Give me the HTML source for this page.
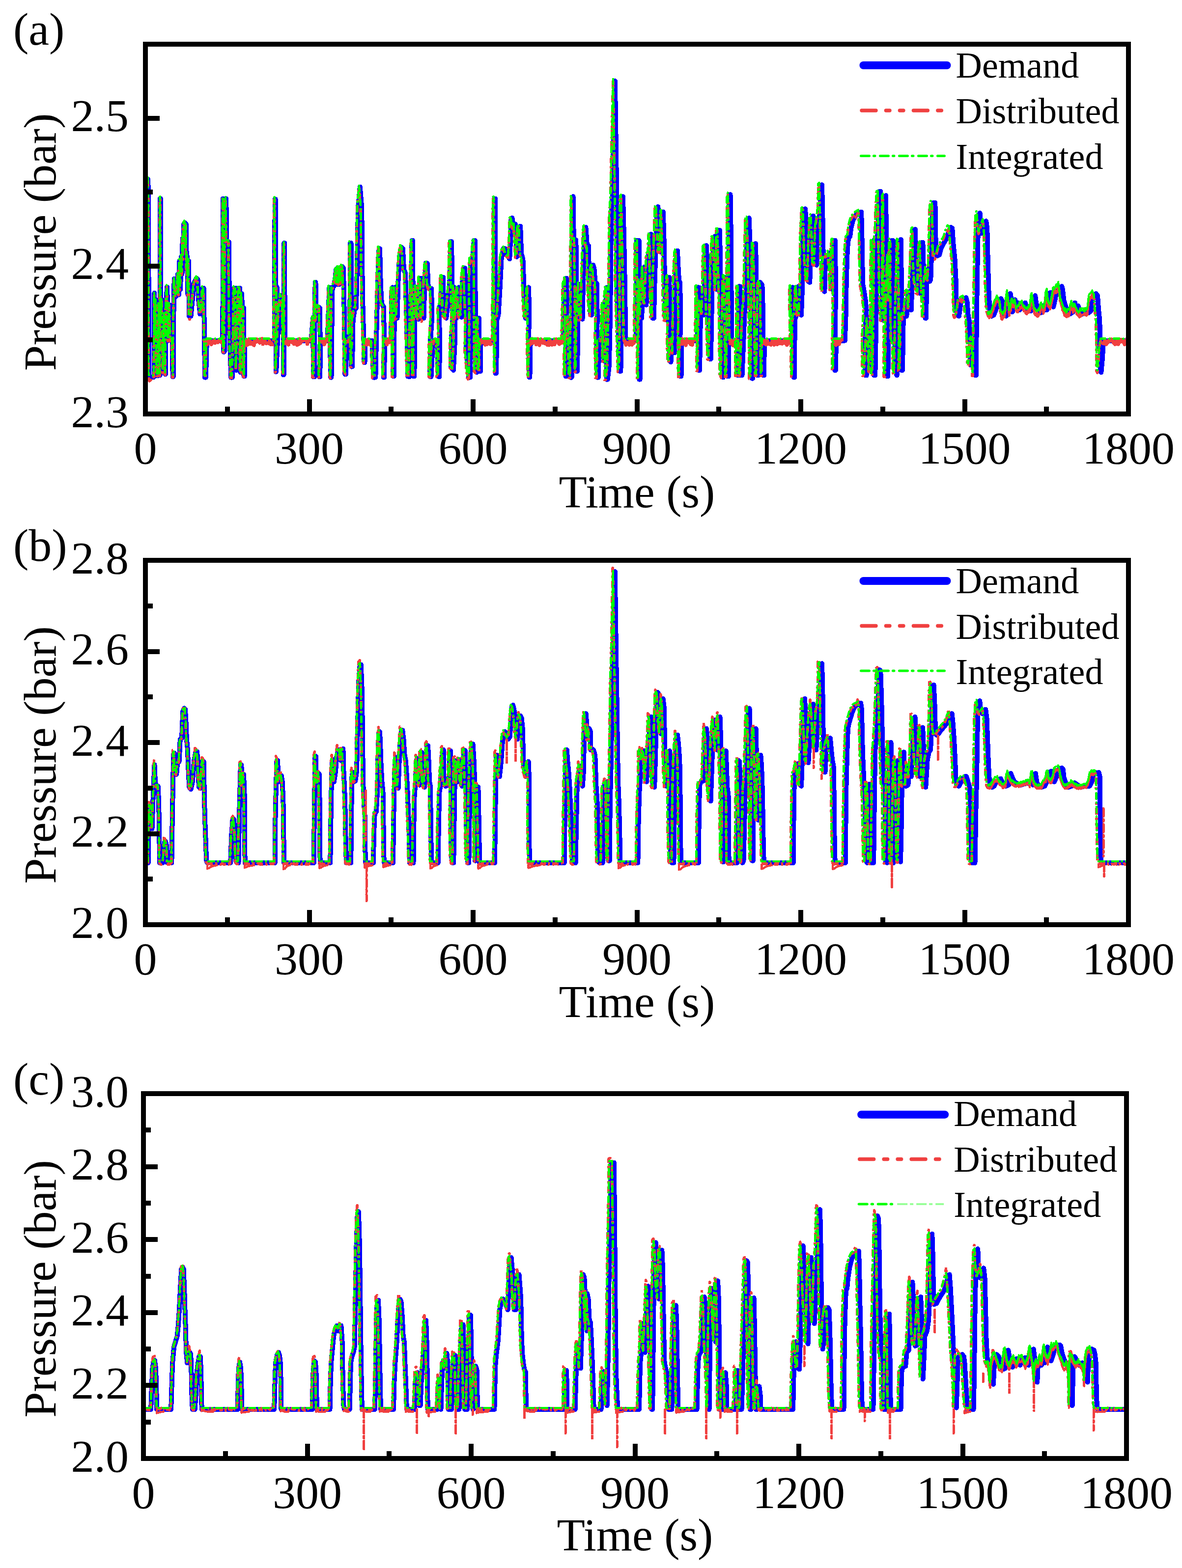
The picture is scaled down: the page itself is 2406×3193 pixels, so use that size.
<!DOCTYPE html>
<html lang="en"><head><meta charset="utf-8"><title>Pressure tracking</title>
<style>html,body{margin:0;padding:0;background:#fff}body{width:2406px;height:3193px}svg{display:block}text{font-family:"Liberation Serif", "Times New Roman", serif;fill:#000}</style></head><body>
<svg width="2406" height="3193" viewBox="0 0 2406 3193">
<rect width="2406" height="3193" fill="#fff"/>
<g id="chart-a">
<clipPath id="clip-a"><rect x="296" y="90" width="2001" height="753"/></clipPath>
<g clip-path="url(#clip-a)" fill="none" stroke-linejoin="round" stroke-linecap="round" shape-rendering="crispEdges">
<path d="M301.2 365.0 302.2 402.4 302.9 767.4 311.8 768.5 313.7 766.4 314.3 596.7 315.1 683.2 317.2 610.4 319.3 764.3 321.0 765.3 323.0 620.8 325.7 764.3 326.0 404.5 326.8 404.5 327.2 652.0 329.3 610.4 331.8 758.1 334.3 641.6 336.8 762.2 337.6 631.2 338.6 610.4 340.1 584.4 341.3 631.2 342.2 693.6 344.7 620.8 347.2 693.6 350.5 691.5 351.7 767.4 352.6 767.4 353.2 652.0 354.7 567.7 357.6 604.1 360.5 600.0 362.1 558.4 363.8 600.0 365.5 531.3 367.1 589.6 368.8 523.0 370.5 558.4 371.7 485.6 373.0 527.2 374.2 456.5 376.1 453.4 377.5 506.4 378.8 456.5 380.0 548.0 381.3 523.0 382.5 600.0 384.2 531.3 385.0 643.7 388.6 643.7 392.1 606.2 395.4 575.0 400.0 566.7 402.5 568.8 404.2 610.4 407.3 639.5 410.0 631.2 412.5 586.5 414.6 586.5 415.6 652.0 416.2 693.6 417.0 768.5 418.7 768.5 420.0 735.2 420.8 693.6 448.9 693.6 453.4 693.6 453.9 404.5 454.5 404.5 455.1 716.5 456.6 716.5 457.4 652.0 458.6 404.5 460.3 404.5 461.3 492.9 466.1 492.9 467.0 664.5 467.8 693.6 470.3 768.5 472.8 768.5 475.3 693.6 476.5 586.5 479.4 586.5 480.3 693.6 481.1 753.9 483.2 693.6 485.3 586.5 488.4 586.5 489.4 758.1 491.1 758.1 491.9 597.9 493.2 627.0 496.1 627.0 496.5 766.4 497.7 766.4 498.2 693.6 546.0 693.6 558.5 693.6 559.7 405.5 560.6 405.5 561.4 581.3 563.7 585.4 564.3 645.7 562.6 693.6 561.6 757.0 562.2 757.0 566.8 652.0 571.0 602.1 575.1 610.4 577.2 714.4 576.8 763.3 577.6 763.3 578.2 610.4 578.4 495.0 579.3 495.0 579.7 691.5 580.3 693.6 633.4 693.6 637.1 647.8 637.9 767.4 640.0 767.4 640.6 631.2 641.7 575.0 642.5 575.0 643.3 652.0 647.9 624.9 651.0 627.0 651.7 693.6 650.0 767.4 651.2 767.4 652.5 693.6 666.6 693.6 670.4 585.4 671.8 693.6 673.3 768.5 674.5 768.5 675.4 672.8 676.6 585.4 679.1 583.3 682.2 568.8 684.3 548.0 686.4 579.2 688.5 545.9 690.6 579.2 692.6 544.9 694.7 577.1 696.2 542.8 698.9 545.9 699.9 589.6 701.0 652.0 702.4 762.2 704.1 762.2 705.1 693.6 711.3 693.6 712.4 631.2 713.2 495.0 714.5 495.0 714.9 631.2 715.5 746.6 717.0 746.6 718.6 652.0 721.7 631.2 724.9 627.0 726.9 548.0 729.0 423.2 732.8 380.6 736.3 423.2 737.3 548.0 738.4 618.7 740.5 693.6 741.5 738.3 742.5 738.3 743.6 693.6 757.1 693.6 760.2 768.5 764.4 768.5 766.0 693.6 767.5 631.2 770.2 527.2 771.7 506.4 773.1 506.4 774.8 579.2 776.9 618.7 781.0 624.9 782.1 693.6 780.6 768.5 782.1 768.5 783.1 693.6 796.0 693.6 796.0 693.6 797.7 589.6 799.1 585.4 800.2 766.4 801.8 766.4 802.7 652.0 803.9 585.4 805.4 647.8 808.5 647.8 810.6 568.8 813.7 516.8 816.8 503.3 819.9 506.4 822.0 548.0 825.1 556.3 827.2 631.2 828.9 693.6 830.3 766.4 833.4 767.4 835.5 693.6 836.6 610.4 838.6 489.8 840.1 489.8 840.7 610.4 841.3 766.4 843.4 766.4 844.3 652.0 845.9 586.5 848.0 585.4 849.7 647.8 852.2 649.9 854.2 566.7 857.4 566.7 858.4 647.8 862.6 647.8 864.6 568.8 866.7 535.5 869.8 536.5 871.3 579.2 874.0 587.5 878.2 587.5 879.2 647.8 876.1 693.6 875.0 766.4 877.5 767.4 879.2 735.2 881.3 693.6 887.5 693.6 890.6 693.6 891.7 766.4 894.2 767.4 895.0 693.6 893.8 627.0 896.9 620.8 899.0 564.6 902.1 564.6 903.1 641.6 908.3 647.8 912.5 610.4 915.6 568.8 917.0 491.8 919.1 491.8 920.4 579.2 921.8 647.8 918.7 693.6 918.3 747.7 922.9 753.9 926.0 693.6 925.0 585.4 929.1 647.8 931.2 589.6 933.7 585.4 935.4 643.7 939.5 645.7 941.6 568.8 943.7 545.9 946.2 545.9 947.4 589.6 949.9 647.8 948.9 714.4 954.1 768.5 957.2 768.5 958.2 652.0 957.2 589.6 958.2 529.3 962.4 527.2 964.9 489.8 967.0 489.8 967.8 652.0 968.2 756.0 970.3 758.1 971.7 714.4 972.8 647.8 974.9 647.8 976.1 756.0 978.0 756.0 978.6 693.6 1005.0 693.6 1006.5 404.5 1008.1 404.5 1008.6 760.1 1010.2 760.1 1011.3 652.0 1014.4 641.6 1017.5 589.6 1020.6 527.2 1024.8 506.4 1027.9 506.4 1031.0 516.8 1037.3 527.2 1039.3 485.6 1040.4 448.2 1042.5 444.0 1046.0 464.8 1048.8 456.5 1051.9 523.0 1054.0 520.9 1056.1 464.8 1059.2 460.6 1061.3 516.8 1064.4 527.2 1065.9 568.8 1067.6 610.4 1069.7 647.8 1072.8 647.8 1074.9 589.6 1076.3 585.4 1077.0 652.0 1075.9 693.6 1077.6 768.5 1078.4 768.5 1079.7 693.6 1146.5 693.6 1149.0 581.3 1152.7 566.7 1154.2 610.4 1152.1 693.6 1151.5 766.4 1153.2 766.4 1155.2 652.0 1159.4 647.8 1161.5 768.5 1163.6 768.5 1164.6 652.0 1165.3 402.4 1166.7 400.3 1167.8 489.8 1172.4 488.7 1173.6 589.6 1174.0 693.6 1173.6 756.0 1175.1 756.0 1176.5 647.8 1180.3 579.2 1182.4 647.8 1185.5 649.9 1187.6 548.0 1190.7 464.8 1192.4 462.7 1194.9 498.1 1198.0 500.1 1199.1 568.8 1202.2 639.5 1204.3 641.6 1205.3 548.0 1207.4 539.7 1209.5 548.0 1211.6 575.0 1214.7 577.1 1215.8 647.8 1214.7 693.6 1215.8 768.5 1217.9 768.5 1219.5 693.6 1226.2 693.6 1228.7 620.8 1230.4 735.2 1232.5 620.8 1235.6 585.4 1237.7 587.5 1236.7 693.6 1234.6 772.6 1236.7 772.6 1239.8 745.6 1241.9 652.0 1242.9 568.8 1244.0 444.0 1246.5 400.3 1251.9 165.1 1255.4 400.3 1256.5 589.6 1259.6 693.6 1261.7 756.0 1263.4 756.0 1264.8 683.2 1265.9 402.4 1268.0 400.3 1270.1 485.6 1272.1 589.6 1273.2 683.2 1274.2 693.6 1295.1 693.6 1296.2 489.8 1298.2 489.8 1298.7 489.8 1300.7 489.8 1301.4 772.6 1302.6 772.6 1303.5 652.0 1304.3 572.9 1306.0 647.8 1309.1 589.6 1311.2 543.8 1313.3 610.4 1315.4 620.8 1319.5 518.9 1322.7 516.8 1324.3 477.3 1325.8 477.3 1326.8 568.8 1328.5 647.8 1331.0 647.8 1332.1 589.6 1334.1 527.2 1335.6 473.1 1337.3 423.2 1339.4 421.1 1341.5 464.8 1343.5 512.6 1346.7 512.6 1348.1 433.6 1349.8 431.5 1351.5 485.6 1352.3 527.2 1353.6 610.4 1354.4 647.8 1358.2 652.0 1360.2 566.7 1362.3 564.6 1363.4 652.0 1362.3 693.6 1363.4 735.2 1365.5 737.3 1367.5 693.6 1371.7 693.6 1372.8 718.5 1373.8 652.0 1374.4 568.8 1376.9 516.8 1379.0 510.5 1380.7 548.0 1382.2 572.9 1384.2 575.0 1385.3 652.0 1384.2 693.6 1384.9 766.4 1386.5 766.4 1387.4 693.6 1419.7 693.6 1420.4 585.4 1422.9 585.4 1423.3 693.6 1422.4 753.9 1424.1 753.9 1425.4 672.8 1427.0 614.5 1430.2 616.6 1432.3 641.6 1434.3 568.8 1435.4 502.2 1437.9 500.1 1439.6 548.0 1441.7 631.2 1443.7 693.6 1444.8 731.0 1446.9 731.0 1448.3 652.0 1450.0 548.0 1453.1 485.6 1455.2 481.4 1457.3 527.2 1459.4 589.6 1461.5 568.8 1462.5 469.0 1465.0 469.0 1466.3 548.0 1467.7 610.4 1468.8 693.6 1469.8 766.4 1471.9 768.5 1474.0 652.0 1476.1 564.6 1478.2 564.6 1479.6 652.0 1480.9 766.4 1483.0 766.4 1483.8 652.0 1484.4 402.4 1486.5 396.2 1488.0 485.6 1488.6 610.4 1489.3 693.6 1501.1 693.6 1501.8 764.3 1503.2 764.3 1503.9 583.3 1506.4 583.3 1507.4 693.6 1508.5 764.3 1510.5 764.3 1512.6 714.4 1515.8 631.2 1517.9 618.7 1519.9 527.2 1522.0 446.1 1524.7 444.0 1526.2 485.6 1528.3 589.6 1529.3 693.6 1530.4 770.5 1532.5 770.5 1533.5 652.0 1535.6 498.1 1538.1 496.0 1539.8 589.6 1540.8 693.6 1541.9 764.3 1543.9 764.3 1546.0 652.0 1547.1 575.0 1550.6 579.2 1550.6 579.2 1552.3 589.6 1553.1 693.6 1553.8 764.3 1555.2 764.3 1555.8 693.6 1613.3 693.6 1612.2 585.4 1614.3 585.4 1615.3 693.6 1615.8 768.5 1617.0 768.5 1617.8 652.0 1621.6 639.5 1623.7 589.6 1625.4 583.3 1627.4 639.5 1631.0 641.6 1633.1 585.4 1634.1 485.6 1636.6 427.4 1639.3 425.3 1640.8 475.2 1642.5 527.2 1645.6 572.9 1648.3 575.0 1650.4 506.4 1652.9 444.0 1655.4 439.8 1657.5 485.6 1659.2 537.6 1662.3 539.7 1664.4 464.8 1667.5 444.0 1670.0 423.2 1671.3 377.4 1673.0 376.4 1674.2 423.2 1675.5 506.4 1676.3 589.6 1678.4 593.7 1680.1 527.2 1684.2 525.1 1687.4 516.8 1690.5 514.7 1692.6 548.0 1694.7 589.6 1696.8 502.2 1698.4 489.8 1700.1 489.8 1700.9 589.6 1699.9 693.6 1699.3 753.9 1700.9 753.9 1702.0 693.6 1719.7 693.6 1721.4 652.0 1722.8 568.8 1724.9 506.4 1727.0 485.6 1730.2 481.4 1732.2 464.8 1736.4 448.2 1742.7 437.8 1748.9 433.6 1753.1 431.5 1754.2 464.8 1755.2 527.2 1756.2 579.2 1758.3 589.6 1761.5 610.4 1763.6 631.2 1760.4 693.6 1761.5 764.3 1763.6 764.3 1765.6 735.2 1767.7 693.6 1769.8 652.0 1771.9 683.2 1774.0 756.0 1777.1 652.0 1778.6 489.8 1780.3 489.8 1781.3 610.4 1780.3 693.6 1779.2 764.3 1781.3 764.3 1783.4 652.0 1784.8 485.6 1786.5 477.3 1788.6 423.2 1790.3 389.9 1792.4 389.9 1793.8 485.6 1795.9 610.4 1798.0 652.0 1801.5 631.2 1801.5 402.4 1803.2 398.2 1804.1 506.4 1805.3 766.4 1807.4 766.4 1808.9 589.6 1812.0 523.0 1814.1 610.4 1815.7 489.8 1817.8 489.8 1818.7 652.0 1819.3 693.6 1822.4 704.0 1823.5 756.0 1825.6 764.3 1827.6 652.0 1829.7 568.8 1831.8 489.8 1833.9 487.7 1835.0 589.6 1836.0 693.6 1835.0 753.9 1837.0 753.9 1838.7 652.0 1841.2 641.6 1845.4 643.7 1848.5 595.8 1851.7 593.7 1854.8 631.2 1856.9 568.8 1859.0 527.2 1861.0 469.0 1863.1 466.9 1864.2 527.2 1866.3 568.8 1870.4 595.8 1873.6 597.9 1874.6 527.2 1876.3 493.9 1878.4 493.9 1879.8 548.0 1881.9 610.4 1883.4 647.8 1885.1 647.8 1886.1 579.2 1889.2 548.0 1892.4 572.9 1894.4 568.8 1896.5 506.4 1898.6 423.2 1900.7 412.8 1903.4 412.8 1904.3 464.8 1904.9 518.9 1908.0 520.9 1912.2 518.9 1915.3 506.4 1920.5 496.0 1926.8 485.6 1932.0 469.0 1935.2 462.7 1938.3 464.8 1940.4 496.0 1943.5 527.2 1945.6 568.8 1946.6 610.4 1947.7 641.6 1951.9 643.7 1956.0 614.5 1962.3 608.3 1966.5 606.2 1968.6 614.5 1970.6 641.6 1972.7 652.0 1974.4 693.6 1975.9 743.5 1977.9 743.5 1980.0 693.6 1983.2 689.4 1984.8 714.4 1985.7 764.3 1986.9 764.3 1987.8 652.0 1989.0 568.8 1990.5 485.6 1992.6 437.8 1994.6 433.6 1996.7 464.8 1998.8 475.2 2003.0 460.6 2007.2 450.2 2009.3 464.8 2010.7 527.2 2012.4 589.6 2014.5 631.2 2018.7 643.7 2022.8 641.6 2027.0 631.2 2031.2 616.6 2037.4 608.3 2041.6 616.6 2043.7 639.5 2047.9 643.7 2052.5 635.3 2052.5 631.2 2054.6 610.4 2056.7 597.9 2058.7 610.4 2060.8 635.3 2064.0 627.0 2066.0 610.4 2069.2 620.8 2072.3 616.6 2075.4 631.2 2079.6 627.0 2083.8 620.8 2086.9 616.6 2090.1 627.0 2094.2 631.2 2098.4 633.3 2103.6 627.0 2105.7 606.2 2107.2 602.1 2108.8 614.5 2112.0 631.2 2117.2 637.4 2122.4 635.3 2126.6 620.8 2130.8 631.2 2134.3 620.8 2136.0 597.9 2138.1 595.8 2140.2 616.6 2144.3 624.9 2147.5 610.4 2150.6 593.7 2154.8 589.6 2158.9 587.5 2161.4 583.3 2163.1 589.6 2165.2 610.4 2169.4 624.9 2173.6 635.3 2177.7 639.5 2184.0 635.3 2188.2 616.6 2191.3 631.2 2194.4 622.9 2198.6 635.3 2202.8 639.5 2209.0 635.3 2215.3 637.4 2220.5 633.3 2223.7 610.4 2226.8 600.0 2231.0 597.9 2234.1 602.1 2236.2 631.2 2238.3 652.0 2239.3 693.6 2239.9 756.0 2241.4 758.1 2243.5 735.2 2245.6 704.0 2247.7 693.6 2250.8 693.6 2303.4 693.6" stroke="#0000ff" stroke-width="10"/>
<path d="M301.2 365.0 302.2 402.4 302.8 767.4 M302.8 767.4 304.3 774.9 305.8 774.3 307.3 773.2 308.8 768.8 310.3 769.9 311.7 768.5 M311.7 768.5 313.6 766.4 314.2 596.7 315.1 683.2 317.1 610.4 319.2 764.3 320.9 765.3 322.9 620.8 325.6 764.3 325.8 404.5 326.7 404.5 327.1 652.0 329.2 610.4 331.6 758.1 334.1 641.6 336.6 762.2 337.4 631.2 338.5 610.4 339.9 584.4 341.2 631.2 342.0 693.6 344.5 620.8 347.0 693.6 348.6 697.7 350.3 691.5 351.5 767.4 352.4 767.4 353.0 652.0 354.4 567.7 357.3 604.1 360.2 600.0 361.9 558.4 363.6 600.0 365.2 531.3 366.9 589.6 368.5 523.0 370.2 558.4 371.4 485.6 372.7 527.2 373.9 456.5 375.8 453.4 377.2 506.4 378.5 456.5 379.7 548.0 381.0 523.0 382.2 600.0 383.9 531.3 384.7 643.7 386.5 649.6 388.2 643.7 391.7 606.2 395.1 575.0 399.6 566.7 400.9 566.6 402.1 568.8 403.8 610.4 406.9 639.5 409.6 631.2 412.0 586.5 414.1 586.5 415.2 652.0 415.8 693.6 416.6 768.5 418.3 768.5 419.5 735.2 420.3 693.6 M448.3 693.6 449.8 693.2 451.3 697.6 452.9 693.6 453.3 404.5 453.9 404.5 454.5 716.5 456.0 716.5 456.8 652.0 458.0 404.5 459.7 404.5 460.7 492.9 462.3 498.8 463.9 499.0 465.5 492.9 466.3 664.5 467.2 693.6 469.7 768.5 472.1 768.5 474.6 693.6 475.9 586.5 478.8 586.5 479.6 693.6 480.4 753.9 482.5 693.6 484.6 586.5 486.1 587.4 487.7 586.5 488.7 758.1 490.4 758.1 491.2 597.9 492.4 627.0 495.3 627.0 495.8 766.4 497.0 766.4 497.4 693.6 M557.5 693.6 558.8 405.5 559.6 405.5 560.4 581.3 562.7 585.4 563.3 645.7 561.7 693.6 560.6 757.0 561.2 757.0 565.8 652.0 569.9 602.1 574.1 610.4 576.2 714.4 575.7 763.3 576.6 763.3 577.2 610.4 577.4 495.0 578.2 495.0 578.6 691.5 579.3 693.6 M632.1 693.6 635.8 647.8 636.7 767.4 638.7 767.4 639.4 631.2 640.4 575.0 641.2 575.0 642.1 652.0 646.6 624.9 648.2 626.7 649.7 627.0 650.3 693.6 648.7 767.4 649.9 767.4 651.2 693.6 M665.3 693.6 669.0 585.4 670.4 693.6 671.9 768.5 673.1 768.5 674.0 672.8 675.2 585.4 676.5 591.6 677.7 583.3 680.8 568.8 682.9 548.0 685.0 579.2 687.0 545.9 689.1 579.2 691.2 544.9 693.2 577.1 694.7 542.8 696.0 547.5 697.4 545.9 698.4 589.6 699.5 652.0 700.9 762.2 702.6 762.2 703.6 693.6 705.2 695.8 706.7 694.2 708.3 695.7 709.8 693.6 710.9 631.2 711.7 495.0 712.9 495.0 713.3 631.2 714.0 746.6 715.4 746.6 717.1 652.0 720.2 631.2 723.3 627.0 725.4 548.0 727.4 423.2 731.2 380.6 734.7 423.2 735.7 548.0 736.8 618.7 738.8 693.6 739.9 738.3 740.9 738.3 741.9 693.6 M755.4 693.6 758.5 768.5 760.6 767.2 762.7 768.5 764.3 693.6 765.8 631.2 768.5 527.2 769.9 506.4 771.4 506.4 773.0 579.2 775.1 618.7 779.2 624.9 780.3 693.6 778.8 768.5 780.3 768.5 781.3 693.6 M794.2 693.6 794.2 693.6 795.8 589.6 797.3 585.4 798.3 766.4 800.0 766.4 800.8 652.0 802.0 585.4 803.5 647.8 805.0 649.3 806.6 647.8 808.7 568.8 811.8 516.8 814.9 503.3 815.9 509.2 817.0 510.1 818.0 506.4 820.1 548.0 823.2 556.3 825.2 631.2 826.9 693.6 828.3 766.4 829.9 765.7 831.5 767.4 833.5 693.6 834.6 610.4 836.6 489.8 838.1 489.8 838.7 610.4 839.3 766.4 841.4 766.4 842.2 652.0 843.9 586.5 846.0 585.4 847.6 647.8 848.9 651.5 850.1 649.9 852.2 566.7 853.7 566.5 855.3 566.7 856.3 647.8 858.4 653.7 860.5 647.8 862.5 568.8 864.6 535.5 866.2 539.1 867.7 536.5 869.2 579.2 871.9 587.5 873.9 589.5 876.0 587.5 877.0 647.8 873.9 693.6 872.9 766.4 875.4 767.4 877.0 735.2 879.1 693.6 880.7 699.6 882.2 699.7 883.8 692.9 885.3 693.6 886.9 693.1 888.4 693.6 889.5 766.4 892.0 767.4 892.8 693.6 891.6 627.0 894.7 620.8 896.7 564.6 898.3 566.2 899.8 564.6 900.9 641.6 906.1 647.8 910.2 610.4 913.3 568.8 914.8 491.8 916.8 491.8 918.1 579.2 919.5 647.8 916.4 693.6 916.0 747.7 920.6 753.9 923.7 693.6 922.6 585.4 926.8 647.8 928.8 589.6 931.3 585.4 933.0 643.7 934.4 645.9 935.8 647.7 937.1 645.7 939.2 568.8 941.3 545.9 943.8 545.9 945.0 589.6 947.5 647.8 946.5 714.4 951.6 768.5 953.2 771.0 954.8 768.5 955.8 652.0 954.8 589.6 955.8 529.3 957.2 536.0 958.6 532.6 959.9 527.2 962.4 489.8 964.5 489.8 965.3 652.0 965.7 756.0 967.8 758.1 969.3 714.4 970.3 647.8 972.4 647.8 973.6 756.0 975.5 756.0 976.1 693.6 M1002.4 693.6 1003.9 404.5 1005.5 404.5 1005.9 760.1 1007.6 760.1 1008.6 652.0 1011.7 641.6 1014.8 589.6 1018.0 527.2 1022.1 506.4 1023.7 506.4 1025.2 506.4 1028.3 516.8 1034.5 527.2 1036.6 485.6 1037.6 448.2 1039.7 444.0 1043.2 464.8 1046.0 456.5 1049.1 523.0 1051.2 520.9 1053.3 464.8 1056.4 460.6 1058.5 516.8 1061.6 527.2 1063.1 568.8 1064.7 610.4 1066.8 647.8 1068.4 648.7 1069.9 647.8 1072.0 589.6 1073.5 585.4 1074.1 652.0 1073.0 693.6 1074.7 768.5 1075.5 768.5 1076.8 693.6 M1143.3 693.6 1145.8 581.3 1149.6 566.7 1151.0 610.4 1149.0 693.6 1148.3 766.4 1150.0 766.4 1152.1 652.0 1153.1 656.9 1154.2 655.6 1155.2 651.0 1156.2 647.8 1158.3 768.5 1160.4 768.5 1161.4 652.0 1162.1 402.4 1163.5 400.3 1164.6 489.8 1166.1 496.7 1167.6 495.4 1169.1 488.7 1170.4 589.6 1170.8 693.6 1170.4 756.0 1171.8 756.0 1173.3 647.8 1177.0 579.2 1179.1 647.8 1180.7 654.9 1182.2 649.9 1184.3 548.0 1187.4 464.8 1189.1 462.7 1191.6 498.1 1193.2 502.7 1194.7 500.1 1195.8 568.8 1198.9 639.5 1201.0 641.6 1202.0 548.0 1204.1 539.7 1206.1 548.0 1208.2 575.0 1209.8 580.5 1211.3 577.1 1212.4 647.8 1211.3 693.6 1212.4 768.5 1214.5 768.5 1216.1 693.6 1217.8 693.4 1219.5 692.6 1221.1 692.4 1222.8 693.6 1225.3 620.8 1226.9 735.2 1229.0 620.8 1232.1 585.4 1234.2 587.5 1233.2 693.6 1231.1 772.6 1233.2 772.6 1236.3 745.6 1238.4 652.0 1239.4 568.8 1240.5 444.0 1243.0 400.3 1248.4 165.1 1251.9 400.3 1252.9 589.6 1256.1 693.6 1258.1 756.0 1259.8 756.0 1261.3 683.2 1262.3 402.4 1264.4 400.3 1266.5 485.6 1268.5 589.6 1269.6 683.2 1270.6 693.6 M1291.4 693.6 1292.5 489.8 1294.5 489.8 1295.0 489.8 1297.0 489.8 1297.7 772.6 1298.9 772.6 1299.7 652.0 1300.6 572.9 1302.2 647.8 1305.4 589.6 1307.4 543.8 1309.5 610.4 1311.6 620.8 1315.8 518.9 1317.3 517.9 1318.9 516.8 1320.5 477.3 1322.0 477.3 1323.0 568.8 1324.7 647.8 1327.2 647.8 1328.2 589.6 1330.3 527.2 1331.8 473.1 1333.4 423.2 1335.5 421.1 1337.6 464.8 1339.7 512.6 1341.2 513.1 1342.8 512.6 1344.3 433.6 1345.9 431.5 1347.6 485.6 1348.4 527.2 1349.7 610.4 1350.5 647.8 1351.7 651.1 1353.0 649.5 1354.2 652.0 1356.3 566.7 1358.4 564.6 1359.4 652.0 1358.4 693.6 1359.4 735.2 1361.5 737.3 1363.6 693.6 1365.7 700.2 1367.8 693.6 1368.8 718.5 1369.8 652.0 1370.5 568.8 1373.0 516.8 1375.0 510.5 1376.7 548.0 1378.2 572.9 1380.2 575.0 1381.3 652.0 1380.2 693.6 1380.9 766.4 1382.5 766.4 1383.4 693.6 M1415.6 693.6 1416.2 585.4 1418.7 585.4 1419.1 693.6 1418.3 753.9 1420.0 753.9 1421.2 672.8 1422.9 614.5 1424.4 615.9 1426.0 616.6 1428.1 641.6 1430.2 568.8 1431.2 502.2 1432.4 505.2 1433.7 500.1 1435.4 548.0 1437.4 631.2 1439.5 693.6 1440.6 731.0 1442.6 731.0 1444.1 652.0 1445.8 548.0 1448.9 485.6 1451.0 481.4 1453.0 527.2 1455.1 589.6 1457.2 568.8 1458.2 469.0 1460.7 469.0 1462.0 548.0 1463.4 610.4 1464.5 693.6 1465.5 766.4 1467.6 768.5 1469.7 652.0 1471.7 564.6 1473.8 564.6 1475.3 652.0 1476.5 766.4 1478.6 766.4 1479.4 652.0 1480.1 402.4 1482.1 396.2 1483.6 485.6 1484.2 610.4 1484.9 693.6 M1496.7 693.6 1497.3 764.3 1498.8 764.3 1499.4 583.3 1501.9 583.3 1502.9 693.6 1504.0 764.3 1506.1 764.3 1508.1 714.4 1511.3 631.2 1513.3 618.7 1515.4 527.2 1517.5 446.1 1518.9 452.4 1520.2 444.0 1521.7 485.6 1523.7 589.6 1524.8 693.6 1525.8 770.5 1527.9 770.5 1528.9 652.0 1531.0 498.1 1532.3 501.5 1533.5 496.0 1535.2 589.6 1536.2 693.6 1537.3 764.3 1539.3 764.3 1541.4 652.0 1542.5 575.0 1543.6 579.5 1544.8 580.9 1546.0 579.2 1546.0 579.2 1547.7 589.6 1548.5 693.6 1549.1 764.3 1550.6 764.3 1551.2 693.6 M1608.4 693.6 1607.4 585.4 1609.4 585.4 1610.5 693.6 1610.9 768.5 1612.1 768.5 1613.0 652.0 1616.7 639.5 1618.8 589.6 1620.5 583.3 1622.5 639.5 1624.3 645.8 1626.1 641.6 1628.2 585.4 1629.2 485.6 1631.7 427.4 1633.0 427.8 1634.4 425.3 1635.9 475.2 1637.5 527.2 1640.6 572.9 1642.0 574.8 1643.3 575.0 1645.4 506.4 1647.9 444.0 1650.4 439.8 1652.5 485.6 1654.2 537.6 1655.7 539.0 1657.3 539.7 1659.4 464.8 1662.5 444.0 1665.0 423.2 1666.2 377.4 1667.9 376.4 1669.1 423.2 1670.4 506.4 1671.2 589.6 1673.3 593.7 1675.0 527.2 1676.3 527.6 1677.7 529.0 1679.1 525.1 1682.2 516.8 1683.8 520.8 1685.4 514.7 1687.4 548.0 1689.5 589.6 1691.6 502.2 1693.3 489.8 1694.9 489.8 1695.8 589.6 1694.7 693.6 1694.1 753.9 1695.8 753.9 1696.8 693.6 M1714.5 693.6 1716.1 652.0 1717.6 568.8 1719.7 506.4 1721.7 485.6 1724.9 481.4 1726.9 464.8 1731.1 448.2 1737.3 437.8 1738.6 436.6 1739.8 435.5 1741.1 437.7 1742.3 441.7 1743.6 433.6 1745.0 436.7 1746.4 433.4 1747.7 431.5 1748.8 464.8 1749.8 527.2 1750.9 579.2 1752.9 589.6 1756.1 610.4 1758.1 631.2 1755.0 693.6 1756.1 764.3 1758.1 764.3 1760.2 735.2 1762.3 693.6 1764.4 652.0 1766.5 683.2 1768.5 756.0 1771.7 652.0 1773.1 489.8 1774.8 489.8 1775.8 610.4 1774.8 693.6 1773.7 764.3 1775.8 764.3 1777.9 652.0 1779.4 485.6 1781.0 477.3 1783.1 423.2 1784.8 389.9 1786.8 389.9 1788.3 485.6 1790.4 610.4 1792.5 652.0 1796.0 631.2 1796.0 402.4 1797.7 398.2 1798.5 506.4 1799.7 766.4 1801.8 766.4 1803.3 589.6 1806.4 523.0 1808.5 610.4 1810.1 489.8 1812.2 489.8 1813.1 652.0 1813.7 693.6 1816.8 704.0 1817.8 756.0 1819.9 764.3 1822.0 652.0 1824.1 568.8 1826.2 489.8 1828.2 487.7 1829.3 589.6 1830.3 693.6 1829.3 753.9 1831.4 753.9 1833.0 652.0 1835.5 641.6 1836.9 649.6 1838.3 644.2 1839.7 643.7 1842.8 595.8 1844.4 594.7 1845.9 593.7 1849.0 631.2 1851.1 568.8 1853.2 527.2 1855.3 469.0 1857.4 466.9 1858.4 527.2 1860.5 568.8 1864.6 595.8 1866.2 596.7 1867.8 597.9 1868.8 527.2 1870.5 493.9 1872.5 493.9 1874.0 548.0 1876.1 610.4 1877.5 647.8 1879.2 647.8 1880.2 579.2 1883.4 548.0 1886.5 572.9 1888.6 568.8 1890.6 506.4 1892.7 423.2 1894.8 412.8 1897.5 412.8 1898.3 464.8 1899.0 518.9 1900.5 518.8 1902.1 520.9 1903.5 527.2 1904.8 523.0 1906.2 518.9 1909.4 506.4 1914.6 496.0 1920.8 485.6 1926.0 469.0 1929.1 462.7 1930.7 471.3 1932.2 464.8 1934.3 496.0 1937.4 527.2 1939.5 568.8 1940.6 610.4 1941.6 641.6 1943.0 645.8 1944.4 642.3 1945.8 643.7 1949.9 614.5 1951.0 615.5 1952.0 614.3 1953.0 611.5 1954.1 609.8 1955.1 614.2 1956.1 608.3 1957.5 614.1 1958.9 614.0 1960.3 606.2 1962.4 614.5 1964.5 641.6 1966.5 652.0 1968.2 693.6 1969.7 743.5 1971.7 743.5 1973.8 693.6 1976.9 689.4 1978.6 714.4 1979.4 764.3 1980.7 764.3 1981.5 652.0 1982.8 568.8 1984.2 485.6 1986.3 437.8 1988.4 433.6 1990.5 464.8 1992.5 475.2 1996.7 460.6 2000.9 450.2 2002.9 464.8 2004.4 527.2 2006.1 589.6 2008.1 631.2 2012.3 643.7 2013.7 643.8 2015.1 646.5 2016.5 641.6 2020.6 631.2 2024.8 616.6 2031.0 608.3 2035.2 616.6 2037.3 639.5 2038.3 641.5 2039.3 647.9 2040.4 649.5 2041.4 643.7 2046.0 635.3 2046.0 631.2 2048.1 610.4 2050.2 597.9 2052.2 610.4 2054.3 635.3 2057.4 627.0 2059.5 610.4 2062.6 620.8 2065.8 616.6 2068.9 631.2 2069.9 628.9 2071.0 629.5 2072.0 634.6 2073.0 627.0 2077.2 620.8 2080.3 616.6 2083.4 627.0 2084.5 635.6 2085.5 635.4 2086.6 629.4 2087.6 631.2 2089.0 636.0 2090.4 638.2 2091.8 633.3 2092.8 635.8 2093.8 634.3 2094.9 635.2 2095.9 627.5 2097.0 627.0 2099.0 606.2 2100.5 602.1 2102.2 614.5 2105.3 631.2 2106.3 636.2 2107.4 641.1 2108.4 638.6 2109.4 638.1 2110.5 637.4 2111.8 636.8 2113.1 643.1 2114.4 640.6 2115.7 635.3 2119.8 620.8 2124.0 631.2 2127.5 620.8 2129.2 597.9 2131.3 595.8 2133.4 616.6 2137.5 624.9 2140.6 610.4 2143.8 593.7 2144.8 600.0 2145.8 599.0 2146.9 595.5 2147.9 589.6 2149.3 595.3 2150.7 594.3 2152.1 587.5 2154.6 583.3 2156.2 589.6 2158.3 610.4 2162.5 624.9 2166.6 635.3 2167.7 641.8 2168.7 639.9 2169.8 643.2 2170.8 639.5 2172.0 644.4 2173.3 638.9 2174.5 642.8 2175.8 640.3 2177.0 635.3 2181.2 616.6 2184.3 631.2 2187.4 622.9 2191.6 635.3 2192.6 638.5 2193.7 640.0 2194.7 645.4 2195.8 639.5 2197.0 637.9 2198.2 636.9 2199.5 640.2 2200.7 635.8 2202.0 635.3 2203.5 642.3 2205.1 643.4 2206.7 638.8 2208.2 637.4 2209.5 638.2 2210.8 640.0 2212.1 641.0 2213.4 633.3 2216.5 610.4 2219.7 600.0 2221.1 603.7 2222.4 605.3 2223.8 597.9 2226.9 602.1 2229.0 631.2 2231.1 652.0 2232.1 693.6 2232.8 756.0 2234.2 758.1 2236.3 735.2 2238.4 704.0 2240.5 693.6 2242.0 695.3 2243.6 693.6" stroke="#f04040" stroke-width="5.6" stroke-dasharray="14 6 5 6" stroke-linecap="butt" transform="translate(-0.5 1)"/>
<path d="M420.3 691.2 422.0 700.7 423.6 690.6 425.3 697.6 426.9 693.4 428.6 697.5 430.2 700.3 431.9 696.6 433.5 694.2 435.1 693.3 436.8 697.2 438.4 697.2 440.1 694.4 441.7 695.1 443.4 696.0 445.0 692.4 446.7 691.4 448.3 696.5 M497.4 694.5 499.1 701.1 500.7 693.6 502.3 702.0 504.0 691.7 505.6 700.0 507.3 689.6 508.9 697.8 510.6 699.5 512.2 696.2 513.9 697.3 515.5 701.0 517.1 702.0 518.8 691.4 520.4 695.9 522.1 689.6 523.7 694.0 525.4 691.0 527.0 691.2 528.6 697.2 530.3 690.2 531.9 691.1 533.6 689.2 535.2 699.7 536.9 692.2 538.5 690.0 540.1 697.2 541.8 698.4 543.4 697.3 545.1 696.2 M545.1 696.0 546.9 698.4 548.6 693.1 550.4 700.0 552.2 698.1 554.0 700.2 555.7 700.7 557.5 700.0 M579.3 695.8 580.9 695.9 582.5 698.6 584.1 696.6 585.7 689.4 587.3 701.0 588.9 691.7 590.5 695.4 592.1 695.0 593.7 690.3 595.3 696.6 596.9 696.8 598.5 699.6 600.1 697.0 601.7 693.1 603.3 696.4 604.9 701.5 606.5 697.4 608.1 700.0 609.7 689.2 611.3 698.0 612.9 691.8 614.5 691.2 616.1 693.4 617.7 691.4 619.3 690.2 620.9 691.8 622.5 692.1 624.1 692.3 625.7 699.5 627.3 690.2 628.9 691.7 630.5 689.8 632.1 695.7 M651.2 696.0 652.9 692.2 654.7 691.6 656.5 695.4 658.2 690.0 660.0 700.6 661.7 696.4 663.5 694.2 665.3 696.2 M741.9 699.1 743.6 697.0 745.3 692.7 747.0 700.8 748.7 690.8 750.4 693.7 752.0 699.2 753.7 701.0 755.4 695.0 M781.3 696.4 782.9 694.6 784.5 689.5 786.1 693.6 787.7 700.5 789.3 689.6 790.9 691.4 792.6 691.2 794.2 699.4 M976.1 701.6 977.7 697.1 979.4 692.1 981.0 696.5 982.7 691.2 984.3 696.7 986.0 690.9 987.6 701.2 989.3 693.0 990.9 700.7 992.5 691.9 994.2 691.8 995.8 692.3 997.5 699.8 999.1 699.8 1000.8 698.8 1002.4 696.6 M1076.8 689.5 1078.4 701.2 1080.0 690.7 1081.7 698.4 1083.3 689.1 1084.9 692.8 1086.5 696.9 1088.1 691.5 1089.8 690.0 1091.4 700.7 1093.0 692.8 1094.6 689.2 1096.3 698.2 1097.9 701.9 1099.5 696.2 1101.1 689.5 1102.8 694.5 1104.4 697.0 1106.0 692.3 1107.6 694.5 1109.2 698.7 1110.9 697.6 1112.5 699.9 1114.1 701.4 1115.7 695.8 1117.4 701.8 1119.0 690.6 1120.6 695.8 1122.2 697.9 1123.9 701.1 1125.5 695.2 1127.1 694.8 1128.7 700.7 1130.4 695.2 1132.0 689.8 1133.6 694.9 1135.2 692.6 1136.8 697.6 1138.5 699.7 1140.1 689.7 1141.7 693.2 1143.3 700.8 M1270.6 689.8 1272.4 695.7 1274.1 701.4 1275.8 696.6 1277.6 699.3 1279.3 698.9 1281.0 701.4 1282.8 692.7 1284.5 695.5 1286.2 701.1 1288.0 693.4 1289.7 698.2 1291.4 694.4 M1383.4 693.7 1385.0 692.2 1386.6 699.5 1388.2 689.2 1389.8 699.0 1391.4 694.9 1393.0 690.2 1394.6 694.2 1396.2 701.9 1397.9 689.6 1399.5 692.8 1401.1 691.4 1402.7 696.8 1404.3 691.7 1405.9 700.1 1407.5 693.8 1409.1 701.4 1410.8 690.7 1412.4 692.1 1414.0 689.4 1415.6 689.7 M1484.9 696.2 1486.5 698.5 1488.2 692.1 1489.9 696.9 1491.6 701.9 1493.3 693.3 1495.0 692.1 1496.7 691.5 M1551.2 690.1 1552.8 692.0 1554.5 698.2 1556.1 692.3 1557.7 695.8 1559.4 700.8 1561.0 691.5 1562.6 695.2 1564.3 699.0 1565.9 698.8 1567.5 699.8 1569.2 700.9 1570.8 696.6 1572.4 692.0 1574.1 695.7 1575.7 701.1 1577.3 691.7 1579.0 692.9 1580.6 691.6 1582.2 700.5 1583.9 690.3 1585.5 691.0 1587.2 697.0 1588.8 698.6 1590.4 694.6 1592.1 698.8 1593.7 698.3 1595.3 694.2 1597.0 690.0 1598.6 698.1 1600.2 697.1 1601.9 701.5 1603.5 698.2 1605.1 689.9 1606.8 691.6 1608.4 693.1 M1696.8 700.1 1698.4 690.4 1700.0 696.3 1701.6 701.7 1703.2 694.2 1704.8 690.7 1706.4 697.6 1708.0 699.8 1709.6 689.6 1711.3 690.2 1712.9 693.1 1714.5 693.8 M2243.6 695.2 2245.2 698.0 2246.9 698.7 2248.5 694.1 2250.1 693.7 2251.8 700.1 2253.4 697.8 2255.1 696.0 2256.7 692.3 2258.3 693.8 2260.0 690.2 2261.6 692.3 2263.2 690.2 2264.9 692.0 2266.5 697.2 2268.2 696.3 2269.8 700.1 2271.4 696.4 2273.1 693.5 2274.7 693.6 2276.3 699.9 2278.0 689.3 2279.6 691.2 2281.3 694.9 2282.9 691.0 2284.5 694.2 2286.2 691.1 2287.8 697.1 2289.4 700.3 2291.1 694.2 2292.7 699.1 2294.4 689.1 2296.0 690.5" stroke="#f04040" stroke-width="7.5" stroke-linecap="butt" transform="translate(0 1)"/>
<path d="M2012.3 646.6 2013.7 647.8 2015.1 646.4 2016.5 646.1 2017.9 645.0 2019.2 637.6 2020.6 634.9 2022.0 631.7 2023.4 625.3 2024.8 624.0 2026.3 619.2 2027.9 614.5 2029.5 614.0 2031.0 612.0 2032.4 615.5 2033.8 615.9 2035.2 624.2 2037.3 644.0 2038.7 647.1 2040.0 647.0 2041.4 648.4 2042.9 644.7 2044.5 645.5 2046.0 638.2 2046.0 636.3 2048.1 614.0 2050.2 601.8 2052.2 613.0 2054.3 643.1 2055.9 635.0 2057.4 633.2 2059.5 616.8 2061.1 623.1 2062.6 625.5 2064.2 623.6 2065.8 623.6 2067.3 629.2 2068.9 634.6 2070.3 634.0 2071.7 635.8 2073.0 630.9 2074.4 630.6 2075.8 629.5 2077.2 627.6 2078.8 624.4 2080.3 623.3 2081.9 629.7 2083.4 631.9 2084.8 632.5 2086.2 634.2 2087.6 637.6 2089.0 635.0 2090.4 639.7 2091.8 636.8 2093.1 634.6 2094.4 636.5 2095.7 632.5 2097.0 633.6 2099.0 609.4 2100.5 605.7 2102.2 619.4 2103.7 629.1 2105.3 636.5 2106.6 640.5 2107.9 641.9 2109.2 638.6 2110.5 644.5 2111.8 644.9 2113.1 640.1 2114.4 640.4 2115.7 640.7 2117.1 638.4 2118.4 629.2 2119.8 624.6 2121.2 631.4 2122.6 631.5 2124.0 638.7 2125.2 632.5 2126.4 632.2 2127.5 624.7 2129.2 602.0 2131.3 602.4 2133.4 623.4 2134.7 625.6 2136.1 625.7 2137.5 630.1 2139.1 624.1 2140.6 616.8 2142.2 609.8 2143.8 600.3 2145.1 598.4 2146.5 597.2 2147.9 595.5 2149.3 595.9 2150.7 592.8 2152.1 593.5 2153.3 590.7 2154.6 585.7 2156.2 594.1 2158.3 614.2 2159.7 619.3 2161.1 622.2 2162.5 632.0 2163.9 632.3 2165.2 637.1 2166.6 638.5 2168.0 641.6 2169.4 644.7 2170.8 645.3 2172.4 645.0 2173.9 643.4 2175.5 644.2 2177.0 640.9 2178.4 632.0 2179.8 625.4 2181.2 624.3 2182.8 629.4 2184.3 636.9 2185.9 633.3 2187.4 629.3 2188.8 631.1 2190.2 634.6 2191.6 640.6 2193.0 640.8 2194.4 643.3 2195.8 643.8 2197.3 646.3 2198.9 645.1 2200.4 642.5 2202.0 642.7 2203.5 641.4 2205.1 640.6 2206.7 640.8 2208.2 641.5 2209.5 641.8 2210.8 637.7 2212.1 636.8 2213.4 641.2 2215.0 624.8 2216.5 613.6 2218.1 611.3 2219.7 604.9 2221.1 605.7 2222.4 600.7 2223.8 600.0 2225.4 604.2 2226.9 608.8" stroke="#f04040" stroke-width="4.5" stroke-linecap="butt"/>
<path d="M2012.3 643.7 2013.7 638.1 2015.1 642.5 2016.5 637.8 2017.9 636.7 2019.2 635.6 2020.6 629.7 2022.0 623.6 2023.4 619.9 2024.8 615.9 2026.3 613.3 2027.9 610.8 2029.5 605.5 2031.0 610.1 2032.4 610.9 2033.8 614.9 2035.2 616.9 2037.3 635.3 2038.7 638.4 2040.0 641.1 2041.4 639.1 2042.9 641.4 2044.5 636.0 2046.0 634.0 2046.0 632.5 2048.1 606.9 2050.2 594.6 2052.2 609.1 2054.3 630.2 2055.9 627.2 2057.4 622.7 2059.5 612.2 2061.1 614.7 2062.6 621.2 2064.2 617.8 2065.8 613.2 2067.3 620.9 2068.9 632.8 2070.3 628.7 2071.7 627.3 2073.0 624.4 2074.4 626.2 2075.8 618.7 2077.2 621.8 2078.8 618.3 2080.3 616.5 2081.9 623.8 2083.4 624.9 2084.8 626.7 2086.2 627.1 2087.6 630.6 2089.0 632.7 2090.4 632.7 2091.8 629.1 2093.1 632.2 2094.4 624.4 2095.7 627.7 2097.0 622.4 2099.0 602.8 2100.5 600.6 2102.2 609.7 2103.7 622.6 2105.3 630.5 2106.6 633.0 2107.9 632.1 2109.2 636.6 2110.5 637.4 2111.8 635.3 2113.1 635.6 2114.4 631.9 2115.7 634.1 2117.1 626.8 2118.4 620.8 2119.8 619.6 2121.2 625.7 2122.6 625.5 2124.0 626.5 2125.2 626.8 2126.4 619.8 2127.5 620.0 2129.2 597.8 2131.3 591.5 2133.4 613.0 2134.7 616.9 2136.1 621.5 2137.5 624.5 2139.1 619.3 2140.6 609.2 2142.2 603.5 2143.8 589.5 2145.1 588.4 2146.5 592.7 2147.9 589.9 2149.3 586.0 2150.7 582.7 2152.1 583.5 2153.3 582.7 2154.6 577.5 2156.2 588.4 2158.3 611.7 2159.7 611.9 2161.1 616.9 2162.5 621.2 2163.9 625.6 2165.2 630.7 2166.6 631.7 2168.0 631.1 2169.4 632.6 2170.8 640.9 2172.4 637.7 2173.9 632.5 2175.5 633.7 2177.0 635.4 2178.4 626.1 2179.8 622.1 2181.2 618.6 2182.8 620.8 2184.3 628.8 2185.9 622.2 2187.4 622.5 2188.8 624.8 2190.2 629.5 2191.6 631.8 2193.0 635.7 2194.4 636.9 2195.8 640.8 2197.3 638.6 2198.9 632.1 2200.4 631.4 2202.0 632.4 2203.5 631.4 2205.1 631.8 2206.7 632.3 2208.2 638.2 2209.5 631.2 2210.8 635.7 2212.1 632.1 2213.4 633.2 2215.0 619.5 2216.5 606.2 2218.1 602.4 2219.7 601.3 2221.1 599.5 2222.4 597.8 2223.8 595.2 2225.4 599.9 2226.9 602.1" stroke="#00ff00" stroke-width="3.8" transform="translate(-0.5 -4)"/>
<path d="M301.2 365.0 302.2 402.4 302.8 767.4 311.7 768.5 313.6 766.4 314.2 596.7 315.1 683.2 317.1 610.4 319.2 764.3 320.9 765.3 322.9 620.8 325.6 764.3 325.8 404.5 326.7 404.5 327.1 652.0 329.2 610.4 331.6 758.1 334.1 641.6 336.6 762.2 337.4 631.2 338.5 610.4 339.9 584.4 341.2 631.2 342.0 693.6 344.5 620.8 347.0 693.6 350.3 691.5 351.5 767.4 352.4 767.4 353.0 652.0 354.4 567.7 357.3 604.1 360.2 600.0 361.9 558.4 363.6 600.0 365.2 531.3 366.9 589.6 368.5 523.0 370.2 558.4 371.4 485.6 372.7 527.2 373.9 456.5 375.8 453.4 377.2 506.4 378.5 456.5 379.7 548.0 381.0 523.0 382.2 600.0 383.9 531.3 384.7 643.7 388.2 643.7 391.7 606.2 395.1 575.0 399.6 566.7 402.1 568.8 403.8 610.4 406.9 639.5 409.6 631.2 412.0 586.5 414.1 586.5 415.2 652.0 415.8 693.6 416.6 768.5 418.3 768.5 419.5 735.2 420.3 693.6 448.3 693.6 452.9 693.6 453.3 404.5 453.9 404.5 454.5 716.5 456.0 716.5 456.8 652.0 458.0 404.5 459.7 404.5 460.7 492.9 465.5 492.9 466.3 664.5 467.2 693.6 469.7 768.5 472.1 768.5 474.6 693.6 475.9 586.5 478.8 586.5 479.6 693.6 480.4 753.9 482.5 693.6 484.6 586.5 487.7 586.5 488.7 758.1 490.4 758.1 491.2 597.9 492.4 627.0 495.3 627.0 495.8 766.4 497.0 766.4 497.4 693.6 545.1 693.6 557.5 693.6 558.8 405.5 559.6 405.5 560.4 581.3 562.7 585.4 563.3 645.7 561.7 693.6 560.6 757.0 561.2 757.0 565.8 652.0 569.9 602.1 574.1 610.4 576.2 714.4 575.7 763.3 576.6 763.3 577.2 610.4 577.4 495.0 578.2 495.0 578.6 691.5 579.3 693.6 632.1 693.6 635.8 647.8 636.7 767.4 638.7 767.4 639.4 631.2 640.4 575.0 641.2 575.0 642.1 652.0 646.6 624.9 649.7 627.0 650.3 693.6 648.7 767.4 649.9 767.4 651.2 693.6 665.3 693.6 669.0 585.4 670.4 693.6 671.9 768.5 673.1 768.5 674.0 672.8 675.2 585.4 677.7 583.3 680.8 568.8 682.9 548.0 685.0 579.2 687.0 545.9 689.1 579.2 691.2 544.9 693.2 577.1 694.7 542.8 697.4 545.9 698.4 589.6 699.5 652.0 700.9 762.2 702.6 762.2 703.6 693.6 709.8 693.6 710.9 631.2 711.7 495.0 712.9 495.0 713.3 631.2 714.0 746.6 715.4 746.6 717.1 652.0 720.2 631.2 723.3 627.0 725.4 548.0 727.4 423.2 731.2 380.6 734.7 423.2 735.7 548.0 736.8 618.7 738.8 693.6 739.9 738.3 740.9 738.3 741.9 693.6 755.4 693.6 758.5 768.5 762.7 768.5 764.3 693.6 765.8 631.2 768.5 527.2 769.9 506.4 771.4 506.4 773.0 579.2 775.1 618.7 779.2 624.9 780.3 693.6 778.8 768.5 780.3 768.5 781.3 693.6 794.2 693.6 794.2 693.6 795.8 589.6 797.3 585.4 798.3 766.4 800.0 766.4 800.8 652.0 802.0 585.4 803.5 647.8 806.6 647.8 808.7 568.8 811.8 516.8 814.9 503.3 818.0 506.4 820.1 548.0 823.2 556.3 825.2 631.2 826.9 693.6 828.3 766.4 831.5 767.4 833.5 693.6 834.6 610.4 836.6 489.8 838.1 489.8 838.7 610.4 839.3 766.4 841.4 766.4 842.2 652.0 843.9 586.5 846.0 585.4 847.6 647.8 850.1 649.9 852.2 566.7 855.3 566.7 856.3 647.8 860.5 647.8 862.5 568.8 864.6 535.5 867.7 536.5 869.2 579.2 871.9 587.5 876.0 587.5 877.0 647.8 873.9 693.6 872.9 766.4 875.4 767.4 877.0 735.2 879.1 693.6 885.3 693.6 888.4 693.6 889.5 766.4 892.0 767.4 892.8 693.6 891.6 627.0 894.7 620.8 896.7 564.6 899.8 564.6 900.9 641.6 906.1 647.8 910.2 610.4 913.3 568.8 914.8 491.8 916.8 491.8 918.1 579.2 919.5 647.8 916.4 693.6 916.0 747.7 920.6 753.9 923.7 693.6 922.6 585.4 926.8 647.8 928.8 589.6 931.3 585.4 933.0 643.7 937.1 645.7 939.2 568.8 941.3 545.9 943.8 545.9 945.0 589.6 947.5 647.8 946.5 714.4 951.6 768.5 954.8 768.5 955.8 652.0 954.8 589.6 955.8 529.3 959.9 527.2 962.4 489.8 964.5 489.8 965.3 652.0 965.7 756.0 967.8 758.1 969.3 714.4 970.3 647.8 972.4 647.8 973.6 756.0 975.5 756.0 976.1 693.6 1002.4 693.6 1003.9 404.5 1005.5 404.5 1005.9 760.1 1007.6 760.1 1008.6 652.0 1011.7 641.6 1014.8 589.6 1018.0 527.2 1022.1 506.4 1025.2 506.4 1028.3 516.8 1034.5 527.2 1036.6 485.6 1037.6 448.2 1039.7 444.0 1043.2 464.8 1046.0 456.5 1049.1 523.0 1051.2 520.9 1053.3 464.8 1056.4 460.6 1058.5 516.8 1061.6 527.2 1063.1 568.8 1064.7 610.4 1066.8 647.8 1069.9 647.8 1072.0 589.6 1073.5 585.4 1074.1 652.0 1073.0 693.6 1074.7 768.5 1075.5 768.5 1076.8 693.6 1143.3 693.6 1145.8 581.3 1149.6 566.7 1151.0 610.4 1149.0 693.6 1148.3 766.4 1150.0 766.4 1152.1 652.0 1156.2 647.8 1158.3 768.5 1160.4 768.5 1161.4 652.0 1162.1 402.4 1163.5 400.3 1164.6 489.8 1169.1 488.7 1170.4 589.6 1170.8 693.6 1170.4 756.0 1171.8 756.0 1173.3 647.8 1177.0 579.2 1179.1 647.8 1182.2 649.9 1184.3 548.0 1187.4 464.8 1189.1 462.7 1191.6 498.1 1194.7 500.1 1195.8 568.8 1198.9 639.5 1201.0 641.6 1202.0 548.0 1204.1 539.7 1206.1 548.0 1208.2 575.0 1211.3 577.1 1212.4 647.8 1211.3 693.6 1212.4 768.5 1214.5 768.5 1216.1 693.6 1222.8 693.6 1225.3 620.8 1226.9 735.2 1229.0 620.8 1232.1 585.4 1234.2 587.5 1233.2 693.6 1231.1 772.6 1233.2 772.6 1236.3 745.6 1238.4 652.0 1239.4 568.8 1240.5 444.0 1243.0 400.3 1248.4 165.1 1251.9 400.3 1252.9 589.6 1256.1 693.6 1258.1 756.0 1259.8 756.0 1261.3 683.2 1262.3 402.4 1264.4 400.3 1266.5 485.6 1268.5 589.6 1269.6 683.2 1270.6 693.6 1291.4 693.6 1292.5 489.8 1294.5 489.8 1295.0 489.8 1297.0 489.8 1297.7 772.6 1298.9 772.6 1299.7 652.0 1300.6 572.9 1302.2 647.8 1305.4 589.6 1307.4 543.8 1309.5 610.4 1311.6 620.8 1315.8 518.9 1318.9 516.8 1320.5 477.3 1322.0 477.3 1323.0 568.8 1324.7 647.8 1327.2 647.8 1328.2 589.6 1330.3 527.2 1331.8 473.1 1333.4 423.2 1335.5 421.1 1337.6 464.8 1339.7 512.6 1342.8 512.6 1344.3 433.6 1345.9 431.5 1347.6 485.6 1348.4 527.2 1349.7 610.4 1350.5 647.8 1354.2 652.0 1356.3 566.7 1358.4 564.6 1359.4 652.0 1358.4 693.6 1359.4 735.2 1361.5 737.3 1363.6 693.6 1367.8 693.6 1368.8 718.5 1369.8 652.0 1370.5 568.8 1373.0 516.8 1375.0 510.5 1376.7 548.0 1378.2 572.9 1380.2 575.0 1381.3 652.0 1380.2 693.6 1380.9 766.4 1382.5 766.4 1383.4 693.6 1415.6 693.6 1416.2 585.4 1418.7 585.4 1419.1 693.6 1418.3 753.9 1420.0 753.9 1421.2 672.8 1422.9 614.5 1426.0 616.6 1428.1 641.6 1430.2 568.8 1431.2 502.2 1433.7 500.1 1435.4 548.0 1437.4 631.2 1439.5 693.6 1440.6 731.0 1442.6 731.0 1444.1 652.0 1445.8 548.0 1448.9 485.6 1451.0 481.4 1453.0 527.2 1455.1 589.6 1457.2 568.8 1458.2 469.0 1460.7 469.0 1462.0 548.0 1463.4 610.4 1464.5 693.6 1465.5 766.4 1467.6 768.5 1469.7 652.0 1471.7 564.6 1473.8 564.6 1475.3 652.0 1476.5 766.4 1478.6 766.4 1479.4 652.0 1480.1 402.4 1482.1 396.2 1483.6 485.6 1484.2 610.4 1484.9 693.6 1496.7 693.6 1497.3 764.3 1498.8 764.3 1499.4 583.3 1501.9 583.3 1502.9 693.6 1504.0 764.3 1506.1 764.3 1508.1 714.4 1511.3 631.2 1513.3 618.7 1515.4 527.2 1517.5 446.1 1520.2 444.0 1521.7 485.6 1523.7 589.6 1524.8 693.6 1525.8 770.5 1527.9 770.5 1528.9 652.0 1531.0 498.1 1533.5 496.0 1535.2 589.6 1536.2 693.6 1537.3 764.3 1539.3 764.3 1541.4 652.0 1542.5 575.0 1546.0 579.2 1546.0 579.2 1547.7 589.6 1548.5 693.6 1549.1 764.3 1550.6 764.3 1551.2 693.6 1608.4 693.6 1607.4 585.4 1609.4 585.4 1610.5 693.6 1610.9 768.5 1612.1 768.5 1613.0 652.0 1616.7 639.5 1618.8 589.6 1620.5 583.3 1622.5 639.5 1626.1 641.6 1628.2 585.4 1629.2 485.6 1631.7 427.4 1634.4 425.3 1635.9 475.2 1637.5 527.2 1640.6 572.9 1643.3 575.0 1645.4 506.4 1647.9 444.0 1650.4 439.8 1652.5 485.6 1654.2 537.6 1657.3 539.7 1659.4 464.8 1662.5 444.0 1665.0 423.2 1666.2 377.4 1667.9 376.4 1669.1 423.2 1670.4 506.4 1671.2 589.6 1673.3 593.7 1675.0 527.2 1679.1 525.1 1682.2 516.8 1685.4 514.7 1687.4 548.0 1689.5 589.6 1691.6 502.2 1693.3 489.8 1694.9 489.8 1695.8 589.6 1694.7 693.6 1694.1 753.9 1695.8 753.9 1696.8 693.6 1714.5 693.6 1716.1 652.0 1717.6 568.8 1719.7 506.4 1721.7 485.6 1724.9 481.4 1726.9 464.8 1731.1 448.2 1737.3 437.8 1743.6 433.6 1747.7 431.5 1748.8 464.8 1749.8 527.2 1750.9 579.2 1752.9 589.6 1756.1 610.4 1758.1 631.2 1755.0 693.6 1756.1 764.3 1758.1 764.3 1760.2 735.2 1762.3 693.6 1764.4 652.0 1766.5 683.2 1768.5 756.0 1771.7 652.0 1773.1 489.8 1774.8 489.8 1775.8 610.4 1774.8 693.6 1773.7 764.3 1775.8 764.3 1777.9 652.0 1779.4 485.6 1781.0 477.3 1783.1 423.2 1784.8 389.9 1786.8 389.9 1788.3 485.6 1790.4 610.4 1792.5 652.0 1796.0 631.2 1796.0 402.4 1797.7 398.2 1798.5 506.4 1799.7 766.4 1801.8 766.4 1803.3 589.6 1806.4 523.0 1808.5 610.4 1810.1 489.8 1812.2 489.8 1813.1 652.0 1813.7 693.6 1816.8 704.0 1817.8 756.0 1819.9 764.3 1822.0 652.0 1824.1 568.8 1826.2 489.8 1828.2 487.7 1829.3 589.6 1830.3 693.6 1829.3 753.9 1831.4 753.9 1833.0 652.0 1835.5 641.6 1839.7 643.7 1842.8 595.8 1845.9 593.7 1849.0 631.2 1851.1 568.8 1853.2 527.2 1855.3 469.0 1857.4 466.9 1858.4 527.2 1860.5 568.8 1864.6 595.8 1867.8 597.9 1868.8 527.2 1870.5 493.9 1872.5 493.9 1874.0 548.0 1876.1 610.4 1877.5 647.8 1879.2 647.8 1880.2 579.2 1883.4 548.0 1886.5 572.9 1888.6 568.8 1890.6 506.4 1892.7 423.2 1894.8 412.8 1897.5 412.8 1898.3 464.8 1899.0 518.9 1902.1 520.9 1906.2 518.9 1909.4 506.4 1914.6 496.0 1920.8 485.6 1926.0 469.0 1929.1 462.7 1932.2 464.8 1934.3 496.0 1937.4 527.2 1939.5 568.8 1940.6 610.4 1941.6 641.6 1945.8 643.7 1949.9 614.5 1956.1 608.3 1960.3 606.2 1962.4 614.5 1964.5 641.6 1966.5 652.0 1968.2 693.6 1969.7 743.5 1971.7 743.5 1973.8 693.6 1976.9 689.4 1978.6 714.4 1979.4 764.3 1980.7 764.3 1981.5 652.0 1982.8 568.8 1984.2 485.6 1986.3 437.8 1988.4 433.6 1990.5 464.8 1992.5 475.2 1996.7 460.6 2000.9 450.2 2002.9 464.8 2004.4 527.2 2006.1 589.6 2008.1 631.2 2012.3 643.7 2016.5 641.6 2020.6 631.2 2024.8 616.6 2031.0 608.3 2035.2 616.6 2037.3 639.5 2041.4 643.7 2046.0 635.3 2046.0 631.2 2048.1 610.4 2050.2 597.9 2052.2 610.4 2054.3 635.3 2057.4 627.0 2059.5 610.4 2062.6 620.8 2065.8 616.6 2068.9 631.2 2073.0 627.0 2077.2 620.8 2080.3 616.6 2083.4 627.0 2087.6 631.2 2091.8 633.3 2097.0 627.0 2099.0 606.2 2100.5 602.1 2102.2 614.5 2105.3 631.2 2110.5 637.4 2115.7 635.3 2119.8 620.8 2124.0 631.2 2127.5 620.8 2129.2 597.9 2131.3 595.8 2133.4 616.6 2137.5 624.9 2140.6 610.4 2143.8 593.7 2147.9 589.6 2152.1 587.5 2154.6 583.3 2156.2 589.6 2158.3 610.4 2162.5 624.9 2166.6 635.3 2170.8 639.5 2177.0 635.3 2181.2 616.6 2184.3 631.2 2187.4 622.9 2191.6 635.3 2195.8 639.5 2202.0 635.3 2208.2 637.4 2213.4 633.3 2216.5 610.4 2219.7 600.0 2223.8 597.9 2226.9 602.1 2229.0 631.2 2231.1 652.0 2232.1 693.6 2232.8 756.0 2234.2 758.1 2236.3 735.2 2238.4 704.0 2240.5 693.6 2243.6 693.6 2296.0 693.6" stroke="#00ff00" stroke-width="4.4" stroke-dasharray="12 7.5 1 7.5" transform="translate(-0.5 -4)"/>
</g>
<g shape-rendering="crispEdges" stroke="#000" stroke-width="10" fill="none">
<rect x="296" y="90" width="2001" height="753"/>
<path d="M462.8 843 v-15 M629.5 843 v-30 M796.2 843 v-15 M963.0 843 v-30 M1129.8 843 v-15 M1296.5 843 v-30 M1463.2 843 v-15 M1630.0 843 v-30 M1796.7 843 v-15 M1963.5 843 v-30 M2130.2 843 v-15 M296 541.8 h29 M296 240.6 h29 M296 692.4 h15 M296 391.2 h15"/>
</g>
<g font-size="94">
<text x="296.0" y="944" text-anchor="middle">0</text>
<text x="629.5" y="944" text-anchor="middle">300</text>
<text x="963.0" y="944" text-anchor="middle">600</text>
<text x="1296.5" y="944" text-anchor="middle">900</text>
<text x="1630.0" y="944" text-anchor="middle">1200</text>
<text x="1963.5" y="944" text-anchor="middle">1500</text>
<text x="2297.0" y="944" text-anchor="middle">1800</text>
<text x="262" y="869.5" text-anchor="end">2.3</text>
<text x="262" y="568.3" text-anchor="end">2.4</text>
<text x="262" y="267.1" text-anchor="end">2.5</text>
<text x="1296.5" y="1032.5" text-anchor="middle">Time (s)</text>
<text transform="translate(113 493) rotate(-90)" text-anchor="middle">Pressure (bar)</text>
<text x="27" y="90.5">(a)</text>
</g>
<g fill="none" stroke-linecap="round">
<path d="M1757.5 133 h170" stroke="#0000ff" stroke-width="16"/>
<path d="M1754 225 h164" stroke="#f04040" stroke-width="7.4" stroke-dasharray="29 20.4 7.6 20.4 7.6 20.4"/>
<path d="M1752.5 317.5 h170" stroke="#00ff00" stroke-width="5" stroke-dasharray="17 9 2.5 10.5"/>
</g>
<g font-size="74">
<text x="1945.5" y="157.5">Demand</text>
<text x="1945.5" y="250.5">Distributed</text>
<text x="1945.5" y="343.5">Integrated</text>
</g>
</g>
<g id="chart-b">
<clipPath id="clip-b"><rect x="296" y="1141" width="2001" height="742"/></clipPath>
<g clip-path="url(#clip-b)" fill="none" stroke-linejoin="round" stroke-linecap="round" shape-rendering="crispEdges">
<path d="M301.7 1757.0 302.5 1678.9 304.3 1642.0 306.5 1644.2 308.0 1678.9 309.5 1687.6 311.2 1635.5 313.0 1592.1 314.5 1557.4 316.0 1592.1 317.8 1600.8 321.7 1600.8 323.2 1635.5 324.3 1700.6 325.0 1757.0 330.9 1757.0 333.0 1744.0 334.8 1715.8 336.9 1713.6 339.1 1722.3 340.7 1757.0 349.4 1757.0 350.9 1657.2 352.2 1592.1 353.1 1535.7 354.8 1533.5 355.9 1570.4 359.2 1576.9 361.3 1553.1 364.6 1550.9 366.8 1505.3 370.1 1503.1 372.2 1448.9 374.8 1442.4 377.0 1444.5 378.8 1474.9 379.9 1505.3 382.0 1527.0 383.1 1559.6 385.3 1603.0 388.6 1607.3 391.8 1592.1 395.1 1548.7 398.4 1531.4 401.0 1530.3 402.7 1548.7 404.9 1603.0 408.2 1605.1 410.4 1570.4 412.5 1549.8 414.7 1550.9 415.4 1592.1 416.2 1635.5 417.5 1678.9 419.1 1722.3 420.2 1752.7 422.3 1757.0 468.1 1757.0 469.2 1757.0 471.3 1700.6 473.5 1670.2 475.7 1668.1 477.9 1689.8 480.1 1752.7 482.2 1757.0 485.5 1757.0 487.2 1657.2 488.8 1592.1 489.9 1557.4 491.4 1557.4 492.5 1600.8 494.2 1581.3 496.0 1576.9 497.5 1613.8 498.1 1678.9 498.6 1757.0 559.6 1757.0 560.6 1657.2 562.2 1592.1 563.5 1548.7 565.2 1548.7 566.5 1592.1 569.4 1581.3 572.6 1579.1 574.8 1592.1 576.5 1635.5 577.4 1700.6 578.1 1757.0 597.0 1757.0 638.9 1757.0 639.8 1657.2 640.7 1592.1 641.5 1542.2 642.9 1540.0 643.7 1592.1 646.8 1596.5 648.5 1574.8 649.8 1576.9 650.7 1635.5 651.1 1700.6 651.6 1757.0 672.3 1757.0 673.3 1678.9 674.4 1613.8 676.0 1548.7 677.7 1546.5 679.9 1592.1 683.1 1570.4 685.3 1540.0 688.6 1527.0 691.9 1527.0 694.0 1548.7 696.9 1527.0 698.4 1524.8 699.5 1570.4 701.2 1603.0 702.8 1657.2 703.8 1722.3 704.9 1757.0 714.3 1757.0 715.2 1657.2 716.5 1581.3 718.0 1572.6 720.2 1592.1 723.4 1589.9 726.1 1570.4 727.4 1505.3 728.9 1440.2 730.4 1386.0 732.6 1355.6 734.8 1353.4 736.5 1396.8 737.6 1461.9 738.3 1527.0 739.1 1592.1 740.9 1635.5 743.0 1665.9 742.6 1700.6 744.1 1757.0 760.0 1757.0 760.9 1700.6 762.7 1657.2 765.9 1652.9 768.1 1613.8 769.2 1548.7 770.9 1494.5 773.1 1490.1 774.6 1527.0 775.7 1559.6 777.5 1592.1 779.6 1613.8 780.5 1678.9 781.4 1744.0 782.3 1757.0 800.1 1757.0 801.0 1678.9 802.3 1613.8 804.0 1548.7 805.8 1542.2 807.3 1603.0 810.6 1605.1 812.7 1548.7 814.9 1505.3 817.1 1488.0 819.3 1486.9 821.5 1505.3 823.6 1537.9 825.8 1548.7 828.0 1581.3 829.7 1613.8 831.3 1657.2 832.8 1700.6 834.1 1757.0 841.5 1757.0 842.4 1678.9 843.7 1613.8 845.4 1603.0 847.6 1548.7 849.3 1544.4 850.9 1592.1 854.1 1598.6 855.9 1548.7 857.4 1531.4 859.6 1533.5 861.1 1592.1 863.9 1603.0 867.2 1570.4 868.9 1520.5 871.1 1518.3 872.6 1548.7 874.2 1592.1 875.9 1600.8 877.0 1678.9 878.1 1757.0 891.6 1757.0 892.9 1678.9 894.4 1613.8 896.6 1598.6 898.1 1563.9 899.3 1570.4 900.8 1529.2 902.6 1527.0 903.7 1592.1 906.9 1600.8 911.3 1598.6 914.6 1581.3 915.6 1531.4 917.4 1529.2 918.3 1613.8 917.8 1678.9 918.9 1744.0 921.1 1757.0 923.3 1757.0 924.4 1678.9 925.4 1613.8 926.5 1550.9 928.7 1548.7 930.9 1592.1 934.2 1548.7 936.3 1546.5 938.5 1592.1 940.7 1600.8 942.9 1548.7 944.4 1529.2 946.6 1528.1 948.3 1592.1 949.4 1678.9 950.5 1744.0 952.7 1757.0 954.4 1757.0 955.3 1678.9 956.6 1603.0 958.1 1548.7 960.3 1516.2 962.5 1515.1 964.7 1548.7 966.2 1592.1 967.1 1752.7 968.4 1752.7 969.2 1600.8 973.4 1603.0 974.9 1678.9 976.2 1757.0 1007.1 1757.0 1008.2 1657.2 1009.3 1592.1 1010.4 1540.0 1011.9 1537.9 1013.7 1570.4 1016.9 1581.3 1020.2 1548.7 1022.4 1516.2 1024.6 1496.6 1027.8 1490.1 1031.1 1494.5 1034.4 1505.3 1037.6 1501.0 1039.8 1472.8 1042.0 1440.2 1044.2 1435.9 1046.3 1444.5 1048.5 1461.9 1050.7 1494.5 1053.3 1505.3 1056.1 1466.2 1059.0 1457.6 1061.6 1461.9 1063.8 1483.6 1064.8 1527.0 1065.9 1559.6 1068.1 1570.4 1071.4 1581.3 1073.6 1559.6 1075.7 1550.9 1077.3 1592.1 1076.8 1657.2 1077.3 1722.3 1078.6 1757.0 1148.7 1757.0 1149.8 1657.2 1150.9 1592.1 1152.2 1529.2 1153.9 1527.0 1155.2 1548.7 1157.4 1570.4 1159.6 1603.0 1161.8 1657.2 1164.0 1722.3 1165.7 1757.0 1171.6 1757.0 1173.1 1678.9 1174.4 1613.8 1175.9 1592.1 1179.2 1570.4 1181.4 1559.6 1183.6 1570.4 1185.7 1600.8 1187.9 1570.4 1189.0 1505.3 1190.5 1457.6 1192.7 1453.2 1194.9 1483.6 1197.7 1505.3 1199.2 1494.5 1199.3 1483.6 1201.5 1488.0 1202.6 1527.0 1204.8 1524.8 1208.0 1527.0 1211.3 1537.9 1213.5 1600.8 1215.7 1635.5 1216.8 1700.6 1217.8 1752.7 1220.0 1757.0 1226.6 1757.0 1227.6 1678.9 1228.7 1603.0 1230.9 1598.6 1234.2 1594.3 1236.4 1592.1 1237.4 1678.9 1238.5 1752.7 1240.7 1752.7 1241.8 1635.5 1242.9 1592.1 1244.0 1548.7 1245.1 1461.9 1246.4 1375.1 1247.9 1339.9 1251.8 1163.9 1254.2 1339.9 1255.5 1418.5 1256.4 1483.6 1257.1 1527.0 1258.1 1592.1 1259.9 1635.5 1261.4 1700.6 1262.5 1757.0 1298.4 1757.0 1299.5 1678.9 1301.3 1613.8 1302.8 1592.1 1303.9 1531.4 1306.1 1529.2 1308.2 1548.7 1311.5 1529.2 1313.7 1537.9 1315.9 1592.1 1318.7 1548.7 1321.3 1505.3 1323.5 1461.9 1325.2 1459.7 1326.8 1505.3 1328.3 1570.4 1329.6 1600.8 1332.2 1603.0 1333.9 1548.7 1335.5 1483.6 1337.0 1418.5 1338.7 1409.8 1340.9 1414.2 1343.1 1461.9 1345.7 1494.5 1347.9 1440.2 1349.6 1422.8 1351.8 1440.2 1352.9 1505.3 1354.0 1559.6 1356.2 1600.8 1359.4 1570.4 1361.0 1531.4 1363.1 1529.2 1364.4 1592.1 1362.7 1635.5 1363.8 1700.6 1365.3 1752.7 1367.5 1757.0 1371.4 1757.0 1372.5 1678.9 1373.1 1603.0 1374.7 1548.7 1376.9 1505.3 1379.0 1496.6 1381.2 1516.2 1383.4 1548.7 1384.5 1613.8 1384.9 1700.6 1386.2 1757.0 1421.9 1757.0 1422.6 1678.9 1423.7 1613.8 1424.8 1594.3 1428.0 1592.1 1432.4 1589.9 1434.1 1548.7 1435.7 1494.5 1437.8 1483.6 1440.0 1505.3 1442.2 1570.4 1444.4 1613.8 1446.6 1631.2 1448.7 1570.4 1450.9 1505.3 1453.1 1470.6 1455.3 1466.2 1457.4 1505.3 1459.6 1527.0 1461.8 1483.6 1464.0 1461.9 1465.5 1459.7 1467.2 1505.3 1468.3 1570.4 1469.4 1581.3 1470.5 1754.9 1472.7 1754.9 1474.2 1635.5 1475.5 1531.4 1477.7 1529.2 1480.3 1603.0 1482.5 1618.2 1483.6 1754.9 1485.8 1757.0 1500.4 1757.0 1500.4 1757.0 1501.5 1678.9 1502.6 1592.1 1503.7 1548.7 1505.2 1550.9 1506.5 1600.8 1508.1 1678.9 1509.2 1752.7 1511.3 1757.0 1513.5 1752.7 1515.3 1678.9 1516.8 1603.0 1519.0 1581.3 1520.5 1527.0 1521.8 1483.6 1523.3 1444.5 1525.5 1442.4 1526.6 1483.6 1527.7 1527.0 1528.8 1613.8 1529.8 1700.6 1530.9 1752.7 1532.7 1752.7 1533.5 1635.5 1534.9 1527.0 1536.4 1485.8 1538.6 1483.6 1539.6 1527.0 1540.7 1592.1 1541.8 1668.1 1544.0 1670.2 1545.1 1592.1 1546.2 1540.0 1548.4 1537.9 1550.1 1559.6 1551.6 1603.0 1552.7 1657.2 1553.8 1722.3 1554.9 1757.0 1614.8 1757.0 1615.4 1678.9 1616.3 1613.8 1617.6 1574.8 1620.2 1570.4 1622.4 1559.6 1624.6 1555.2 1626.8 1570.4 1629.0 1598.6 1631.1 1600.8 1632.9 1548.7 1634.4 1483.6 1635.9 1431.5 1638.1 1422.8 1639.8 1461.9 1641.6 1505.3 1643.1 1548.7 1645.3 1553.1 1648.1 1505.3 1650.3 1472.8 1652.5 1440.2 1655.1 1433.7 1657.3 1461.9 1659.4 1505.3 1661.2 1527.0 1663.8 1483.6 1666.0 1444.5 1668.2 1435.9 1669.9 1396.8 1671.2 1353.4 1673.0 1351.2 1674.3 1396.8 1675.1 1461.9 1676.0 1505.3 1676.9 1570.4 1679.5 1572.6 1681.7 1527.0 1684.5 1516.2 1687.8 1505.3 1689.9 1503.1 1692.1 1527.0 1694.3 1548.7 1696.5 1559.6 1697.6 1613.8 1698.2 1678.9 1699.1 1744.0 1700.4 1757.0 1720.9 1757.0 1721.5 1678.9 1722.6 1592.1 1724.4 1527.0 1725.9 1483.6 1728.1 1472.8 1731.3 1461.9 1734.6 1451.1 1738.9 1440.2 1743.3 1435.9 1748.8 1433.7 1752.0 1431.5 1753.5 1440.2 1754.9 1483.6 1755.7 1527.0 1757.5 1570.4 1759.2 1603.0 1760.7 1635.5 1761.8 1700.6 1762.9 1752.7 1765.1 1757.0 1766.6 1700.6 1767.9 1635.5 1767.3 1598.6 1770.1 1596.5 1771.6 1635.5 1772.7 1744.0 1774.5 1757.0 1778.2 1757.0 1779.2 1678.9 1780.3 1592.1 1781.4 1527.0 1783.6 1505.3 1785.8 1461.9 1787.5 1418.5 1789.0 1375.1 1790.6 1364.3 1792.3 1366.4 1794.1 1418.5 1795.6 1483.6 1797.1 1548.7 1798.8 1598.6 1801.5 1603.0 1801.5 1603.0 1802.6 1752.7 1805.5 1757.0 1807.6 1678.9 1809.2 1592.1 1811.4 1514.0 1813.5 1511.8 1815.1 1570.4 1815.7 1657.2 1816.4 1752.7 1818.5 1757.0 1820.7 1752.7 1822.2 1657.2 1824.4 1550.9 1827.3 1548.7 1828.8 1613.8 1829.9 1700.6 1831.0 1752.7 1833.1 1754.9 1834.7 1678.9 1836.0 1592.1 1837.5 1533.5 1839.7 1531.4 1840.8 1598.6 1844.0 1600.8 1848.4 1598.6 1850.6 1559.6 1852.7 1557.4 1854.9 1581.3 1857.1 1548.7 1858.6 1505.3 1860.4 1461.9 1862.5 1459.7 1864.7 1505.3 1866.9 1548.7 1869.1 1579.1 1872.3 1581.3 1874.5 1527.0 1876.0 1483.6 1878.2 1481.4 1880.0 1527.0 1881.7 1592.1 1884.3 1603.0 1887.6 1548.7 1890.9 1531.4 1894.1 1527.0 1896.3 1483.6 1898.5 1396.8 1900.7 1394.6 1902.8 1440.2 1903.9 1483.6 1906.1 1496.6 1910.5 1494.5 1914.8 1488.0 1920.3 1481.4 1925.7 1474.9 1931.2 1466.2 1935.5 1455.4 1937.7 1453.2 1939.9 1474.9 1942.0 1505.3 1944.2 1548.7 1945.3 1581.3 1947.5 1598.6 1951.8 1600.8 1956.2 1592.1 1960.6 1585.6 1963.8 1581.3 1967.1 1581.3 1970.4 1592.1 1973.6 1603.0 1975.4 1635.5 1976.2 1700.6 1977.1 1752.7 1979.1 1757.0 1984.5 1757.0 1985.6 1700.6 1986.7 1635.5 1988.0 1592.1 1988.9 1527.0 1990.0 1461.9 1992.1 1431.5 1994.3 1427.2 1996.5 1448.9 1999.8 1453.2 2003.0 1448.9 2006.3 1444.5 2008.5 1461.9 2010.2 1505.3 2011.7 1548.7 2013.3 1581.3 2015.0 1598.6 2019.4 1603.0 2023.7 1600.8 2028.1 1592.1 2032.4 1587.8 2036.8 1585.6 2041.1 1594.3 2047.7 1600.8 2053.1 1598.6 2055.3 1579.1 2057.5 1574.8 2060.8 1583.4 2065.1 1592.1 2071.6 1596.5 2078.2 1598.6 2084.7 1596.5 2093.4 1594.3 2102.6 1592.1 2102.6 1598.6 2105.8 1576.9 2108.0 1574.8 2110.2 1592.1 2114.6 1600.8 2120.0 1603.0 2126.5 1600.8 2130.9 1592.1 2135.2 1587.8 2137.4 1572.6 2139.6 1570.4 2141.8 1587.8 2146.1 1592.1 2150.5 1581.3 2152.7 1568.2 2157.0 1566.1 2161.4 1563.9 2163.6 1566.1 2165.7 1583.4 2170.1 1596.5 2174.5 1603.0 2181.0 1600.8 2187.5 1594.3 2194.1 1598.6 2200.6 1603.0 2209.3 1600.8 2218.0 1600.8 2222.4 1592.1 2225.6 1576.9 2228.9 1572.6 2233.3 1574.8 2236.5 1572.6 2238.7 1581.3 2239.4 1635.5 2240.2 1700.6 2241.5 1752.7 2243.1 1757.0 2300.8 1757.0" stroke="#0000ff" stroke-width="10"/>
<path d="M301.6 1757.0 302.5 1678.9 303.7 1631.8 305.9 1637.1 307.9 1678.9 309.5 1687.6 311.2 1635.5 312.9 1592.1 313.9 1547.7 316.0 1592.1 317.7 1600.8 319.7 1600.6 321.6 1600.8 323.1 1635.5 324.2 1700.6 324.9 1757.0 326.3 1757.4 327.8 1758.6 329.3 1758.7 330.7 1757.0 332.9 1744.0 334.1 1705.1 336.3 1706.8 339.0 1722.3 340.5 1757.0 M340.5 1757.0 341.9 1758.9 343.4 1756.8 344.8 1758.4 346.3 1758.1 347.7 1757.5 349.2 1757.0 M349.2 1757.0 350.7 1657.2 352.0 1592.1 352.4 1526.1 354.1 1526.5 355.7 1570.4 358.9 1576.9 361.1 1553.1 362.7 1553.9 364.4 1550.9 366.5 1505.3 368.2 1505.5 369.8 1503.1 372.0 1448.9 374.1 1436.4 376.2 1437.5 378.5 1474.9 379.6 1505.3 381.7 1527.0 382.8 1559.6 385.0 1603.0 388.2 1607.3 391.5 1592.1 394.7 1548.7 397.5 1521.8 398.8 1523.5 400.1 1524.4 402.3 1548.7 404.5 1603.0 406.1 1605.7 407.8 1605.1 409.9 1570.4 411.6 1540.8 413.8 1543.8 414.9 1592.1 415.8 1635.5 417.1 1678.9 418.6 1722.3 419.7 1752.7 421.9 1757.0 M421.9 1757.0 423.3 1757.8 424.7 1757.8 426.1 1757.9 427.6 1757.9 429.0 1756.8 430.4 1758.7 431.8 1757.4 433.3 1757.8 434.7 1757.1 436.1 1758.1 437.5 1756.9 439.0 1756.8 440.4 1757.2 441.8 1758.9 443.2 1758.4 444.7 1758.5 446.1 1756.9 447.5 1757.8 448.9 1758.5 450.4 1758.5 451.8 1757.8 453.2 1756.9 454.6 1757.6 456.0 1759.0 457.5 1758.9 458.9 1758.2 460.3 1757.6 461.7 1758.2 463.2 1758.1 464.6 1757.8 466.0 1758.8 467.4 1757.0 M467.4 1757.0 468.5 1757.0 470.7 1700.6 472.4 1664.2 474.5 1660.5 477.2 1689.8 479.4 1752.7 481.5 1757.0 483.2 1758.1 484.8 1757.0 486.5 1657.2 488.1 1592.1 488.6 1550.1 490.2 1549.6 491.7 1600.8 493.5 1581.3 494.7 1566.6 496.7 1613.8 497.4 1678.9 497.8 1757.0 M497.8 1757.0 499.2 1756.9 500.6 1758.5 502.1 1758.4 503.5 1756.9 504.9 1758.0 506.3 1759.1 507.7 1758.3 509.1 1758.3 510.5 1757.9 512.0 1757.7 513.4 1759.1 514.8 1757.4 516.2 1757.8 517.6 1756.9 519.0 1758.0 520.4 1758.3 521.8 1758.4 523.3 1759.1 524.7 1757.3 526.1 1757.2 527.5 1757.6 528.9 1757.5 530.3 1758.9 531.7 1757.2 533.2 1757.8 534.6 1759.1 536.0 1757.7 537.4 1757.8 538.8 1757.7 540.2 1757.5 541.6 1757.5 543.0 1758.7 544.5 1756.7 545.9 1756.9 547.3 1758.7 548.7 1758.5 550.1 1757.7 551.5 1757.9 552.9 1757.9 554.3 1757.3 555.8 1757.8 557.2 1757.6 558.6 1757.0 M558.6 1757.0 559.7 1657.2 561.2 1592.1 562.0 1538.2 563.7 1542.4 565.5 1592.1 568.4 1581.3 571.1 1568.2 573.8 1592.1 575.5 1635.5 576.4 1700.6 577.0 1757.0 M577.0 1757.0 578.5 1758.1 579.9 1757.5 581.4 1758.1 582.8 1756.8 584.3 1759.1 585.7 1756.7 587.2 1757.8 588.7 1757.6 590.1 1757.0 591.6 1759.1 593.0 1757.8 594.5 1757.1 595.9 1757.0 M595.9 1757.0 597.4 1757.5 598.8 1757.2 600.2 1758.0 601.7 1759.1 603.1 1759.1 604.6 1757.3 606.0 1758.4 607.4 1758.1 608.9 1758.6 610.3 1757.1 611.8 1756.8 613.2 1757.0 614.6 1758.9 616.1 1756.8 617.5 1756.8 618.9 1757.8 620.4 1756.8 621.8 1757.1 623.3 1759.0 624.7 1757.1 626.1 1758.6 627.6 1758.8 629.0 1757.8 630.5 1757.8 631.9 1757.2 633.3 1757.5 634.8 1758.0 636.2 1758.1 637.7 1757.0 M637.7 1757.0 638.5 1657.2 639.4 1592.1 639.8 1533.5 641.1 1529.3 642.4 1592.1 645.5 1596.5 646.7 1564.9 648.0 1568.8 649.4 1635.5 649.8 1700.6 650.3 1757.0 M650.3 1757.0 651.7 1758.0 653.2 1757.6 654.7 1758.9 656.1 1757.8 657.6 1757.6 659.1 1757.9 660.6 1758.8 662.0 1758.2 663.5 1758.5 665.0 1758.7 666.5 1757.6 667.9 1758.5 669.4 1756.9 670.9 1757.0 M670.9 1757.0 672.0 1678.9 673.0 1613.8 674.1 1542.2 675.8 1536.0 678.5 1592.1 681.7 1570.4 683.9 1540.0 686.6 1516.0 690.4 1527.0 692.6 1548.7 694.9 1518.3 696.4 1519.1 698.0 1570.4 699.7 1603.0 701.3 1657.2 702.3 1722.3 703.4 1757.0 M703.4 1757.0 705.0 1757.9 706.5 1757.8 708.1 1757.6 709.6 1757.1 711.2 1758.7 712.8 1757.0 M712.8 1757.0 713.6 1657.2 714.9 1581.3 715.9 1562.6 718.6 1592.1 720.2 1591.5 721.9 1589.9 724.5 1570.4 725.8 1505.3 727.3 1440.2 728.8 1386.0 730.5 1346.0 732.7 1343.1 734.9 1396.8 736.0 1461.9 736.6 1527.0 737.5 1592.1 739.2 1635.5 741.4 1665.9 741.0 1700.6 742.5 1757.0 M742.5 1757.0 743.9 1757.7 745.4 1757.0 746.8 1758.8 748.2 1758.8 749.7 1757.1 751.1 1757.6 752.6 1757.4 754.0 1757.2 755.4 1758.7 756.9 1758.2 758.3 1757.0 M758.3 1757.0 759.2 1700.6 760.9 1657.2 764.2 1652.9 766.4 1613.8 767.4 1548.7 769.2 1494.5 770.8 1479.3 772.9 1527.0 774.0 1559.6 775.7 1592.1 777.9 1613.8 778.7 1678.9 779.6 1744.0 780.5 1757.0 M780.5 1757.0 781.9 1758.9 783.4 1758.4 784.9 1757.5 786.4 1758.6 787.9 1757.0 789.4 1758.1 790.8 1758.0 792.3 1756.9 793.8 1757.4 795.3 1758.0 796.8 1757.0 798.3 1757.0 M798.3 1757.0 799.1 1678.9 800.4 1613.8 802.2 1548.7 803.4 1531.4 805.4 1603.0 807.0 1603.9 808.7 1605.1 810.8 1548.7 813.0 1505.3 814.7 1478.5 816.9 1479.5 819.5 1505.3 821.7 1537.9 823.9 1548.7 826.0 1581.3 827.8 1613.8 829.3 1657.2 830.8 1700.6 832.1 1757.0 M832.1 1757.0 833.6 1758.2 835.1 1759.1 836.5 1758.1 838.0 1759.1 839.5 1757.0 M839.5 1757.0 840.4 1678.9 841.7 1613.8 843.4 1603.0 845.6 1548.7 846.8 1536.2 848.8 1592.1 852.1 1598.6 853.8 1548.7 854.8 1523.3 857.0 1524.0 859.0 1592.1 861.8 1603.0 865.1 1570.4 866.3 1511.7 868.5 1508.4 870.5 1548.7 872.0 1592.1 873.8 1600.8 874.9 1678.9 875.9 1757.0 M875.9 1757.0 877.4 1757.9 878.9 1756.9 880.4 1757.1 881.9 1757.8 883.4 1758.8 884.9 1758.7 886.4 1759.1 887.9 1758.1 889.4 1757.0 M889.4 1757.0 890.7 1678.9 892.2 1613.8 894.4 1598.6 895.9 1563.9 897.1 1570.4 898.1 1521.1 899.8 1518.5 901.4 1592.1 904.7 1600.8 906.1 1601.6 907.6 1600.3 909.0 1598.6 912.3 1581.3 912.9 1520.6 914.6 1519.4 916.0 1613.8 915.5 1678.9 916.6 1744.0 918.8 1757.0 921.0 1757.0 922.0 1678.9 923.1 1613.8 923.7 1540.3 925.9 1539.5 928.6 1592.1 931.3 1543.0 933.5 1539.0 936.1 1592.1 938.3 1600.8 940.5 1548.7 941.5 1522.4 943.7 1521.5 945.9 1592.1 947.0 1678.9 948.1 1744.0 950.3 1757.0 952.0 1757.0 952.9 1678.9 954.2 1603.0 955.7 1548.7 957.3 1510.4 959.5 1509.4 962.2 1548.7 963.7 1592.1 964.6 1752.7 965.9 1752.7 966.2 1592.9 968.3 1593.1 970.4 1593.3 972.4 1678.9 973.7 1757.0 M973.7 1757.0 975.1 1758.0 976.5 1757.4 977.9 1758.7 979.3 1758.7 980.7 1757.2 982.1 1757.0 983.5 1757.4 984.9 1756.7 986.3 1757.2 987.7 1759.0 989.1 1759.0 990.5 1757.8 991.9 1758.9 993.3 1757.2 994.7 1759.1 996.1 1758.1 997.5 1758.2 998.9 1757.4 1000.3 1756.7 1001.7 1758.0 1003.1 1758.2 1004.5 1757.0 M1004.5 1757.0 1005.6 1657.2 1006.7 1592.1 1007.3 1529.8 1008.8 1527.1 1011.0 1570.4 1014.3 1581.3 1017.5 1548.7 1019.7 1516.2 1021.9 1496.6 1025.1 1490.1 1028.4 1494.5 1031.6 1505.3 1034.9 1501.0 1037.1 1472.8 1039.2 1440.2 1041.4 1435.9 1043.6 1444.5 1045.7 1461.9 1047.9 1494.5 1050.5 1505.3 1053.3 1466.2 1055.7 1449.1 1058.8 1461.9 1060.9 1483.6 1062.0 1527.0 1063.1 1559.6 1065.3 1570.4 1068.5 1581.3 1070.7 1559.6 1072.4 1545.8 1074.4 1592.1 1074.0 1657.2 1074.4 1722.3 1075.7 1757.0 M1075.7 1757.0 1077.1 1758.4 1078.5 1758.6 1080.0 1759.0 1081.4 1756.8 1082.8 1758.4 1084.2 1756.9 1085.7 1758.8 1087.1 1758.0 1088.5 1756.7 1089.9 1757.7 1091.4 1758.8 1092.8 1758.9 1094.2 1759.0 1095.7 1758.0 1097.1 1758.4 1098.5 1758.4 1099.9 1757.9 1101.4 1758.6 1102.8 1757.1 1104.2 1757.3 1105.6 1758.2 1107.1 1758.5 1108.5 1759.1 1109.9 1756.9 1111.3 1759.1 1112.8 1757.4 1114.2 1757.6 1115.6 1758.4 1117.0 1759.1 1118.5 1757.2 1119.9 1757.7 1121.3 1758.9 1122.7 1758.8 1124.2 1757.7 1125.6 1757.3 1127.0 1758.7 1128.5 1757.2 1129.9 1757.6 1131.3 1756.7 1132.7 1757.2 1134.2 1757.8 1135.6 1757.9 1137.0 1758.6 1138.4 1758.2 1139.9 1757.3 1141.3 1757.7 1142.7 1757.3 1144.1 1757.0 1145.6 1757.0 M1145.6 1757.0 1146.7 1657.2 1147.7 1592.1 1148.5 1523.0 1150.3 1521.7 1152.1 1548.7 1154.2 1570.4 1156.4 1603.0 1158.6 1657.2 1160.8 1722.3 1162.5 1757.0 1164.0 1757.1 1165.4 1759.0 1166.9 1758.7 1168.4 1757.0 1169.9 1678.9 1171.2 1613.8 1172.7 1592.1 1175.9 1570.4 1177.6 1549.4 1180.3 1570.4 1182.5 1600.8 1184.6 1570.4 1185.7 1505.3 1187.2 1457.6 1188.9 1446.3 1191.6 1483.6 1194.4 1505.3 1195.9 1494.5 1195.5 1474.3 1198.2 1488.0 1199.3 1527.0 1200.3 1527.7 1201.4 1524.8 1204.2 1519.3 1207.9 1537.9 1210.1 1600.8 1212.3 1635.5 1213.4 1700.6 1214.4 1752.7 1216.6 1757.0 1218.2 1758.5 1219.9 1757.3 1221.5 1758.5 1223.1 1757.0 1224.2 1678.9 1225.3 1603.0 1227.5 1598.6 1230.2 1585.8 1232.4 1582.0 1234.0 1678.9 1235.1 1752.7 1237.2 1752.7 1238.3 1635.5 1239.4 1592.1 1240.5 1548.7 1241.6 1461.9 1242.9 1375.1 1244.4 1339.9 1247.8 1155.0 1250.7 1339.9 1252.0 1418.5 1252.9 1483.6 1253.5 1527.0 1254.6 1592.1 1256.3 1635.5 1257.8 1700.6 1258.9 1757.0 M1258.9 1757.0 1260.4 1758.0 1261.8 1758.6 1263.2 1758.1 1264.7 1758.3 1266.1 1757.0 1267.5 1758.8 1269.0 1758.4 1270.4 1758.1 1271.8 1757.3 1273.3 1758.3 1274.7 1757.7 1276.1 1757.2 1277.6 1758.6 1279.0 1758.4 1280.4 1758.7 1281.9 1759.1 1283.3 1757.7 1284.7 1758.2 1286.1 1756.9 1287.6 1758.3 1289.0 1758.7 1290.4 1757.7 1291.9 1756.7 1293.3 1758.4 1294.7 1757.0 M1294.7 1757.0 1295.8 1678.9 1297.6 1613.8 1299.1 1592.1 1299.7 1525.9 1301.8 1520.4 1304.5 1548.7 1307.3 1522.1 1309.9 1537.9 1312.1 1592.1 1314.9 1548.7 1317.5 1505.3 1319.2 1451.1 1320.9 1453.1 1323.0 1505.3 1324.5 1570.4 1325.8 1600.8 1327.1 1602.5 1328.4 1603.0 1330.1 1548.7 1331.6 1483.6 1333.2 1418.5 1334.4 1403.4 1337.1 1414.2 1339.2 1461.9 1341.8 1494.5 1344.0 1440.2 1345.2 1412.3 1347.9 1440.2 1349.0 1505.3 1350.1 1559.6 1352.2 1600.8 1355.5 1570.4 1356.5 1523.9 1358.7 1523.7 1360.5 1592.1 1358.8 1635.5 1359.8 1700.6 1361.4 1752.7 1363.5 1757.0 1365.5 1757.2 1367.4 1757.0 1368.5 1678.9 1369.2 1603.0 1370.7 1548.7 1372.9 1505.3 1374.5 1486.9 1377.2 1516.2 1379.4 1548.7 1380.5 1613.8 1380.9 1700.6 1382.2 1757.0 M1382.2 1757.0 1383.6 1758.5 1385.0 1757.7 1386.5 1757.9 1387.9 1758.2 1389.3 1757.8 1390.7 1758.4 1392.2 1757.4 1393.6 1757.3 1395.0 1757.8 1396.4 1758.7 1397.9 1757.5 1399.3 1757.2 1400.7 1757.3 1402.1 1757.6 1403.6 1757.0 1405.0 1757.8 1406.4 1758.1 1407.8 1759.1 1409.2 1756.9 1410.7 1757.3 1412.1 1757.1 1413.5 1757.6 1414.9 1758.8 1416.4 1757.1 1417.8 1757.0 M1417.8 1757.0 1418.4 1678.9 1419.5 1613.8 1420.6 1594.3 1422.2 1594.1 1423.9 1592.1 1425.3 1592.1 1426.8 1592.4 1428.2 1589.9 1429.9 1548.7 1431.5 1494.5 1433.1 1473.1 1435.8 1505.3 1438.0 1570.4 1440.1 1613.8 1442.3 1631.2 1444.5 1570.4 1446.7 1505.3 1448.8 1470.6 1450.5 1458.3 1453.2 1505.3 1455.3 1527.0 1457.5 1483.6 1459.2 1455.9 1460.7 1449.5 1462.9 1505.3 1464.0 1570.4 1465.1 1581.3 1466.2 1754.9 1468.4 1754.9 1469.9 1635.5 1470.7 1524.3 1472.8 1522.7 1475.9 1603.0 1478.1 1618.2 1479.2 1754.9 1480.3 1757.0 1481.4 1757.0 M1481.4 1757.0 1482.8 1759.1 1484.3 1758.8 1485.7 1758.9 1487.2 1758.6 1488.6 1757.0 1490.1 1757.0 1491.6 1759.1 1493.0 1757.1 1494.5 1756.8 1495.9 1757.0 M1495.9 1757.0 1496.0 1757.0 1497.1 1678.9 1498.2 1592.1 1498.8 1543.5 1500.3 1540.6 1502.1 1600.8 1503.6 1678.9 1504.7 1752.7 1506.9 1757.0 1509.0 1752.7 1510.8 1678.9 1512.3 1603.0 1514.4 1581.3 1516.0 1527.0 1517.3 1483.6 1518.3 1438.1 1520.5 1436.7 1522.0 1483.6 1523.1 1527.0 1524.2 1613.8 1525.3 1700.6 1526.4 1752.7 1528.1 1752.7 1529.0 1635.5 1530.3 1527.0 1531.3 1478.6 1533.5 1474.4 1535.1 1527.0 1536.1 1592.1 1537.2 1668.1 1538.3 1670.3 1539.4 1670.2 1540.5 1592.1 1541.1 1529.1 1542.2 1531.4 1543.2 1531.6 1545.5 1559.6 1547.0 1603.0 1548.1 1657.2 1549.2 1722.3 1550.3 1757.0 M1550.3 1757.0 1551.7 1757.1 1553.1 1757.7 1554.5 1757.7 1555.9 1757.8 1557.4 1757.6 1558.8 1757.0 1560.2 1758.3 1561.6 1757.5 1563.0 1758.8 1564.5 1759.1 1565.9 1756.8 1567.3 1758.6 1568.7 1758.5 1570.1 1757.4 1571.6 1758.1 1573.0 1757.4 1574.4 1758.8 1575.8 1757.5 1577.3 1758.3 1578.7 1757.3 1580.1 1758.8 1581.5 1757.2 1582.9 1759.0 1584.4 1757.1 1585.8 1757.7 1587.2 1758.4 1588.6 1757.7 1590.0 1758.6 1591.5 1757.1 1592.9 1759.1 1594.3 1758.0 1595.7 1758.9 1597.1 1757.1 1598.6 1757.7 1600.0 1757.9 1601.4 1759.0 1602.8 1759.1 1604.2 1757.7 1605.7 1757.7 1607.1 1757.5 1608.5 1756.9 1609.9 1757.0 M1609.9 1757.0 1610.6 1678.9 1611.5 1613.8 1612.8 1574.8 1615.4 1570.4 1617.5 1559.6 1619.2 1546.5 1621.9 1570.4 1624.0 1598.6 1625.1 1599.7 1626.2 1600.8 1627.9 1548.7 1629.5 1483.6 1631.0 1431.5 1632.7 1416.2 1634.9 1461.9 1636.6 1505.3 1638.1 1548.7 1640.3 1553.1 1643.1 1505.3 1645.3 1472.8 1647.5 1440.2 1649.6 1423.5 1652.2 1461.9 1654.4 1505.3 1656.2 1527.0 1658.8 1483.6 1660.9 1444.5 1663.1 1435.9 1664.8 1396.8 1665.6 1345.5 1667.4 1342.1 1669.2 1396.8 1670.0 1461.9 1670.9 1505.3 1671.8 1570.4 1673.1 1573.0 1674.4 1572.6 1676.6 1527.0 1679.4 1516.2 1682.6 1505.3 1684.3 1493.1 1687.0 1527.0 1689.1 1548.7 1691.3 1559.6 1692.4 1613.8 1693.0 1678.9 1693.9 1744.0 1695.2 1757.0 M1695.2 1757.0 1696.7 1757.0 1698.1 1758.7 1699.6 1757.7 1701.0 1757.2 1702.5 1757.5 1704.0 1757.0 1705.4 1758.3 1706.9 1757.3 1708.3 1758.2 1709.8 1757.8 1711.2 1758.2 1712.7 1756.9 1714.2 1758.5 1715.6 1757.0 M1715.6 1757.0 1716.3 1678.9 1717.4 1592.1 1719.1 1527.0 1720.6 1483.6 1722.8 1472.8 1726.0 1461.9 1729.3 1451.1 1733.6 1440.2 1734.7 1439.2 1735.8 1438.7 1736.9 1438.9 1738.0 1435.9 1739.3 1437.4 1740.7 1435.8 1742.0 1435.0 1743.4 1433.7 1746.2 1423.3 1748.2 1440.2 1749.5 1483.6 1750.3 1527.0 1752.1 1570.4 1753.8 1603.0 1755.3 1635.5 1756.4 1700.6 1757.5 1752.7 1759.7 1757.0 1761.2 1700.6 1762.5 1635.5 1761.3 1590.8 1764.2 1591.4 1766.2 1635.5 1767.3 1744.0 1769.0 1757.0 1770.8 1758.0 1772.7 1757.0 1773.8 1678.9 1774.9 1592.1 1775.9 1527.0 1778.1 1505.3 1780.3 1461.9 1782.0 1418.5 1783.5 1375.1 1784.6 1358.3 1786.3 1357.3 1788.5 1418.5 1790.1 1483.6 1791.6 1548.7 1793.3 1598.6 1795.9 1603.0 1796.0 1603.0 1797.1 1752.7 1799.9 1757.0 1802.1 1678.9 1803.6 1592.1 1805.3 1504.4 1807.4 1503.4 1809.5 1570.4 1810.1 1657.2 1810.8 1752.7 1812.9 1757.0 1815.1 1752.7 1816.6 1657.2 1818.3 1545.6 1821.1 1539.2 1823.1 1613.8 1824.2 1700.6 1825.3 1752.7 1826.4 1755.0 1827.5 1754.9 1829.0 1678.9 1830.3 1592.1 1831.3 1523.4 1832.4 1524.3 1833.5 1521.2 1835.1 1598.6 1836.7 1600.1 1838.3 1600.8 1839.8 1599.7 1841.2 1600.4 1842.7 1598.6 1844.3 1550.1 1847.0 1557.4 1849.2 1581.3 1851.3 1548.7 1852.9 1505.3 1854.1 1452.9 1856.3 1452.6 1858.9 1505.3 1861.1 1548.7 1863.3 1579.1 1864.9 1580.7 1866.5 1581.3 1868.7 1527.0 1869.7 1476.4 1871.9 1475.3 1874.1 1527.0 1875.9 1592.1 1878.5 1603.0 1881.7 1548.7 1885.0 1531.4 1888.2 1527.0 1890.4 1483.6 1892.1 1387.9 1894.2 1387.6 1896.9 1440.2 1898.0 1483.6 1900.2 1496.6 1901.6 1496.8 1903.1 1496.0 1904.5 1494.5 1908.8 1488.0 1914.3 1481.4 1915.2 1480.3 1916.1 1479.8 1917.0 1480.0 1917.9 1478.1 1918.8 1477.4 1919.7 1474.9 1925.1 1466.2 1929.5 1455.4 1931.1 1443.4 1933.8 1474.9 1936.0 1505.3 1938.1 1548.7 1939.2 1581.3 1941.4 1598.6 1942.8 1600.5 1944.3 1600.4 1945.7 1600.8 1950.1 1592.1 1954.4 1585.6 1957.7 1581.3 1959.3 1581.2 1960.9 1581.3 1964.2 1592.1 1967.4 1603.0 1969.2 1635.5 1970.0 1700.6 1970.9 1752.7 1972.9 1757.0 1974.7 1758.1 1976.5 1757.1 1978.3 1757.0 1979.4 1700.6 1980.5 1635.5 1981.8 1592.1 1982.6 1527.0 1983.7 1461.9 1985.9 1431.5 1988.1 1427.2 1990.2 1448.9 1993.5 1453.2 1996.7 1448.9 1999.5 1438.2 2002.2 1461.9 2003.9 1505.3 2005.4 1548.7 2006.9 1581.3 2008.7 1598.6 2009.8 1600.8 2010.8 1602.7 2011.9 1601.6 2013.0 1603.0 2014.5 1604.0 2015.9 1602.6 2017.4 1600.8 2021.7 1592.1 2022.8 1593.1 2023.9 1590.5 2024.9 1589.4 2026.0 1587.8 2027.5 1587.2 2028.9 1587.8 2030.4 1585.6 2034.7 1594.3 2035.8 1595.2 2036.9 1596.5 2038.0 1597.9 2039.1 1600.6 2040.1 1601.6 2041.2 1600.8 2042.6 1601.4 2043.9 1600.9 2045.3 1599.6 2046.7 1598.6 2048.8 1579.1 2051.0 1574.8 2054.2 1583.4 2058.6 1592.1 2059.9 1594.3 2061.2 1595.8 2062.5 1595.2 2063.8 1595.6 2065.1 1596.5 2066.7 1597.2 2068.4 1598.2 2070.0 1598.5 2071.6 1598.6 2073.2 1598.5 2074.9 1598.5 2076.5 1598.9 2078.1 1596.5 M2078.1 1596.5 2079.6 1597.3 2081.0 1596.2 2082.5 1596.2 2083.9 1595.0 2085.4 1596.5 2086.8 1594.3 M2086.8 1594.3 2088.3 1593.6 2089.8 1594.6 2091.4 1594.7 2092.9 1594.1 2094.4 1592.2 2095.9 1592.1 M2095.9 1592.1 2095.9 1598.6 2099.2 1576.9 2100.3 1577.4 2101.3 1574.8 2103.5 1592.1 2107.8 1600.8 2109.2 1602.1 2110.6 1603.5 2111.9 1602.3 2113.3 1603.0 2114.9 1603.3 2116.5 1603.8 2118.2 1601.3 2119.8 1600.8 2124.1 1592.1 2125.2 1592.8 2126.3 1590.8 2127.4 1589.6 2128.5 1587.8 2130.6 1572.6 2131.7 1571.6 2132.8 1570.4 2135.0 1587.8 2136.1 1589.7 2137.1 1589.8 2138.2 1591.0 2139.3 1592.1 2143.7 1581.3 2145.8 1568.2 2147.3 1567.3 2148.7 1566.8 2150.2 1566.1 2151.6 1566.5 2153.1 1565.2 2154.5 1563.9 2155.6 1566.7 2156.7 1566.1 2158.8 1583.4 2163.2 1596.5 2167.5 1603.0 2169.2 1602.6 2170.8 1602.1 2172.4 1602.8 2174.0 1600.8 2175.1 1600.7 2176.2 1598.5 2177.3 1598.5 2178.4 1596.7 2179.5 1597.3 2180.5 1594.3 2181.9 1596.4 2183.2 1597.3 2184.5 1597.2 2185.8 1599.4 2187.1 1598.6 2188.4 1601.1 2189.7 1601.6 2191.0 1601.9 2192.3 1603.7 2193.6 1603.0 M2193.6 1603.0 2195.0 1603.2 2196.5 1602.2 2197.9 1602.4 2199.4 1602.0 2200.8 1602.3 2202.2 1600.8 M2202.2 1600.8 2203.7 1600.8 2205.1 1602.3 2206.6 1600.8 2208.0 1601.7 2209.5 1601.3 2210.9 1600.8 M2210.9 1600.8 2215.3 1592.1 2218.5 1576.9 2221.8 1572.6 2223.2 1575.4 2224.7 1575.1 2226.1 1574.8 2228.9 1566.0 2231.5 1581.3 2232.2 1635.5 2233.1 1700.6 2234.4 1752.7 2235.9 1757.0 M2235.9 1757.0 2237.3 1757.3 2238.7 1757.3 2240.1 1757.4 2241.5 1758.2 2242.9 1757.5 2244.3 1759.1 2245.7 1758.6 2247.1 1757.1 2248.5 1756.7 2249.9 1756.9 2251.3 1757.8 2252.7 1757.3 2254.1 1757.7 2255.5 1757.7 2256.9 1758.9 2258.3 1757.2 2259.7 1759.1 2261.1 1758.7 2262.5 1759.0 2263.9 1757.8 2265.3 1757.8 2266.7 1757.9 2268.1 1758.8 2269.6 1757.9 2271.0 1756.8 2272.4 1757.3 2273.8 1759.1 2275.2 1756.7 2276.6 1758.2 2278.0 1758.8 2279.4 1757.6 2280.8 1757.8 2282.2 1757.9 2283.6 1756.8 2285.0 1757.7 2286.4 1758.9 2287.8 1757.7 2289.2 1757.2 2290.6 1758.8 2292.0 1758.7 2293.4 1757.0" stroke="#f04040" stroke-width="5.6" stroke-dasharray="14 6 5 6" stroke-linecap="butt" transform="translate(-0.5 1.5)"/>
<path d="M421.9 1760.5 V1769.1 M424.9 1768.1 Q430.8 1763.0 441.7 1762.0 M497.8 1760.5 V1767.1 M500.8 1766.1 Q506.4 1763.0 517.0 1762.0 M577.0 1760.5 V1769.9 M580.0 1768.9 Q582.9 1763.0 590.1 1762.0 M650.3 1760.5 V1767.8 M653.3 1766.8 Q657.2 1763.0 665.8 1762.0 M742.5 1760.5 V1766.9 M745.5 1765.9 Q749.6 1763.0 758.3 1762.0 M780.5 1760.5 V1765.9 M783.5 1764.9 Q786.6 1763.0 794.0 1762.0 M875.9 1760.5 V1768.4 M878.9 1767.4 Q882.0 1763.0 889.4 1762.0 M973.7 1760.5 V1768.8 M976.7 1767.8 Q980.2 1763.0 988.1 1762.0 M1075.7 1760.5 V1767.5 M1078.7 1766.5 Q1085.8 1763.0 1098.1 1762.0 M1258.9 1760.5 V1768.1 M1261.9 1767.1 Q1264.7 1763.0 1271.9 1762.0 M1382.2 1760.5 V1771.3 M1385.2 1770.3 Q1391.4 1763.0 1402.8 1762.0 M1550.3 1760.5 V1769.5 M1553.3 1768.5 Q1559.6 1763.0 1571.0 1762.0 M1695.2 1760.5 V1769.8 M1698.2 1768.8 Q1704.2 1763.0 1715.1 1762.0 M2235.9 1760.5 V1766.0 M2238.9 1765.0 Q2241.4 1763.0 2248.1 1762.0" stroke="#f04040" stroke-width="4.5" stroke-linecap="round"/>
<path d="M746.0 1757.5 V1835.0 M1815.5 1757.5 V1809.0 M2247.8 1757.5 V1787.0 M2246.0 1646.0 V1744.0 M744.7 1610.0 V1711.0 M1031.6 1510.0 V1553.0 M1049.6 1505.0 V1549.0 M1656.0 1527.0 V1564.0 M1672.2 1579.0 V1586.0 M1909.3 1498.0 V1550.0" stroke="#f04040" stroke-width="5" stroke-dasharray="17 5 5 5" stroke-linecap="round"/>
<path d="M2013.0 1605.4 2014.5 1604.8 2015.9 1605.3 2017.4 1604.5 2018.8 1601.9 2020.2 1597.8 2021.7 1597.0 2023.1 1593.9 2024.6 1591.6 2026.0 1591.8 2027.5 1592.0 2028.9 1589.4 2030.4 1589.8 2031.8 1591.9 2033.3 1595.4 2034.7 1598.6 2036.0 1599.0 2037.3 1600.0 2038.6 1600.3 2039.9 1601.8 2041.2 1605.2 2042.6 1604.7 2043.9 1603.2 2045.3 1602.6 2046.7 1602.5 2047.7 1591.5 2048.8 1582.1 2049.9 1579.6 2051.0 1577.6 2052.6 1583.8 2054.2 1586.6 2055.7 1590.9 2057.1 1592.7 2058.6 1595.6 2059.9 1595.6 2061.2 1598.5 2062.5 1597.1 2063.8 1600.3 2065.1 1599.2 2066.4 1601.5 2067.7 1602.2 2069.0 1600.4 2070.3 1600.8 2071.6 1601.2 2072.9 1600.3 2074.2 1602.4 2075.5 1599.9 2076.8 1598.9 2078.1 1600.0 2079.6 1600.6 2081.0 1598.7 2082.5 1597.7 2083.9 1598.9 2085.4 1598.8 2086.8 1596.6 2088.1 1597.8 2089.4 1597.2 2090.7 1597.3 2092.0 1597.1 2093.3 1595.6 2094.6 1596.9 2095.9 1596.2 2095.9 1603.1 2097.5 1591.8 2099.2 1579.9 2100.3 1580.7 2101.3 1577.3 2102.4 1587.6 2103.5 1596.5 2105.0 1598.8 2106.4 1602.1 2107.8 1603.4 2109.2 1603.4 2110.6 1605.4 2111.9 1605.5 2113.3 1605.8 2114.6 1606.2 2115.9 1606.2 2117.2 1605.6 2118.5 1605.4 2119.8 1605.4 2121.2 1602.2 2122.7 1599.9 2124.1 1594.6 2125.6 1593.9 2127.0 1591.4 2128.5 1592.6 2129.6 1584.6 2130.6 1575.3 2131.7 1574.8 2132.8 1575.1 2133.9 1583.6 2135.0 1592.1 2136.4 1592.6 2137.9 1594.8 2139.3 1594.7 2140.8 1592.8 2142.2 1587.3 2143.7 1584.2 2144.7 1578.7 2145.8 1571.1 2147.3 1572.3 2148.7 1569.9 2150.2 1568.5 2151.6 1568.6 2153.1 1568.7 2154.5 1567.7 2155.6 1568.7 2156.7 1569.6 2157.8 1579.7 2158.8 1588.2 2160.3 1590.4 2161.7 1596.9 2163.2 1598.5 2164.6 1600.9 2166.1 1603.0 2167.5 1606.1 2168.8 1605.6 2170.1 1604.3 2171.4 1605.8 2172.7 1604.1 2174.0 1604.4 2175.3 1602.9 2176.6 1602.8 2177.9 1600.8 2179.2 1600.6 2180.5 1597.1 2181.9 1597.5 2183.2 1600.5 2184.5 1601.1 2185.8 1602.7 2187.1 1601.0 2188.4 1604.1 2189.7 1603.4 2191.0 1603.4 2192.3 1605.8 2193.6 1605.1 2195.0 1606.7 2196.5 1605.4 2197.9 1605.0 2199.4 1606.3 2200.8 1605.3 2202.2 1603.6 2203.7 1604.5 2205.1 1603.8 2206.6 1604.2 2208.0 1602.9 2209.5 1603.8 2210.9 1604.4 2212.4 1601.1 2213.8 1599.9 2215.3 1594.4 2216.9 1588.6 2218.5 1580.7 2220.2 1577.4 2221.8 1575.3 2223.2 1577.9 2224.7 1578.5 2226.1 1577.4 2227.7 1577.2 2229.4 1574.9" stroke="#f04040" stroke-width="4.5" stroke-linecap="butt"/>
<path d="M2013.0 1603.0 2014.5 1599.4 2015.9 1602.4 2017.4 1598.1 2018.8 1596.0 2020.2 1596.0 2021.7 1590.2 2023.1 1590.5 2024.6 1586.7 2026.0 1585.0 2027.5 1586.2 2028.9 1586.5 2030.4 1583.0 2031.8 1589.3 2033.3 1591.0 2034.7 1593.9 2036.0 1594.0 2037.3 1594.3 2038.6 1597.4 2039.9 1600.0 2041.2 1599.5 2042.6 1598.8 2043.9 1599.5 2045.3 1596.5 2046.7 1595.9 2047.7 1587.9 2048.8 1578.8 2049.9 1576.4 2051.0 1572.1 2052.6 1578.2 2054.2 1584.5 2055.7 1583.9 2057.1 1590.4 2058.6 1591.7 2059.9 1594.3 2061.2 1591.6 2062.5 1593.6 2063.8 1593.6 2065.1 1595.8 2066.4 1597.5 2067.7 1595.7 2069.0 1597.4 2070.3 1599.3 2071.6 1598.5 2072.9 1597.3 2074.2 1595.6 2075.5 1598.5 2076.8 1598.2 2078.1 1594.5 2079.6 1594.4 2081.0 1596.9 2082.5 1593.9 2083.9 1593.4 2085.4 1594.3 2086.8 1595.1 2088.1 1591.4 2089.4 1593.2 2090.7 1590.8 2092.0 1593.5 2093.3 1590.4 2094.6 1592.1 2095.9 1591.0 2095.9 1598.0 2097.5 1588.7 2099.2 1573.9 2100.3 1576.5 2101.3 1573.1 2102.4 1583.3 2103.5 1590.3 2105.0 1593.3 2106.4 1595.9 2107.8 1600.1 2109.2 1598.7 2110.6 1602.0 2111.9 1602.7 2113.3 1603.2 2114.6 1600.2 2115.9 1602.1 2117.2 1601.9 2118.5 1601.7 2119.8 1598.5 2121.2 1597.4 2122.7 1593.5 2124.1 1593.3 2125.6 1591.7 2127.0 1587.3 2128.5 1585.9 2129.6 1578.5 2130.6 1573.2 2131.7 1571.5 2132.8 1571.8 2133.9 1576.9 2135.0 1585.4 2136.4 1587.1 2137.9 1590.0 2139.3 1591.4 2140.8 1587.9 2142.2 1585.8 2143.7 1580.6 2144.7 1573.2 2145.8 1566.5 2147.3 1565.4 2148.7 1565.0 2150.2 1563.6 2151.6 1563.4 2153.1 1563.7 2154.5 1561.4 2155.6 1563.9 2156.7 1566.7 2157.8 1574.6 2158.8 1580.5 2160.3 1585.3 2161.7 1593.6 2163.2 1594.1 2164.6 1599.7 2166.1 1599.6 2167.5 1601.7 2168.8 1599.6 2170.1 1601.8 2171.4 1600.0 2172.7 1598.5 2174.0 1598.2 2175.3 1597.6 2176.6 1596.5 2177.9 1597.8 2179.2 1596.7 2180.5 1591.4 2181.9 1594.2 2183.2 1596.4 2184.5 1593.9 2185.8 1598.4 2187.1 1599.7 2188.4 1597.7 2189.7 1599.2 2191.0 1598.8 2192.3 1600.5 2193.6 1600.4 2195.0 1602.0 2196.5 1601.4 2197.9 1600.8 2199.4 1603.0 2200.8 1600.7 2202.2 1602.1 2203.7 1601.8 2205.1 1599.9 2206.6 1599.2 2208.0 1599.7 2209.5 1598.6 2210.9 1601.9 2212.4 1599.2 2213.8 1595.5 2215.3 1591.6 2216.9 1583.4 2218.5 1575.6 2220.2 1574.8 2221.8 1571.4 2223.2 1572.6 2224.7 1571.7 2226.1 1574.7 2227.7 1570.9 2229.4 1572.6" stroke="#00ff00" stroke-width="3.8" transform="translate(-0.5 -3)"/>
<path d="M301.6 1757.0 302.5 1678.9 304.2 1642.0 306.4 1644.2 307.9 1678.9 309.5 1687.6 311.2 1635.5 312.9 1592.1 314.4 1557.4 316.0 1592.1 317.7 1600.8 321.6 1600.8 323.1 1635.5 324.2 1700.6 324.9 1757.0 330.7 1757.0 332.9 1744.0 334.6 1715.8 336.8 1713.6 339.0 1722.3 340.5 1757.0 349.2 1757.0 350.7 1657.2 352.0 1592.1 352.9 1535.7 354.6 1533.5 355.7 1570.4 358.9 1576.9 361.1 1553.1 364.4 1550.9 366.5 1505.3 369.8 1503.1 372.0 1448.9 374.6 1442.4 376.7 1444.5 378.5 1474.9 379.6 1505.3 381.7 1527.0 382.8 1559.6 385.0 1603.0 388.2 1607.3 391.5 1592.1 394.7 1548.7 398.0 1531.4 400.6 1530.3 402.3 1548.7 404.5 1603.0 407.8 1605.1 409.9 1570.4 412.1 1549.8 414.3 1550.9 414.9 1592.1 415.8 1635.5 417.1 1678.9 418.6 1722.3 419.7 1752.7 421.9 1757.0 467.4 1757.0 468.5 1757.0 470.7 1700.6 472.9 1670.2 475.0 1668.1 477.2 1689.8 479.4 1752.7 481.5 1757.0 484.8 1757.0 486.5 1657.2 488.1 1592.1 489.1 1557.4 490.7 1557.4 491.7 1600.8 493.5 1581.3 495.2 1576.9 496.7 1613.8 497.4 1678.9 497.8 1757.0 558.6 1757.0 559.7 1657.2 561.2 1592.1 562.5 1548.7 564.2 1548.7 565.5 1592.1 568.4 1581.3 571.6 1579.1 573.8 1592.1 575.5 1635.5 576.4 1700.6 577.0 1757.0 595.9 1757.0 637.7 1757.0 638.5 1657.2 639.4 1592.1 640.3 1542.2 641.6 1540.0 642.4 1592.1 645.5 1596.5 647.2 1574.8 648.5 1576.9 649.4 1635.5 649.8 1700.6 650.3 1757.0 670.9 1757.0 672.0 1678.9 673.0 1613.8 674.6 1548.7 676.3 1546.5 678.5 1592.1 681.7 1570.4 683.9 1540.0 687.1 1527.0 690.4 1527.0 692.6 1548.7 695.4 1527.0 696.9 1524.8 698.0 1570.4 699.7 1603.0 701.3 1657.2 702.3 1722.3 703.4 1757.0 712.8 1757.0 713.6 1657.2 714.9 1581.3 716.4 1572.6 718.6 1592.1 721.9 1589.9 724.5 1570.4 725.8 1505.3 727.3 1440.2 728.8 1386.0 731.0 1355.6 733.2 1353.4 734.9 1396.8 736.0 1461.9 736.6 1527.0 737.5 1592.1 739.2 1635.5 741.4 1665.9 741.0 1700.6 742.5 1757.0 758.3 1757.0 759.2 1700.6 760.9 1657.2 764.2 1652.9 766.4 1613.8 767.4 1548.7 769.2 1494.5 771.3 1490.1 772.9 1527.0 774.0 1559.6 775.7 1592.1 777.9 1613.8 778.7 1678.9 779.6 1744.0 780.5 1757.0 798.3 1757.0 799.1 1678.9 800.4 1613.8 802.2 1548.7 803.9 1542.2 805.4 1603.0 808.7 1605.1 810.8 1548.7 813.0 1505.3 815.2 1488.0 817.4 1486.9 819.5 1505.3 821.7 1537.9 823.9 1548.7 826.0 1581.3 827.8 1613.8 829.3 1657.2 830.8 1700.6 832.1 1757.0 839.5 1757.0 840.4 1678.9 841.7 1613.8 843.4 1603.0 845.6 1548.7 847.3 1544.4 848.8 1592.1 852.1 1598.6 853.8 1548.7 855.3 1531.4 857.5 1533.5 859.0 1592.1 861.8 1603.0 865.1 1570.4 866.8 1520.5 869.0 1518.3 870.5 1548.7 872.0 1592.1 873.8 1600.8 874.9 1678.9 875.9 1757.0 889.4 1757.0 890.7 1678.9 892.2 1613.8 894.4 1598.6 895.9 1563.9 897.1 1570.4 898.6 1529.2 900.3 1527.0 901.4 1592.1 904.7 1600.8 909.0 1598.6 912.3 1581.3 913.4 1531.4 915.1 1529.2 916.0 1613.8 915.5 1678.9 916.6 1744.0 918.8 1757.0 921.0 1757.0 922.0 1678.9 923.1 1613.8 924.2 1550.9 926.4 1548.7 928.6 1592.1 931.8 1548.7 934.0 1546.5 936.1 1592.1 938.3 1600.8 940.5 1548.7 942.0 1529.2 944.2 1528.1 945.9 1592.1 947.0 1678.9 948.1 1744.0 950.3 1757.0 952.0 1757.0 952.9 1678.9 954.2 1603.0 955.7 1548.7 957.8 1516.2 960.0 1515.1 962.2 1548.7 963.7 1592.1 964.6 1752.7 965.9 1752.7 966.7 1600.8 970.9 1603.0 972.4 1678.9 973.7 1757.0 1004.5 1757.0 1005.6 1657.2 1006.7 1592.1 1007.8 1540.0 1009.3 1537.9 1011.0 1570.4 1014.3 1581.3 1017.5 1548.7 1019.7 1516.2 1021.9 1496.6 1025.1 1490.1 1028.4 1494.5 1031.6 1505.3 1034.9 1501.0 1037.1 1472.8 1039.2 1440.2 1041.4 1435.9 1043.6 1444.5 1045.7 1461.9 1047.9 1494.5 1050.5 1505.3 1053.3 1466.2 1056.2 1457.6 1058.8 1461.9 1060.9 1483.6 1062.0 1527.0 1063.1 1559.6 1065.3 1570.4 1068.5 1581.3 1070.7 1559.6 1072.9 1550.9 1074.4 1592.1 1074.0 1657.2 1074.4 1722.3 1075.7 1757.0 1145.6 1757.0 1146.7 1657.2 1147.7 1592.1 1149.0 1529.2 1150.8 1527.0 1152.1 1548.7 1154.2 1570.4 1156.4 1603.0 1158.6 1657.2 1160.8 1722.3 1162.5 1757.0 1168.4 1757.0 1169.9 1678.9 1171.2 1613.8 1172.7 1592.1 1175.9 1570.4 1178.1 1559.6 1180.3 1570.4 1182.5 1600.8 1184.6 1570.4 1185.7 1505.3 1187.2 1457.6 1189.4 1453.2 1191.6 1483.6 1194.4 1505.3 1195.9 1494.5 1196.0 1483.6 1198.2 1488.0 1199.3 1527.0 1201.4 1524.8 1204.7 1527.0 1207.9 1537.9 1210.1 1600.8 1212.3 1635.5 1213.4 1700.6 1214.4 1752.7 1216.6 1757.0 1223.1 1757.0 1224.2 1678.9 1225.3 1603.0 1227.5 1598.6 1230.7 1594.3 1232.9 1592.1 1234.0 1678.9 1235.1 1752.7 1237.2 1752.7 1238.3 1635.5 1239.4 1592.1 1240.5 1548.7 1241.6 1461.9 1242.9 1375.1 1244.4 1339.9 1248.3 1163.9 1250.7 1339.9 1252.0 1418.5 1252.9 1483.6 1253.5 1527.0 1254.6 1592.1 1256.3 1635.5 1257.8 1700.6 1258.9 1757.0 1294.7 1757.0 1295.8 1678.9 1297.6 1613.8 1299.1 1592.1 1300.2 1531.4 1302.3 1529.2 1304.5 1548.7 1307.8 1529.2 1309.9 1537.9 1312.1 1592.1 1314.9 1548.7 1317.5 1505.3 1319.7 1461.9 1321.4 1459.7 1323.0 1505.3 1324.5 1570.4 1325.8 1600.8 1328.4 1603.0 1330.1 1548.7 1331.6 1483.6 1333.2 1418.5 1334.9 1409.8 1337.1 1414.2 1339.2 1461.9 1341.8 1494.5 1344.0 1440.2 1345.7 1422.8 1347.9 1440.2 1349.0 1505.3 1350.1 1559.6 1352.2 1600.8 1355.5 1570.4 1357.0 1531.4 1359.2 1529.2 1360.5 1592.1 1358.8 1635.5 1359.8 1700.6 1361.4 1752.7 1363.5 1757.0 1367.4 1757.0 1368.5 1678.9 1369.2 1603.0 1370.7 1548.7 1372.9 1505.3 1375.0 1496.6 1377.2 1516.2 1379.4 1548.7 1380.5 1613.8 1380.9 1700.6 1382.2 1757.0 1417.8 1757.0 1418.4 1678.9 1419.5 1613.8 1420.6 1594.3 1423.9 1592.1 1428.2 1589.9 1429.9 1548.7 1431.5 1494.5 1433.6 1483.6 1435.8 1505.3 1438.0 1570.4 1440.1 1613.8 1442.3 1631.2 1444.5 1570.4 1446.7 1505.3 1448.8 1470.6 1451.0 1466.2 1453.2 1505.3 1455.3 1527.0 1457.5 1483.6 1459.7 1461.9 1461.2 1459.7 1462.9 1505.3 1464.0 1570.4 1465.1 1581.3 1466.2 1754.9 1468.4 1754.9 1469.9 1635.5 1471.2 1531.4 1473.3 1529.2 1475.9 1603.0 1478.1 1618.2 1479.2 1754.9 1481.4 1757.0 1495.9 1757.0 1496.0 1757.0 1497.1 1678.9 1498.2 1592.1 1499.3 1548.7 1500.8 1550.9 1502.1 1600.8 1503.6 1678.9 1504.7 1752.7 1506.9 1757.0 1509.0 1752.7 1510.8 1678.9 1512.3 1603.0 1514.4 1581.3 1516.0 1527.0 1517.3 1483.6 1518.8 1444.5 1521.0 1442.4 1522.0 1483.6 1523.1 1527.0 1524.2 1613.8 1525.3 1700.6 1526.4 1752.7 1528.1 1752.7 1529.0 1635.5 1530.3 1527.0 1531.8 1485.8 1534.0 1483.6 1535.1 1527.0 1536.1 1592.1 1537.2 1668.1 1539.4 1670.2 1540.5 1592.1 1541.6 1540.0 1543.7 1537.9 1545.5 1559.6 1547.0 1603.0 1548.1 1657.2 1549.2 1722.3 1550.3 1757.0 1609.9 1757.0 1610.6 1678.9 1611.5 1613.8 1612.8 1574.8 1615.4 1570.4 1617.5 1559.6 1619.7 1555.2 1621.9 1570.4 1624.0 1598.6 1626.2 1600.8 1627.9 1548.7 1629.5 1483.6 1631.0 1431.5 1633.2 1422.8 1634.9 1461.9 1636.6 1505.3 1638.1 1548.7 1640.3 1553.1 1643.1 1505.3 1645.3 1472.8 1647.5 1440.2 1650.1 1433.7 1652.2 1461.9 1654.4 1505.3 1656.2 1527.0 1658.8 1483.6 1660.9 1444.5 1663.1 1435.9 1664.8 1396.8 1666.1 1353.4 1667.9 1351.2 1669.2 1396.8 1670.0 1461.9 1670.9 1505.3 1671.8 1570.4 1674.4 1572.6 1676.6 1527.0 1679.4 1516.2 1682.6 1505.3 1684.8 1503.1 1687.0 1527.0 1689.1 1548.7 1691.3 1559.6 1692.4 1613.8 1693.0 1678.9 1693.9 1744.0 1695.2 1757.0 1715.6 1757.0 1716.3 1678.9 1717.4 1592.1 1719.1 1527.0 1720.6 1483.6 1722.8 1472.8 1726.0 1461.9 1729.3 1451.1 1733.6 1440.2 1738.0 1435.9 1743.4 1433.7 1746.7 1431.5 1748.2 1440.2 1749.5 1483.6 1750.3 1527.0 1752.1 1570.4 1753.8 1603.0 1755.3 1635.5 1756.4 1700.6 1757.5 1752.7 1759.7 1757.0 1761.2 1700.6 1762.5 1635.5 1761.8 1598.6 1764.7 1596.5 1766.2 1635.5 1767.3 1744.0 1769.0 1757.0 1772.7 1757.0 1773.8 1678.9 1774.9 1592.1 1775.9 1527.0 1778.1 1505.3 1780.3 1461.9 1782.0 1418.5 1783.5 1375.1 1785.1 1364.3 1786.8 1366.4 1788.5 1418.5 1790.1 1483.6 1791.6 1548.7 1793.3 1598.6 1795.9 1603.0 1796.0 1603.0 1797.1 1752.7 1799.9 1757.0 1802.1 1678.9 1803.6 1592.1 1805.8 1514.0 1807.9 1511.8 1809.5 1570.4 1810.1 1657.2 1810.8 1752.7 1812.9 1757.0 1815.1 1752.7 1816.6 1657.2 1818.8 1550.9 1821.6 1548.7 1823.1 1613.8 1824.2 1700.6 1825.3 1752.7 1827.5 1754.9 1829.0 1678.9 1830.3 1592.1 1831.8 1533.5 1834.0 1531.4 1835.1 1598.6 1838.3 1600.8 1842.7 1598.6 1844.8 1559.6 1847.0 1557.4 1849.2 1581.3 1851.3 1548.7 1852.9 1505.3 1854.6 1461.9 1856.8 1459.7 1858.9 1505.3 1861.1 1548.7 1863.3 1579.1 1866.5 1581.3 1868.7 1527.0 1870.2 1483.6 1872.4 1481.4 1874.1 1527.0 1875.9 1592.1 1878.5 1603.0 1881.7 1548.7 1885.0 1531.4 1888.2 1527.0 1890.4 1483.6 1892.6 1396.8 1894.7 1394.6 1896.9 1440.2 1898.0 1483.6 1900.2 1496.6 1904.5 1494.5 1908.8 1488.0 1914.3 1481.4 1919.7 1474.9 1925.1 1466.2 1929.5 1455.4 1931.6 1453.2 1933.8 1474.9 1936.0 1505.3 1938.1 1548.7 1939.2 1581.3 1941.4 1598.6 1945.7 1600.8 1950.1 1592.1 1954.4 1585.6 1957.7 1581.3 1960.9 1581.3 1964.2 1592.1 1967.4 1603.0 1969.2 1635.5 1970.0 1700.6 1970.9 1752.7 1972.9 1757.0 1978.3 1757.0 1979.4 1700.6 1980.5 1635.5 1981.8 1592.1 1982.6 1527.0 1983.7 1461.9 1985.9 1431.5 1988.1 1427.2 1990.2 1448.9 1993.5 1453.2 1996.7 1448.9 2000.0 1444.5 2002.2 1461.9 2003.9 1505.3 2005.4 1548.7 2006.9 1581.3 2008.7 1598.6 2013.0 1603.0 2017.4 1600.8 2021.7 1592.1 2026.0 1587.8 2030.4 1585.6 2034.7 1594.3 2041.2 1600.8 2046.7 1598.6 2048.8 1579.1 2051.0 1574.8 2054.2 1583.4 2058.6 1592.1 2065.1 1596.5 2071.6 1598.6 2078.1 1596.5 2086.8 1594.3 2095.9 1592.1 2095.9 1598.6 2099.2 1576.9 2101.3 1574.8 2103.5 1592.1 2107.8 1600.8 2113.3 1603.0 2119.8 1600.8 2124.1 1592.1 2128.5 1587.8 2130.6 1572.6 2132.8 1570.4 2135.0 1587.8 2139.3 1592.1 2143.7 1581.3 2145.8 1568.2 2150.2 1566.1 2154.5 1563.9 2156.7 1566.1 2158.8 1583.4 2163.2 1596.5 2167.5 1603.0 2174.0 1600.8 2180.5 1594.3 2187.1 1598.6 2193.6 1603.0 2202.2 1600.8 2210.9 1600.8 2215.3 1592.1 2218.5 1576.9 2221.8 1572.6 2226.1 1574.8 2229.4 1572.6 2231.5 1581.3 2232.2 1635.5 2233.1 1700.6 2234.4 1752.7 2235.9 1757.0 2293.4 1757.0" stroke="#00ff00" stroke-width="4.4" stroke-dasharray="12 7.5 1 7.5" transform="translate(-0.5 -3)"/>
</g>
<g shape-rendering="crispEdges" stroke="#000" stroke-width="10" fill="none">
<rect x="296" y="1141" width="2001" height="742"/>
<path d="M462.8 1883 v-15 M629.5 1883 v-30 M796.2 1883 v-15 M963.0 1883 v-30 M1129.8 1883 v-15 M1296.5 1883 v-30 M1463.2 1883 v-15 M1630.0 1883 v-30 M1796.7 1883 v-15 M1963.5 1883 v-30 M2130.2 1883 v-15 M296 1697.5 h29 M296 1512.0 h29 M296 1326.5 h29 M296 1790.2 h15 M296 1604.8 h15 M296 1419.2 h15 M296 1233.7 h15"/>
</g>
<g font-size="94">
<text x="296.0" y="1984" text-anchor="middle">0</text>
<text x="629.5" y="1984" text-anchor="middle">300</text>
<text x="963.0" y="1984" text-anchor="middle">600</text>
<text x="1296.5" y="1984" text-anchor="middle">900</text>
<text x="1630.0" y="1984" text-anchor="middle">1200</text>
<text x="1963.5" y="1984" text-anchor="middle">1500</text>
<text x="2297.0" y="1984" text-anchor="middle">1800</text>
<text x="262" y="1909.5" text-anchor="end">2.0</text>
<text x="262" y="1724.0" text-anchor="end">2.2</text>
<text x="262" y="1538.5" text-anchor="end">2.4</text>
<text x="262" y="1353.0" text-anchor="end">2.6</text>
<text x="262" y="1167.5" text-anchor="end">2.8</text>
<text x="1296.5" y="2070.5" text-anchor="middle">Time (s)</text>
<text transform="translate(113 1537.5) rotate(-90)" text-anchor="middle">Pressure (bar)</text>
<text x="27" y="1141.5">(b)</text>
</g>
<g fill="none" stroke-linecap="round">
<path d="M1757.5 1183 h170" stroke="#0000ff" stroke-width="16"/>
<path d="M1754 1274.5 h164" stroke="#f04040" stroke-width="7.4" stroke-dasharray="29 20.4 7.6 20.4 7.6 20.4"/>
<path d="M1752.5 1366 h170" stroke="#00ff00" stroke-width="5" stroke-dasharray="17 9 2.5 10.5"/>
</g>
<g font-size="74">
<text x="1945.5" y="1207.5">Demand</text>
<text x="1945.5" y="1300.5">Distributed</text>
<text x="1945.5" y="1392.5">Integrated</text>
</g>
</g>
<g id="chart-c">
<clipPath id="clip-c"><rect x="292" y="2227" width="2001" height="743"/></clipPath>
<g clip-path="url(#clip-c)" fill="none" stroke-linejoin="round" stroke-linecap="round" shape-rendering="crispEdges">
<path d="M297.4 2869.9 307.2 2869.9 309.0 2818.9 310.5 2786.4 312.7 2771.2 314.9 2770.1 317.0 2786.4 318.1 2818.9 319.2 2869.9 348.2 2869.9 349.7 2818.9 351.2 2775.5 354.1 2743.0 357.3 2732.1 360.6 2721.3 362.8 2699.6 365.0 2667.0 367.1 2623.6 369.3 2584.5 371.5 2580.2 373.7 2584.5 375.2 2623.6 376.5 2667.0 378.0 2710.4 379.1 2753.8 381.3 2775.5 383.5 2758.2 386.1 2753.8 388.3 2758.2 389.6 2797.2 390.5 2840.6 391.8 2869.9 396.6 2869.9 398.7 2840.6 400.5 2797.2 403.1 2775.5 405.3 2762.5 407.9 2762.5 409.2 2797.2 410.1 2840.6 410.7 2869.9 483.7 2869.9 484.8 2818.9 485.9 2786.4 488.0 2773.4 490.2 2786.4 491.3 2818.9 492.4 2869.9 558.2 2869.9 559.5 2818.9 561.0 2775.5 564.3 2758.2 566.9 2753.8 569.1 2760.3 570.8 2775.5 571.9 2818.9 572.5 2869.9 593.0 2869.9 635.6 2869.9 636.7 2818.9 637.8 2786.4 639.9 2771.2 642.1 2773.4 643.6 2797.2 645.0 2869.9 671.5 2869.9 672.6 2818.9 674.1 2775.5 677.0 2743.0 679.1 2721.3 682.4 2706.1 685.7 2699.6 688.9 2710.4 692.2 2699.6 694.4 2699.6 696.6 2732.1 697.2 2775.5 698.1 2818.9 699.4 2862.3 700.9 2869.9 711.8 2869.9 712.9 2818.9 714.0 2775.5 716.2 2762.5 719.4 2753.8 721.6 2743.0 722.7 2688.7 723.8 2623.6 725.5 2536.8 727.7 2471.7 729.9 2467.4 731.4 2515.1 732.5 2580.2 733.6 2667.0 734.7 2753.8 735.8 2818.9 736.9 2869.9 763.0 2869.9 764.1 2818.9 765.2 2753.8 766.3 2688.7 767.8 2649.7 770.0 2647.5 771.7 2688.7 772.8 2753.8 773.9 2818.9 775.0 2869.9 801.1 2869.9 802.2 2818.9 804.4 2775.5 807.7 2732.1 809.8 2688.7 812.0 2656.2 814.2 2645.3 816.4 2649.7 818.6 2677.9 820.7 2721.3 822.9 2732.1 824.4 2775.5 826.2 2818.9 827.9 2869.9 843.6 2869.9 845.3 2818.9 847.5 2797.2 850.1 2795.1 852.3 2808.1 853.4 2862.3 855.6 2862.3 857.8 2808.1 860.6 2775.5 863.2 2732.1 864.9 2690.9 867.1 2688.7 868.6 2732.1 869.7 2797.2 870.8 2869.9 890.4 2869.9 892.0 2818.9 894.1 2808.1 894.2 2808.1 896.0 2862.3 897.5 2869.9 899.0 2818.9 900.8 2775.5 902.9 2771.2 906.2 2786.4 907.7 2758.2 909.5 2756.0 911.2 2775.5 912.1 2818.9 912.7 2869.9 919.3 2869.9 920.4 2818.9 922.1 2775.5 924.3 2760.3 926.9 2760.3 928.6 2797.2 929.5 2840.6 930.4 2869.9 934.5 2869.9 935.6 2818.9 937.3 2753.8 938.9 2710.4 940.4 2697.4 942.6 2697.4 943.9 2753.8 944.8 2818.9 946.1 2869.9 951.3 2869.9 952.6 2797.2 954.1 2732.1 955.6 2680.0 957.8 2677.9 959.1 2732.1 960.0 2797.2 961.3 2862.3 962.8 2869.9 964.4 2840.6 966.1 2788.5 968.3 2782.0 970.5 2788.5 971.5 2840.6 972.6 2869.9 1006.4 2869.9 1007.5 2818.9 1008.6 2775.5 1010.8 2753.8 1013.6 2732.1 1015.1 2710.4 1017.3 2667.0 1020.6 2649.7 1023.8 2645.3 1027.1 2649.7 1030.4 2658.3 1033.6 2667.0 1035.4 2623.6 1036.9 2580.2 1038.4 2562.8 1040.6 2560.7 1042.3 2580.2 1044.5 2601.9 1046.7 2667.0 1050.0 2667.0 1052.1 2623.6 1054.3 2597.6 1056.5 2595.4 1058.7 2623.6 1060.2 2645.3 1061.5 2710.4 1063.0 2753.8 1065.2 2775.5 1067.4 2788.5 1069.6 2792.9 1070.2 2818.9 1071.1 2869.9 1149.1 2869.9 1149.5 2818.9 1150.8 2792.9 1153.0 2790.7 1153.9 2818.9 1154.5 2869.9 1170.8 2869.9 1171.9 2818.9 1173.5 2775.5 1175.2 2743.0 1177.4 2736.5 1180.0 2753.8 1181.7 2786.4 1183.5 2732.1 1184.4 2667.0 1185.7 2601.9 1187.2 2595.4 1189.4 2601.9 1191.5 2645.3 1193.7 2688.7 1195.2 2710.4 1195.3 2634.5 1197.5 2645.3 1199.7 2688.7 1201.9 2693.1 1204.0 2732.1 1205.8 2775.5 1207.3 2818.9 1208.8 2869.9 1223.6 2869.9 1224.7 2840.6 1226.3 2797.2 1229.1 2792.9 1231.3 2797.2 1232.8 2840.6 1235.6 2862.3 1237.2 2797.2 1238.5 2710.4 1239.3 2623.6 1240.6 2536.8 1242.4 2450.0 1243.7 2367.5 1249.8 2367.5 1250.7 2450.0 1251.5 2536.8 1252.0 2623.6 1253.1 2710.4 1254.1 2797.2 1255.9 2840.6 1257.4 2869.9 1301.0 2869.9 1302.1 2818.9 1303.1 2775.5 1305.3 2753.8 1306.4 2699.6 1308.2 2695.2 1310.3 2721.3 1313.0 2753.8 1314.7 2710.4 1316.2 2667.0 1317.7 2623.6 1319.5 2619.3 1321.2 2645.3 1322.8 2710.4 1324.3 2775.5 1325.6 2840.6 1326.5 2869.9 1328.2 2869.9 1329.3 2775.5 1330.4 2667.0 1331.7 2580.2 1333.0 2532.5 1334.7 2530.3 1336.9 2558.5 1339.1 2623.6 1341.7 2645.3 1343.4 2580.2 1345.2 2547.7 1347.4 2545.5 1348.9 2580.2 1350.0 2645.3 1351.1 2710.4 1352.6 2775.5 1355.4 2788.5 1357.6 2797.2 1359.8 2840.6 1360.9 2869.9 1367.4 2869.9 1368.5 2818.9 1369.6 2753.8 1371.3 2688.7 1373.5 2660.5 1375.7 2658.3 1377.2 2688.7 1378.3 2753.8 1379.4 2818.9 1380.5 2869.9 1418.6 2869.9 1419.7 2818.9 1420.8 2775.5 1422.9 2758.2 1426.2 2753.8 1428.4 2732.1 1430.1 2688.7 1431.7 2645.3 1433.8 2641.0 1436.0 2667.0 1437.5 2732.1 1439.3 2775.5 1441.5 2818.9 1442.6 2869.9 1443.6 2869.9 1444.7 2775.5 1446.3 2688.7 1448.0 2634.5 1450.2 2623.6 1452.4 2645.3 1454.5 2688.7 1456.7 2732.1 1457.8 2667.0 1458.9 2612.8 1461.1 2608.4 1462.8 2645.3 1463.7 2710.4 1464.3 2775.5 1465.0 2869.9 1470.9 2869.9 1472.0 2818.9 1473.7 2797.2 1476.7 2795.1 1478.5 2818.9 1479.6 2869.9 1496.4 2869.9 1496.4 2869.9 1498.2 2840.6 1499.7 2792.9 1501.9 2790.7 1503.4 2840.6 1504.7 2869.9 1509.5 2869.9 1511.3 2818.9 1512.8 2753.8 1514.3 2710.4 1515.6 2667.0 1517.1 2623.6 1518.2 2580.2 1520.0 2567.2 1522.1 2571.5 1523.0 2623.6 1524.3 2688.7 1525.8 2775.5 1526.9 2869.9 1528.7 2869.9 1529.5 2775.5 1530.9 2688.7 1532.4 2645.3 1534.6 2643.1 1535.6 2688.7 1536.7 2753.8 1537.8 2818.9 1538.9 2869.9 1541.1 2869.9 1542.6 2829.8 1545.4 2823.3 1547.6 2840.6 1548.7 2869.9 1614.1 2869.9 1615.2 2818.9 1616.2 2775.5 1618.0 2743.0 1620.6 2732.1 1622.8 2753.8 1625.0 2786.4 1627.1 2788.5 1628.9 2732.1 1629.7 2667.0 1631.1 2601.9 1632.6 2541.1 1634.8 2536.8 1636.9 2580.2 1639.1 2645.3 1641.3 2688.7 1642.8 2732.1 1644.6 2736.5 1646.3 2667.0 1647.8 2601.9 1649.3 2562.8 1651.5 2560.7 1653.3 2601.9 1655.4 2667.0 1657.6 2695.2 1659.8 2645.3 1661.5 2580.2 1663.1 2567.2 1664.6 2536.8 1665.9 2493.4 1667.4 2465.2 1669.0 2463.0 1670.3 2515.1 1671.1 2580.2 1672.0 2645.3 1673.3 2710.4 1674.6 2747.3 1676.8 2732.1 1679.4 2688.7 1682.7 2667.0 1685.5 2662.7 1687.7 2667.0 1689.2 2710.4 1690.7 2775.5 1692.0 2840.6 1693.6 2869.9 1717.5 2869.9 1718.2 2818.9 1718.6 2753.8 1719.7 2688.7 1721.9 2628.0 1724.1 2623.6 1726.2 2601.9 1729.5 2580.2 1733.9 2562.8 1738.2 2554.2 1743.7 2549.8 1748.0 2547.7 1749.1 2580.2 1750.2 2645.3 1751.7 2710.4 1753.0 2775.5 1753.9 2840.6 1755.2 2869.9 1777.4 2869.9 1778.5 2797.2 1779.6 2710.4 1781.3 2623.6 1782.9 2558.5 1784.4 2493.4 1786.1 2476.0 1788.3 2482.6 1789.4 2536.8 1790.5 2623.6 1791.6 2688.7 1793.8 2753.8 1797.5 2775.5 1797.5 2775.5 1798.6 2869.9 1804.1 2869.9 1805.2 2797.2 1806.3 2732.1 1808.0 2677.9 1810.2 2675.7 1811.1 2732.1 1811.9 2797.2 1812.8 2869.9 1833.5 2869.9 1834.6 2818.9 1835.7 2788.5 1838.9 2784.2 1843.3 2782.0 1845.5 2753.8 1849.8 2749.5 1852.0 2710.4 1853.7 2667.0 1855.3 2614.9 1857.4 2610.6 1859.0 2645.3 1860.7 2710.4 1862.9 2740.8 1867.3 2738.6 1870.5 2688.7 1872.0 2645.3 1874.2 2641.0 1876.0 2688.7 1877.1 2753.8 1878.6 2808.1 1880.3 2775.5 1882.5 2721.3 1886.9 2710.4 1890.1 2688.7 1892.3 2645.3 1893.8 2580.2 1895.1 2519.4 1897.3 2512.9 1898.8 2558.5 1899.9 2623.6 1901.7 2656.2 1906.5 2654.0 1910.8 2645.3 1916.3 2636.6 1921.7 2628.0 1926.1 2614.9 1930.4 2597.6 1932.6 2595.4 1934.8 2623.6 1937.0 2667.0 1939.1 2710.4 1940.9 2753.8 1943.1 2775.5 1945.7 2818.9 1946.8 2866.7 1948.3 2818.9 1950.0 2764.7 1954.4 2760.3 1958.7 2758.2 1962.0 2762.5 1963.5 2775.5 1965.3 2805.9 1967.4 2840.6 1969.6 2869.9 1981.6 2869.9 1982.7 2818.9 1983.8 2732.1 1984.9 2645.3 1986.6 2580.2 1988.1 2547.7 1990.3 2543.3 1991.8 2580.2 1994.7 2601.9 1997.9 2593.2 2002.3 2582.4 2004.5 2601.9 2006.2 2667.0 2007.7 2732.1 2009.9 2771.2 2013.2 2779.9 2017.5 2775.5 2020.8 2814.6 2021.9 2818.9 2024.1 2775.5 2028.4 2758.2 2032.8 2762.5 2037.1 2775.5 2041.5 2788.5 2045.9 2786.4 2050.2 2753.8 2052.4 2749.5 2055.7 2771.2 2061.1 2784.2 2065.5 2771.2 2069.8 2766.8 2076.4 2779.9 2080.7 2766.8 2087.2 2764.7 2093.8 2779.9 2098.6 2771.2 2098.7 2771.2 2101.5 2749.5 2103.7 2747.3 2105.9 2764.7 2108.7 2779.9 2110.2 2797.2 2111.3 2814.6 2112.4 2786.4 2115.7 2775.5 2120.0 2779.9 2123.3 2764.7 2126.5 2775.5 2129.8 2753.8 2132.0 2743.0 2135.3 2762.5 2139.6 2771.2 2144.0 2758.2 2147.2 2743.0 2150.5 2745.1 2153.8 2740.8 2157.0 2738.6 2159.2 2740.8 2161.4 2753.8 2164.7 2764.7 2169.0 2775.5 2173.4 2784.2 2177.7 2779.9 2181.0 2786.4 2182.1 2818.9 2182.7 2862.3 2183.6 2818.9 2184.3 2764.7 2187.5 2762.5 2191.9 2771.2 2196.2 2779.9 2202.8 2775.5 2208.2 2779.9 2212.6 2788.5 2213.7 2814.6 2214.8 2786.4 2216.9 2764.7 2219.1 2751.6 2222.4 2747.3 2226.7 2749.5 2228.9 2758.2 2230.7 2775.5 2231.5 2818.9 2232.8 2862.3 2234.4 2869.9 2296.4 2869.9" stroke="#0000ff" stroke-width="10"/>
<path d="M297.4 2869.9 299.1 2869.5 300.7 2872.8 302.3 2870.7 303.9 2873.5 305.6 2870.6 307.2 2869.9 M307.2 2869.9 308.9 2818.9 310.4 2786.4 312.1 2761.9 313.2 2760.6 314.3 2759.7 317.0 2786.4 318.0 2818.9 319.1 2869.9 M319.1 2869.9 320.6 2870.8 322.0 2871.5 323.5 2871.3 324.9 2871.8 326.3 2869.7 327.8 2870.5 329.2 2869.4 330.7 2874.1 332.1 2871.6 333.6 2870.6 335.0 2870.0 336.4 2872.2 337.9 2869.2 339.3 2870.0 340.8 2872.5 342.2 2871.8 343.7 2872.7 345.1 2873.4 346.5 2870.8 348.0 2869.9 M348.0 2869.9 349.5 2818.9 351.0 2775.5 353.8 2743.0 357.1 2732.1 360.4 2721.3 362.5 2699.6 364.7 2667.0 366.9 2623.6 369.0 2584.5 370.7 2575.1 373.4 2584.5 374.9 2623.6 376.2 2667.0 377.7 2710.4 378.8 2753.8 381.0 2775.5 383.1 2758.2 385.2 2743.2 387.9 2758.2 389.2 2797.2 390.1 2840.6 391.4 2869.9 393.0 2873.0 394.6 2873.2 396.2 2869.9 398.3 2840.6 400.1 2797.2 402.7 2775.5 404.8 2762.5 407.0 2752.6 408.8 2797.2 409.6 2840.6 410.3 2869.9 M410.3 2869.9 411.7 2873.3 413.1 2871.8 414.5 2873.0 416.0 2869.4 417.4 2870.1 418.8 2872.0 420.3 2871.9 421.7 2872.2 423.1 2871.2 424.5 2869.4 426.0 2870.8 427.4 2870.2 428.8 2872.5 430.2 2870.4 431.7 2872.9 433.1 2871.8 434.5 2871.1 435.9 2872.2 437.4 2873.6 438.8 2870.8 440.2 2869.5 441.6 2873.4 443.1 2870.6 444.5 2873.6 445.9 2871.5 447.3 2871.2 448.8 2873.3 450.2 2869.8 451.6 2873.5 453.0 2870.6 454.5 2873.0 455.9 2873.9 457.3 2873.3 458.7 2870.9 460.2 2874.0 461.6 2871.8 463.0 2870.7 464.4 2871.0 465.9 2869.6 467.3 2872.3 468.7 2871.4 470.1 2872.0 471.6 2873.6 473.0 2871.4 474.4 2869.3 475.8 2872.2 477.3 2869.6 478.7 2872.1 480.1 2871.9 481.5 2871.4 483.0 2869.9 M483.0 2869.9 484.1 2818.9 485.1 2786.4 486.8 2768.0 489.5 2786.4 490.6 2818.9 491.7 2869.9 M491.7 2869.9 493.1 2872.5 494.5 2869.6 495.9 2871.0 497.4 2870.2 498.8 2870.3 500.2 2869.8 501.6 2870.3 503.1 2873.4 504.5 2874.0 505.9 2872.2 507.3 2873.0 508.7 2869.3 510.2 2870.9 511.6 2872.7 513.0 2873.7 514.4 2869.5 515.9 2874.1 517.3 2874.0 518.7 2869.6 520.1 2871.2 521.6 2873.7 523.0 2870.9 524.4 2870.0 525.8 2872.1 527.3 2872.3 528.7 2873.0 530.1 2870.3 531.5 2871.7 533.0 2870.2 534.4 2873.8 535.8 2873.7 537.2 2873.9 538.7 2869.9 540.1 2870.1 541.5 2873.2 542.9 2871.5 544.4 2873.4 545.8 2872.4 547.2 2869.4 548.6 2869.8 550.1 2872.8 551.5 2870.5 552.9 2871.2 554.3 2872.2 555.8 2869.5 557.2 2869.9 M557.2 2869.9 558.5 2818.9 560.0 2775.5 563.3 2758.2 565.9 2753.8 568.0 2760.3 569.8 2775.5 570.9 2818.9 571.5 2869.9 M571.5 2869.9 573.0 2869.7 574.4 2871.6 575.9 2869.3 577.3 2870.9 578.8 2871.1 580.3 2869.7 581.7 2869.6 583.2 2873.0 584.6 2872.6 586.1 2871.6 587.5 2871.4 589.0 2873.7 590.5 2871.5 591.9 2869.9 M591.9 2869.9 593.3 2870.1 594.7 2871.7 596.2 2871.6 597.6 2871.9 599.0 2870.9 600.4 2871.7 601.8 2869.4 603.2 2872.5 604.6 2873.6 606.0 2872.8 607.5 2873.3 608.9 2874.0 610.3 2871.6 611.7 2871.3 613.1 2872.9 614.5 2870.3 615.9 2870.7 617.4 2872.1 618.8 2869.4 620.2 2874.0 621.6 2873.8 623.0 2871.7 624.4 2872.3 625.8 2870.9 627.3 2871.5 628.7 2869.7 630.1 2870.9 631.5 2870.1 632.9 2871.2 634.3 2869.9 M634.3 2869.9 635.4 2818.9 636.5 2786.4 638.2 2761.3 639.2 2765.0 640.3 2763.5 642.3 2797.2 643.6 2869.9 M643.6 2869.9 645.1 2873.4 646.6 2869.6 648.1 2869.9 649.5 2872.3 651.0 2873.8 652.5 2872.0 653.9 2871.8 655.4 2873.4 656.9 2870.2 658.4 2869.2 659.8 2871.7 661.3 2872.1 662.8 2869.8 664.2 2872.6 665.7 2872.2 667.2 2873.3 668.7 2870.8 670.1 2869.9 M670.1 2869.9 671.2 2818.9 672.7 2775.5 675.6 2743.0 677.7 2721.3 681.0 2706.1 684.2 2699.6 687.5 2710.4 690.7 2699.6 692.4 2693.4 695.1 2732.1 695.7 2775.5 696.6 2818.9 697.9 2862.3 699.4 2869.9 M699.4 2869.9 701.0 2869.5 702.5 2870.3 704.1 2870.4 705.6 2870.8 707.2 2872.4 708.7 2870.5 710.3 2869.9 M710.3 2869.9 711.4 2818.9 712.4 2775.5 714.6 2762.5 717.9 2753.8 720.0 2743.0 721.1 2688.7 722.2 2623.6 723.9 2536.8 726.1 2471.7 727.8 2456.5 729.8 2515.1 730.9 2580.2 732.0 2667.0 733.1 2753.8 734.1 2818.9 735.2 2869.9 M735.2 2869.9 736.7 2874.0 738.1 2870.0 739.6 2873.5 741.0 2870.4 742.5 2873.7 743.9 2870.3 745.4 2871.9 746.8 2870.4 748.2 2872.7 749.7 2872.2 751.1 2872.8 752.6 2871.2 754.0 2870.0 755.5 2870.8 756.9 2873.4 758.4 2871.7 759.8 2870.1 761.3 2869.9 M761.3 2869.9 762.4 2818.9 763.4 2753.8 764.5 2688.7 765.5 2642.5 767.7 2639.8 770.0 2688.7 771.0 2753.8 772.1 2818.9 773.2 2869.9 M773.2 2869.9 774.7 2869.6 776.1 2871.8 777.5 2873.3 779.0 2872.5 780.4 2873.1 781.9 2869.5 783.3 2871.4 784.8 2870.7 786.2 2870.3 787.7 2873.8 789.1 2873.4 790.6 2870.9 792.0 2874.1 793.5 2870.2 794.9 2873.3 796.4 2871.5 797.8 2871.3 799.2 2869.9 M799.2 2869.9 800.3 2818.9 802.5 2775.5 805.8 2732.1 807.9 2688.7 810.1 2656.2 811.8 2636.4 814.4 2649.7 816.6 2677.9 818.8 2721.3 820.9 2732.1 822.5 2775.5 824.2 2818.9 825.9 2869.9 M825.9 2869.9 827.4 2874.1 828.8 2873.1 830.2 2872.6 831.6 2872.4 833.0 2872.4 834.5 2873.2 835.9 2872.6 837.3 2870.9 838.7 2872.1 840.1 2871.3 841.6 2869.9 M841.6 2869.9 843.3 2818.9 845.0 2788.1 846.3 2787.1 847.6 2785.6 850.2 2808.1 851.3 2862.3 853.5 2862.3 855.7 2808.1 858.5 2775.5 861.1 2732.1 862.3 2684.2 864.5 2680.8 866.5 2732.1 867.6 2797.2 868.7 2869.9 M868.7 2869.9 870.2 2869.6 871.7 2873.7 873.2 2871.3 874.7 2871.7 876.2 2870.0 877.7 2871.9 879.2 2873.6 880.7 2872.7 882.2 2872.4 883.7 2872.0 885.2 2869.3 886.7 2869.2 888.2 2869.9 M888.2 2869.9 889.7 2818.9 891.4 2802.2 891.5 2801.4 893.7 2862.3 895.3 2869.9 896.8 2818.9 898.5 2775.5 900.7 2771.2 903.9 2786.4 905.5 2758.2 906.7 2748.0 908.9 2775.5 909.8 2818.9 910.4 2869.9 912.1 2869.7 913.7 2872.2 915.3 2873.3 917.0 2869.9 918.0 2818.9 919.8 2775.5 921.4 2754.9 922.8 2758.0 924.1 2753.2 926.3 2797.2 927.2 2840.6 928.0 2869.9 930.1 2872.8 932.1 2869.9 933.2 2818.9 935.0 2753.8 936.5 2710.4 937.5 2687.5 939.7 2691.3 941.5 2753.8 942.3 2818.9 943.6 2869.9 945.4 2872.8 947.1 2870.1 948.9 2869.9 950.2 2797.2 951.7 2732.1 952.7 2672.4 954.9 2672.6 956.7 2732.1 957.5 2797.2 958.8 2862.3 960.4 2869.9 961.9 2840.6 963.6 2788.5 965.3 2772.6 968.0 2788.5 969.0 2840.6 970.1 2869.9 M970.1 2869.9 971.5 2869.5 972.9 2873.0 974.3 2870.5 975.7 2872.4 977.1 2873.6 978.5 2869.5 979.9 2873.1 981.3 2870.8 982.7 2871.9 984.1 2871.3 985.5 2873.2 986.9 2872.6 988.3 2873.7 989.7 2872.7 991.1 2873.2 992.5 2873.1 994.0 2871.6 995.4 2871.8 996.8 2871.9 998.2 2869.7 999.6 2869.4 1001.0 2870.7 1002.4 2871.2 1003.8 2869.9 M1003.8 2869.9 1004.8 2818.9 1005.9 2775.5 1008.1 2753.8 1010.9 2732.1 1012.4 2710.4 1014.6 2667.0 1017.9 2649.7 1021.1 2645.3 1024.4 2649.7 1027.6 2658.3 1030.9 2667.0 1032.6 2623.6 1034.1 2580.2 1035.2 2557.2 1037.3 2554.6 1039.6 2580.2 1041.7 2601.9 1043.9 2667.0 1045.5 2666.6 1047.2 2667.0 1049.3 2623.6 1051.0 2588.1 1053.2 2587.7 1055.8 2623.6 1057.4 2645.3 1058.7 2710.4 1060.2 2753.8 1062.4 2775.5 1064.5 2788.5 1066.7 2792.9 1067.3 2818.9 1068.2 2869.9 M1068.2 2869.9 1069.6 2872.7 1071.0 2870.7 1072.5 2871.6 1073.9 2873.7 1075.3 2873.4 1076.7 2871.4 1078.1 2871.6 1079.5 2869.4 1080.9 2869.4 1082.3 2871.9 1083.8 2869.4 1085.2 2872.6 1086.6 2869.8 1088.0 2870.3 1089.4 2872.9 1090.8 2869.9 1092.2 2872.9 1093.6 2869.3 1095.1 2871.6 1096.5 2871.3 1097.9 2870.4 1099.3 2870.8 1100.7 2873.3 1102.1 2870.3 1103.5 2870.2 1104.9 2871.4 1106.4 2871.2 1107.8 2871.3 1109.2 2871.8 1110.6 2872.0 1112.0 2870.4 1113.4 2871.7 1114.8 2871.9 1116.2 2873.2 1117.7 2870.5 1119.1 2869.9 1120.5 2870.8 1121.9 2873.1 1123.3 2871.4 1124.7 2870.9 1126.1 2871.9 1127.5 2869.6 1129.0 2870.6 1130.4 2873.8 1131.8 2871.6 1133.2 2872.5 1134.6 2869.7 1136.0 2869.6 1137.4 2874.0 1138.8 2869.6 1140.3 2872.9 1141.7 2869.8 1143.1 2872.1 1144.5 2871.5 1145.9 2869.9 M1145.9 2869.9 1146.3 2818.9 1147.1 2784.6 1148.2 2783.6 1149.3 2782.1 1150.7 2818.9 1151.3 2869.9 M1151.3 2869.9 1152.8 2871.3 1154.3 2874.1 1155.8 2872.1 1157.3 2872.7 1158.7 2869.2 1160.2 2873.8 1161.7 2871.5 1163.2 2872.1 1164.6 2871.3 1166.1 2870.2 1167.6 2869.9 M1167.6 2869.9 1168.7 2818.9 1170.2 2775.5 1171.9 2743.0 1173.6 2728.5 1176.7 2753.8 1178.5 2786.4 1180.2 2732.1 1181.1 2667.0 1182.4 2601.9 1183.4 2587.9 1186.1 2601.9 1188.2 2645.3 1190.4 2688.7 1191.9 2710.4 1191.5 2628.5 1194.2 2645.3 1196.3 2688.7 1198.5 2693.1 1200.7 2732.1 1202.4 2775.5 1203.9 2818.9 1205.5 2869.9 M1205.5 2869.9 1206.9 2870.4 1208.4 2873.0 1209.9 2874.1 1211.4 2872.9 1212.8 2874.1 1214.3 2872.0 1215.8 2870.6 1217.3 2871.9 1218.7 2869.6 1220.2 2869.9 M1220.2 2869.9 1221.3 2840.6 1222.8 2797.2 1225.1 2787.0 1227.8 2797.2 1229.3 2840.6 1232.1 2862.3 1233.7 2797.2 1235.0 2710.4 1235.8 2623.6 1237.1 2536.8 1238.9 2450.0 1239.7 2361.3 1241.2 2360.7 1242.7 2360.8 1244.2 2363.1 1245.8 2361.1 1247.1 2450.0 1248.0 2536.8 1248.4 2623.6 1249.5 2710.4 1250.6 2797.2 1252.3 2840.6 1253.8 2869.9 M1253.8 2869.9 1255.2 2873.6 1256.6 2871.8 1258.0 2871.7 1259.4 2872.1 1260.8 2869.5 1262.2 2872.5 1263.6 2873.4 1265.0 2869.3 1266.4 2873.7 1267.8 2872.1 1269.2 2871.7 1270.7 2869.4 1272.1 2872.3 1273.5 2872.6 1274.9 2873.5 1276.3 2870.3 1277.7 2870.5 1279.1 2873.9 1280.5 2874.1 1281.9 2871.4 1283.3 2872.5 1284.7 2870.2 1286.1 2873.1 1287.5 2874.0 1288.9 2870.2 1290.3 2870.9 1291.7 2873.8 1293.1 2870.2 1294.5 2873.1 1295.9 2872.1 1297.3 2869.9 M1297.3 2869.9 1298.3 2818.9 1299.4 2775.5 1301.6 2753.8 1302.7 2699.6 1303.9 2688.3 1306.6 2721.3 1309.2 2753.8 1310.9 2710.4 1312.4 2667.0 1314.0 2623.6 1315.2 2608.9 1317.4 2645.3 1319.0 2710.4 1320.5 2775.5 1321.8 2840.6 1322.6 2869.9 1324.4 2869.9 1325.5 2775.5 1326.5 2667.0 1327.9 2580.2 1328.7 2526.2 1330.4 2524.5 1333.1 2558.5 1335.2 2623.6 1337.8 2645.3 1339.6 2580.2 1340.8 2541.0 1343.0 2539.7 1345.0 2580.2 1346.1 2645.3 1347.2 2710.4 1348.7 2775.5 1351.5 2788.5 1353.7 2797.2 1355.8 2840.6 1356.9 2869.9 1358.6 2873.0 1360.2 2871.4 1361.8 2874.0 1363.4 2869.9 1364.5 2818.9 1365.6 2753.8 1367.3 2688.7 1369.0 2650.5 1371.2 2647.6 1373.2 2688.7 1374.3 2753.8 1375.4 2818.9 1376.5 2869.9 M1376.5 2869.9 1377.9 2873.2 1379.3 2872.4 1380.7 2870.4 1382.1 2873.8 1383.5 2874.1 1384.9 2871.8 1386.3 2869.6 1387.7 2871.1 1389.1 2872.3 1390.5 2873.5 1391.9 2873.9 1393.3 2871.7 1394.7 2871.3 1396.2 2872.5 1397.6 2873.4 1399.0 2872.4 1400.4 2872.4 1401.8 2871.1 1403.2 2873.1 1404.6 2870.7 1406.0 2870.6 1407.4 2869.8 1408.8 2872.3 1410.2 2869.4 1411.6 2873.5 1413.0 2870.8 1414.4 2869.9 M1414.4 2869.9 1415.5 2818.9 1416.6 2775.5 1418.8 2758.2 1422.0 2753.8 1424.2 2732.1 1425.9 2688.7 1427.5 2645.3 1429.1 2631.4 1431.8 2667.0 1433.3 2732.1 1435.1 2775.5 1437.2 2818.9 1438.3 2869.9 1439.4 2869.9 1440.5 2775.5 1442.0 2688.7 1443.7 2634.5 1445.4 2612.9 1448.1 2645.3 1450.2 2688.7 1452.4 2732.1 1453.5 2667.0 1454.6 2612.8 1456.3 2600.1 1458.5 2645.3 1459.4 2710.4 1460.0 2775.5 1460.7 2869.9 1462.1 2873.2 1463.6 2871.9 1465.1 2869.5 1466.5 2869.9 1467.6 2818.9 1468.8 2789.5 1470.4 2792.5 1471.9 2787.7 1474.1 2818.9 1475.2 2869.9 M1475.2 2869.9 1476.7 2872.2 1478.2 2872.2 1479.8 2873.5 1481.3 2873.7 1482.8 2871.4 1484.3 2871.6 1485.8 2872.3 1487.4 2870.0 1488.9 2869.7 1490.4 2870.9 1491.9 2869.9 M1491.9 2869.9 1492.0 2869.9 1493.7 2840.6 1494.8 2784.0 1496.9 2784.3 1498.9 2840.6 1500.2 2869.9 1501.8 2873.6 1503.4 2873.7 1505.0 2869.9 1506.8 2818.9 1508.3 2753.8 1509.8 2710.4 1511.1 2667.0 1512.6 2623.6 1513.7 2580.2 1514.9 2559.0 1517.6 2571.5 1518.5 2623.6 1519.8 2688.7 1521.3 2775.5 1522.4 2869.9 1524.1 2869.9 1525.0 2775.5 1526.3 2688.7 1527.3 2638.0 1529.5 2634.1 1531.1 2688.7 1532.1 2753.8 1533.2 2818.9 1534.3 2869.9 1536.5 2869.9 1538.0 2829.8 1540.3 2813.0 1543.0 2840.6 1544.1 2869.9 M1544.1 2869.9 1545.5 2873.7 1546.9 2873.9 1548.3 2872.5 1549.7 2869.9 1551.2 2871.6 1552.6 2872.3 1554.0 2871.4 1555.4 2871.6 1556.8 2871.8 1558.2 2872.3 1559.7 2869.7 1561.1 2871.1 1562.5 2869.4 1563.9 2873.1 1565.3 2871.0 1566.7 2873.0 1568.1 2870.0 1569.6 2871.1 1571.0 2869.3 1572.4 2873.0 1573.8 2871.1 1575.2 2870.3 1576.6 2872.7 1578.1 2872.2 1579.5 2870.3 1580.9 2870.6 1582.3 2873.9 1583.7 2870.0 1585.1 2873.7 1586.5 2872.1 1588.0 2873.5 1589.4 2873.4 1590.8 2873.3 1592.2 2870.7 1593.6 2873.6 1595.0 2870.1 1596.4 2873.4 1597.9 2873.4 1599.3 2872.2 1600.7 2870.7 1602.1 2873.0 1603.5 2870.8 1604.9 2871.4 1606.4 2872.8 1607.8 2872.5 1609.2 2869.9 M1609.2 2869.9 1610.3 2818.9 1611.4 2775.5 1613.1 2743.0 1615.2 2723.2 1617.9 2753.8 1620.0 2786.4 1621.1 2789.1 1622.2 2788.5 1623.9 2732.1 1624.8 2667.0 1626.1 2601.9 1627.6 2541.1 1629.3 2531.0 1632.0 2580.2 1634.1 2645.3 1636.3 2688.7 1637.8 2732.1 1639.6 2736.5 1641.3 2667.0 1642.8 2601.9 1643.8 2554.3 1646.0 2551.3 1648.2 2601.9 1650.4 2667.0 1652.6 2695.2 1654.8 2645.3 1656.5 2580.2 1658.0 2567.2 1659.5 2536.8 1660.8 2493.4 1661.9 2457.0 1663.4 2457.6 1665.2 2515.1 1666.0 2580.2 1666.9 2645.3 1668.2 2710.4 1669.5 2747.3 1671.7 2732.1 1674.3 2688.7 1677.5 2667.0 1679.9 2657.1 1682.5 2667.0 1684.1 2710.4 1685.6 2775.5 1686.9 2840.6 1688.4 2869.9 M1688.4 2869.9 1689.8 2873.6 1691.2 2869.8 1692.6 2872.9 1694.0 2872.2 1695.4 2871.3 1696.8 2869.6 1698.2 2870.1 1699.6 2870.7 1701.0 2869.3 1702.4 2873.7 1703.8 2872.7 1705.2 2872.3 1706.7 2871.0 1708.1 2871.4 1709.5 2870.1 1710.9 2872.5 1712.3 2869.9 M1712.3 2869.9 1712.9 2818.9 1713.4 2753.8 1714.4 2688.7 1716.6 2628.0 1718.8 2623.6 1720.9 2601.9 1724.2 2580.2 1728.5 2562.8 1732.9 2554.2 1734.2 2554.6 1735.6 2554.3 1737.0 2551.6 1738.3 2549.8 1742.2 2539.4 1743.7 2580.2 1744.8 2645.3 1746.3 2710.4 1747.6 2775.5 1748.5 2840.6 1749.8 2869.9 M1749.8 2869.9 1751.3 2870.1 1752.8 2870.4 1754.2 2872.4 1755.7 2869.6 1757.2 2870.0 1758.7 2871.0 1760.1 2871.8 1761.6 2874.1 1763.1 2872.5 1764.6 2872.2 1766.0 2872.6 1767.5 2871.7 1769.0 2870.1 1770.5 2873.5 1771.9 2869.9 M1771.9 2869.9 1773.0 2797.2 1774.1 2710.4 1775.9 2623.6 1777.4 2558.5 1778.9 2493.4 1780.1 2466.7 1782.8 2482.6 1783.9 2536.8 1785.0 2623.6 1786.1 2688.7 1788.2 2753.8 1791.9 2775.5 1792.0 2775.5 1793.1 2869.9 1794.9 2873.5 1796.7 2869.9 1798.5 2869.9 1799.6 2797.2 1800.7 2732.1 1801.9 2669.9 1804.1 2666.3 1805.5 2732.1 1806.3 2797.2 1807.2 2869.9 M1807.2 2869.9 1808.7 2870.7 1810.1 2872.6 1811.6 2871.7 1813.1 2873.9 1814.6 2871.8 1816.0 2872.9 1817.5 2869.8 1819.0 2870.1 1820.4 2869.7 1821.9 2872.1 1823.4 2869.9 1824.9 2872.9 1826.3 2872.0 1827.8 2869.9 M1827.8 2869.9 1828.9 2818.9 1830.0 2788.5 1833.2 2784.2 1834.7 2785.7 1836.1 2784.6 1837.6 2782.0 1839.7 2753.8 1840.8 2756.0 1841.9 2751.3 1843.0 2750.6 1844.1 2749.5 1846.3 2710.4 1848.0 2667.0 1849.5 2614.9 1851.2 2602.3 1853.2 2645.3 1854.9 2710.4 1857.1 2740.8 1858.6 2741.3 1860.0 2743.3 1861.4 2738.6 1864.7 2688.7 1866.2 2645.3 1867.9 2631.0 1870.1 2688.7 1871.2 2753.8 1872.7 2808.1 1874.5 2775.5 1876.6 2721.3 1881.0 2710.4 1884.2 2688.7 1886.4 2645.3 1887.9 2580.2 1889.2 2519.4 1890.9 2506.6 1892.9 2558.5 1894.0 2623.6 1895.7 2656.2 1897.3 2657.9 1898.9 2657.5 1900.5 2654.0 1904.8 2645.3 1910.3 2636.6 1915.7 2628.0 1920.0 2614.9 1924.4 2597.6 1926.0 2585.4 1928.7 2623.6 1930.9 2667.0 1933.1 2710.4 1934.8 2753.8 1937.0 2775.5 1939.6 2818.9 1940.7 2866.7 1942.2 2818.9 1943.9 2764.7 1947.8 2750.8 1952.6 2758.2 1955.8 2762.5 1957.4 2775.5 1959.1 2805.9 1961.3 2840.6 1963.4 2869.9 M1963.4 2869.9 1964.9 2869.7 1966.4 2869.8 1967.9 2871.8 1969.4 2873.5 1970.9 2872.4 1972.4 2869.8 1973.9 2873.1 1975.4 2869.9 M1975.4 2869.9 1976.5 2818.9 1977.5 2732.1 1978.6 2645.3 1980.4 2580.2 1981.9 2547.7 1983.6 2537.6 1985.6 2580.2 1988.4 2601.9 1991.7 2593.2 1995.5 2576.0 1998.2 2601.9 1999.9 2667.0 2001.4 2732.1 2003.6 2771.2 2006.8 2779.9 2007.9 2778.3 2009.0 2778.2 2010.1 2780.4 2011.2 2775.5 2014.4 2814.6 2015.5 2818.9 2017.7 2775.5 2021.5 2751.4 2026.4 2762.5 2030.7 2775.5 2035.1 2788.5 2036.5 2789.7 2037.9 2788.8 2039.4 2786.4 2043.7 2753.8 2045.9 2749.5 2049.2 2771.2 2054.6 2784.2 2058.9 2771.2 2060.0 2771.2 2061.1 2772.9 2062.2 2769.6 2063.3 2766.8 2069.8 2779.9 2074.1 2766.8 2075.7 2767.3 2077.4 2765.5 2079.0 2765.0 2080.6 2764.7 2087.1 2779.9 2091.9 2771.2 2092.0 2771.2 2094.8 2749.5 2095.9 2750.8 2097.0 2747.3 2099.2 2764.7 2102.0 2779.9 2103.5 2797.2 2104.6 2814.6 2105.7 2786.4 2108.9 2775.5 2110.0 2776.9 2111.1 2778.5 2112.2 2779.6 2113.3 2779.9 2116.5 2764.7 2119.8 2775.5 2123.0 2753.8 2125.2 2743.0 2128.5 2762.5 2132.8 2771.2 2137.1 2758.2 2140.4 2743.0 2142.0 2747.6 2143.7 2745.1 2146.9 2740.8 2148.5 2739.6 2150.2 2738.6 2151.3 2743.6 2152.3 2740.8 2154.5 2753.8 2157.8 2764.7 2162.1 2775.5 2166.4 2784.2 2167.5 2786.9 2168.6 2784.9 2169.7 2780.9 2170.8 2779.9 2174.0 2786.4 2175.1 2818.9 2175.8 2862.3 2176.6 2818.9 2176.8 2755.0 2178.4 2756.1 2180.0 2753.7 2184.9 2771.2 2189.2 2779.9 2190.5 2780.9 2191.8 2779.6 2193.1 2778.9 2194.4 2777.8 2195.7 2775.5 2197.1 2779.8 2198.5 2780.2 2199.8 2781.1 2201.2 2779.9 2205.5 2788.5 2206.6 2814.6 2207.7 2786.4 2209.8 2764.7 2212.0 2751.6 2215.3 2747.3 2216.7 2749.1 2218.2 2749.4 2219.6 2749.5 2221.8 2758.2 2223.5 2775.5 2224.4 2818.9 2225.7 2862.3 2227.2 2869.9 M2227.2 2869.9 2228.6 2871.9 2230.0 2870.0 2231.4 2871.4 2232.8 2870.9 2234.2 2870.5 2235.6 2872.0 2237.0 2871.1 2238.5 2871.6 2239.9 2871.0 2241.3 2873.0 2242.7 2873.3 2244.1 2871.0 2245.5 2872.4 2246.9 2872.9 2248.3 2873.8 2249.7 2873.5 2251.1 2869.8 2252.5 2873.1 2253.9 2870.0 2255.3 2869.2 2256.7 2871.7 2258.1 2870.3 2259.5 2869.4 2260.9 2872.2 2262.3 2873.5 2263.8 2870.7 2265.2 2872.6 2266.6 2871.1 2268.0 2870.7 2269.4 2873.0 2270.8 2873.4 2272.2 2871.0 2273.6 2869.8 2275.0 2872.5 2276.4 2873.4 2277.8 2871.6 2279.2 2873.6 2280.6 2873.0 2282.0 2870.1 2283.4 2871.0 2284.8 2872.6 2286.2 2870.0 2287.6 2871.3 2289.1 2869.9" stroke="#f04040" stroke-width="5.6" stroke-dasharray="14 6 5 6" stroke-linecap="butt" transform="translate(-0.5 -2)"/>
<path d="M319.1 2873.0 V2877.7 M322.1 2876.7 Q325.4 2875.5 333.1 2874.5 M410.3 2873.0 V2873.4 M413.3 2872.4 Q420.9 2875.5 433.8 2874.5 M491.7 2873.0 V2877.2 M494.7 2876.2 Q498.8 2875.5 507.4 2874.5 M571.5 2873.0 V2873.9 M574.5 2872.9 Q578.6 2875.5 587.2 2874.5 M643.6 2873.0 V2875.2 M646.6 2874.2 Q652.1 2875.5 662.5 2874.5 M699.4 2873.0 V2873.3 M702.4 2872.3 Q704.3 2875.5 710.3 2874.5 M735.2 2873.0 V2873.2 M738.2 2872.2 Q743.6 2875.5 753.9 2874.5 M773.2 2873.0 V2874.6 M776.2 2873.6 Q781.5 2875.5 791.5 2874.5 M825.9 2873.0 V2874.9 M828.9 2873.9 Q832.8 2875.5 841.2 2874.5 M868.7 2873.0 V2877.2 M871.7 2876.2 Q876.6 2875.5 886.2 2874.5 M970.1 2873.0 V2877.5 M973.1 2876.5 Q980.7 2875.5 993.7 2874.5 M1068.2 2873.0 V2873.6 M1071.2 2872.6 Q1077.1 2875.5 1088.1 2874.5 M1151.3 2873.0 V2877.8 M1154.3 2876.8 Q1158.7 2875.5 1167.6 2874.5 M1205.5 2873.0 V2877.4 M1208.5 2876.4 Q1212.1 2875.5 1220.2 2874.5 M1253.8 2873.0 V2877.0 M1256.8 2876.0 Q1260.4 2875.5 1268.4 2874.5 M1376.5 2873.0 V2876.7 M1379.5 2875.7 Q1383.8 2875.5 1392.7 2874.5 M1475.2 2873.0 V2874.9 M1478.2 2873.9 Q1481.9 2875.5 1490.1 2874.5 M1688.4 2873.0 V2874.3 M1691.4 2873.3 Q1695.0 2875.5 1703.1 2874.5 M1749.8 2873.0 V2874.8 M1752.8 2873.8 Q1759.8 2875.5 1771.9 2874.5 M1807.2 2873.0 V2876.7 M1810.2 2875.7 Q1812.6 2875.5 1819.3 2874.5 M1963.4 2873.0 V2877.9 M1966.4 2876.9 Q1968.8 2875.5 1975.4 2874.5 M2227.2 2873.0 V2876.2 M2230.2 2875.2 Q2237.0 2875.5 2248.9 2874.5" stroke="#f04040" stroke-width="4.5" stroke-linecap="round"/>
<path d="M740.7 2870.0 V2953.0 M848.7 2870.0 V2918.0 M872.7 2870.0 V2884.0 M927.9 2870.0 V2919.0 M962.0 2870.0 V2881.0 M1067.6 2870.0 V2891.0 M1151.0 2870.0 V2921.0 M1205.6 2870.0 V2930.0 M1256.0 2870.0 V2947.0 M1353.8 2870.0 V2924.0 M1437.8 2870.0 V2931.0 M1500.2 2870.0 V2921.0 M1692.7 2870.0 V2933.0 M1811.5 2870.0 V2934.0 M1941.0 2870.0 V2924.0 M2226.0 2870.0 V2913.0 M1466.0 2870.0 V2888.0 M1760.0 2870.0 V2894.0 M2104.8 2808.0 V2873.0 M2054.7 2797.0 V2836.0 M1902.7 2667.0 V2713.0 M2001.4 2797.0 V2819.0 M2054.6 2797.0 V2836.0 M1637.0 2741.0 V2782.0" stroke="#f04040" stroke-width="5" stroke-dasharray="17 5 5 5" stroke-linecap="round"/>
<path d="M2006.8 2784.9 2008.3 2781.5 2009.7 2782.9 2011.2 2783.5 2012.8 2801.4 2014.4 2820.7 2015.5 2826.1 2016.6 2802.1 2017.7 2781.8 2019.1 2776.7 2020.6 2770.5 2022.0 2764.7 2023.5 2767.3 2024.9 2766.0 2026.4 2764.9 2027.8 2771.6 2029.3 2777.0 2030.7 2779.3 2032.2 2783.9 2033.6 2790.5 2035.1 2790.7 2036.5 2791.0 2037.9 2791.4 2039.4 2794.3 2040.8 2782.4 2042.3 2772.3 2043.7 2761.6 2044.8 2755.4 2045.9 2753.4 2047.5 2764.1 2049.2 2778.6 2050.5 2779.7 2051.9 2781.5 2053.2 2788.9 2054.6 2789.3 2056.0 2784.4 2057.5 2778.4 2058.9 2775.7 2060.4 2775.7 2061.8 2773.4 2063.3 2770.8 2064.6 2776.5 2065.9 2775.4 2067.2 2779.6 2068.5 2785.1 2069.8 2782.9 2071.2 2778.0 2072.7 2774.2 2074.1 2769.1 2075.4 2771.7 2076.7 2773.6 2078.0 2772.9 2079.3 2772.7 2080.6 2769.2 2081.9 2769.8 2083.2 2773.5 2084.5 2781.2 2085.8 2779.9 2087.1 2787.5 2088.7 2780.3 2090.3 2778.8 2091.9 2777.4 2092.0 2777.7 2093.4 2766.6 2094.8 2757.4 2095.9 2755.4 2097.0 2754.0 2098.1 2758.2 2099.2 2767.2 2100.6 2779.6 2102.0 2785.6 2103.5 2802.7 2104.6 2820.8 2105.7 2789.4 2107.3 2788.8 2108.9 2779.3 2110.4 2780.6 2111.8 2784.1 2113.3 2782.9 2114.9 2778.6 2116.5 2769.6 2118.2 2776.1 2119.8 2779.3 2121.4 2770.7 2123.0 2756.4 2124.1 2754.7 2125.2 2749.9 2126.8 2760.1 2128.5 2767.4 2129.9 2771.7 2131.4 2771.7 2132.8 2778.8 2134.3 2768.9 2135.7 2765.3 2137.1 2765.0 2138.8 2755.0 2140.4 2749.4 2142.0 2746.2 2143.7 2749.4 2145.3 2746.4 2146.9 2744.0 2148.5 2743.0 2150.2 2741.5 2151.3 2742.3 2152.3 2748.7 2153.4 2755.0 2154.5 2757.9 2156.1 2761.4 2157.8 2767.6 2159.2 2770.9 2160.7 2775.6 2162.1 2782.4 2163.5 2785.4 2165.0 2788.7 2166.4 2790.4 2167.9 2787.0 2169.3 2787.5 2170.8 2783.3 2172.4 2790.8 2174.0 2792.2 2175.1 2825.5 2175.8 2866.9 2176.6 2826.7 2177.3 2771.7 2178.9 2771.4 2180.5 2764.5 2182.0 2773.3 2183.4 2775.2 2184.9 2776.8 2186.3 2779.4 2187.8 2781.0 2189.2 2784.9 2190.5 2783.3 2191.8 2780.7 2193.1 2781.9 2194.4 2781.7 2195.7 2780.9 2197.1 2781.2 2198.5 2782.8 2199.8 2785.9 2201.2 2783.5 2202.6 2789.2 2204.1 2793.2 2205.5 2791.1 2206.6 2822.6 2207.7 2792.0 2208.8 2780.0 2209.8 2768.7 2210.9 2760.5 2212.0 2757.4 2213.6 2752.0 2215.3 2753.2 2216.7 2753.6 2218.2 2752.5 2219.6 2751.7 2220.7 2758.7 2221.8 2763.1" stroke="#f04040" stroke-width="4.5" stroke-linecap="butt"/>
<path d="M2006.8 2779.9 2008.3 2778.0 2009.7 2775.3 2011.2 2776.8 2012.8 2792.0 2014.4 2808.7 2015.5 2817.9 2016.6 2793.9 2017.7 2771.3 2019.1 2768.3 2020.6 2760.6 2022.0 2756.7 2023.5 2758.2 2024.9 2756.4 2026.4 2761.3 2027.8 2764.0 2029.3 2770.9 2030.7 2771.3 2032.2 2780.4 2033.6 2784.9 2035.1 2783.0 2036.5 2782.4 2037.9 2786.4 2039.4 2786.6 2040.8 2769.7 2042.3 2760.1 2043.7 2748.5 2044.8 2750.0 2045.9 2746.5 2047.5 2757.3 2049.2 2765.9 2050.5 2773.3 2051.9 2779.6 2053.2 2778.3 2054.6 2784.7 2056.0 2774.5 2057.5 2777.1 2058.9 2768.7 2060.4 2766.3 2061.8 2767.2 2063.3 2762.3 2064.6 2768.7 2065.9 2771.1 2067.2 2773.9 2068.5 2774.9 2069.8 2776.5 2071.2 2775.8 2072.7 2772.9 2074.1 2762.3 2075.4 2766.4 2076.7 2765.3 2078.0 2763.0 2079.3 2762.4 2080.6 2761.8 2081.9 2769.1 2083.2 2770.2 2084.5 2773.4 2085.8 2778.1 2087.1 2780.7 2088.7 2776.5 2090.3 2770.0 2091.9 2767.4 2092.0 2768.6 2093.4 2758.9 2094.8 2746.2 2095.9 2743.5 2097.0 2743.2 2098.1 2750.8 2099.2 2765.8 2100.6 2767.9 2102.0 2777.4 2103.5 2795.3 2104.6 2809.2 2105.7 2783.3 2107.3 2775.3 2108.9 2770.6 2110.4 2776.2 2111.8 2774.6 2113.3 2779.5 2114.9 2766.4 2116.5 2760.8 2118.2 2767.6 2119.8 2774.8 2121.4 2764.4 2123.0 2751.0 2124.1 2742.7 2125.2 2740.5 2126.8 2747.0 2128.5 2763.1 2129.9 2760.5 2131.4 2763.4 2132.8 2767.8 2134.3 2765.9 2135.7 2759.0 2137.1 2756.2 2138.8 2748.5 2140.4 2737.0 2142.0 2745.9 2143.7 2744.8 2145.3 2737.5 2146.9 2739.1 2148.5 2740.3 2150.2 2733.9 2151.3 2740.9 2152.3 2737.6 2153.4 2746.3 2154.5 2753.9 2156.1 2760.4 2157.8 2763.7 2159.2 2765.6 2160.7 2766.8 2162.1 2775.5 2163.5 2773.8 2165.0 2782.7 2166.4 2779.3 2167.9 2782.2 2169.3 2783.2 2170.8 2774.7 2172.4 2784.4 2174.0 2786.2 2175.1 2816.5 2175.8 2858.5 2176.6 2820.6 2177.3 2760.4 2178.9 2758.3 2180.5 2763.8 2182.0 2761.5 2183.4 2764.0 2184.9 2768.1 2186.3 2775.7 2187.8 2778.8 2189.2 2775.8 2190.5 2777.9 2191.8 2778.3 2193.1 2774.9 2194.4 2778.0 2195.7 2770.7 2197.1 2777.7 2198.5 2774.7 2199.8 2779.1 2201.2 2779.5 2202.6 2784.0 2204.1 2780.9 2205.5 2786.8 2206.6 2813.5 2207.7 2781.2 2208.8 2773.4 2209.8 2760.2 2210.9 2753.5 2212.0 2751.9 2213.6 2747.2 2215.3 2747.9 2216.7 2747.8 2218.2 2743.9 2219.6 2748.1 2220.7 2754.4 2221.8 2758.2" stroke="#00ff00" stroke-width="3.8" transform="translate(-0.5 -3)"/>
<path d="M297.4 2869.9 307.2 2869.9 308.9 2818.9 310.4 2786.4 312.6 2771.2 314.8 2770.1 317.0 2786.4 318.0 2818.9 319.1 2869.9 348.0 2869.9 349.5 2818.9 351.0 2775.5 353.8 2743.0 357.1 2732.1 360.4 2721.3 362.5 2699.6 364.7 2667.0 366.9 2623.6 369.0 2584.5 371.2 2580.2 373.4 2584.5 374.9 2623.6 376.2 2667.0 377.7 2710.4 378.8 2753.8 381.0 2775.5 383.1 2758.2 385.8 2753.8 387.9 2758.2 389.2 2797.2 390.1 2840.6 391.4 2869.9 396.2 2869.9 398.3 2840.6 400.1 2797.2 402.7 2775.5 404.8 2762.5 407.5 2762.5 408.8 2797.2 409.6 2840.6 410.3 2869.9 483.0 2869.9 484.1 2818.9 485.1 2786.4 487.3 2773.4 489.5 2786.4 490.6 2818.9 491.7 2869.9 557.2 2869.9 558.5 2818.9 560.0 2775.5 563.3 2758.2 565.9 2753.8 568.0 2760.3 569.8 2775.5 570.9 2818.9 571.5 2869.9 591.9 2869.9 634.3 2869.9 635.4 2818.9 636.5 2786.4 638.7 2771.2 640.8 2773.4 642.3 2797.2 643.6 2869.9 670.1 2869.9 671.2 2818.9 672.7 2775.5 675.6 2743.0 677.7 2721.3 681.0 2706.1 684.2 2699.6 687.5 2710.4 690.7 2699.6 692.9 2699.6 695.1 2732.1 695.7 2775.5 696.6 2818.9 697.9 2862.3 699.4 2869.9 710.3 2869.9 711.4 2818.9 712.4 2775.5 714.6 2762.5 717.9 2753.8 720.0 2743.0 721.1 2688.7 722.2 2623.6 723.9 2536.8 726.1 2471.7 728.3 2467.4 729.8 2515.1 730.9 2580.2 732.0 2667.0 733.1 2753.8 734.1 2818.9 735.2 2869.9 761.3 2869.9 762.4 2818.9 763.4 2753.8 764.5 2688.7 766.0 2649.7 768.2 2647.5 770.0 2688.7 771.0 2753.8 772.1 2818.9 773.2 2869.9 799.2 2869.9 800.3 2818.9 802.5 2775.5 805.8 2732.1 807.9 2688.7 810.1 2656.2 812.3 2645.3 814.4 2649.7 816.6 2677.9 818.8 2721.3 820.9 2732.1 822.5 2775.5 824.2 2818.9 825.9 2869.9 841.6 2869.9 843.3 2818.9 845.5 2797.2 848.1 2795.1 850.2 2808.1 851.3 2862.3 853.5 2862.3 855.7 2808.1 858.5 2775.5 861.1 2732.1 862.8 2690.9 865.0 2688.7 866.5 2732.1 867.6 2797.2 868.7 2869.9 888.2 2869.9 889.7 2818.9 891.9 2808.1 892.0 2808.1 893.7 2862.3 895.3 2869.9 896.8 2818.9 898.5 2775.5 900.7 2771.2 903.9 2786.4 905.5 2758.2 907.2 2756.0 908.9 2775.5 909.8 2818.9 910.4 2869.9 917.0 2869.9 918.0 2818.9 919.8 2775.5 921.9 2760.3 924.6 2760.3 926.3 2797.2 927.2 2840.6 928.0 2869.9 932.1 2869.9 933.2 2818.9 935.0 2753.8 936.5 2710.4 938.0 2697.4 940.2 2697.4 941.5 2753.8 942.3 2818.9 943.6 2869.9 948.9 2869.9 950.2 2797.2 951.7 2732.1 953.2 2680.0 955.4 2677.9 956.7 2732.1 957.5 2797.2 958.8 2862.3 960.4 2869.9 961.9 2840.6 963.6 2788.5 965.8 2782.0 968.0 2788.5 969.0 2840.6 970.1 2869.9 1003.8 2869.9 1004.8 2818.9 1005.9 2775.5 1008.1 2753.8 1010.9 2732.1 1012.4 2710.4 1014.6 2667.0 1017.9 2649.7 1021.1 2645.3 1024.4 2649.7 1027.6 2658.3 1030.9 2667.0 1032.6 2623.6 1034.1 2580.2 1035.7 2562.8 1037.8 2560.7 1039.6 2580.2 1041.7 2601.9 1043.9 2667.0 1047.2 2667.0 1049.3 2623.6 1051.5 2597.6 1053.7 2595.4 1055.8 2623.6 1057.4 2645.3 1058.7 2710.4 1060.2 2753.8 1062.4 2775.5 1064.5 2788.5 1066.7 2792.9 1067.3 2818.9 1068.2 2869.9 1145.9 2869.9 1146.3 2818.9 1147.6 2792.9 1149.8 2790.7 1150.7 2818.9 1151.3 2869.9 1167.6 2869.9 1168.7 2818.9 1170.2 2775.5 1171.9 2743.0 1174.1 2736.5 1176.7 2753.8 1178.5 2786.4 1180.2 2732.1 1181.1 2667.0 1182.4 2601.9 1183.9 2595.4 1186.1 2601.9 1188.2 2645.3 1190.4 2688.7 1191.9 2710.4 1192.0 2634.5 1194.2 2645.3 1196.3 2688.7 1198.5 2693.1 1200.7 2732.1 1202.4 2775.5 1203.9 2818.9 1205.5 2869.9 1220.2 2869.9 1221.3 2840.6 1222.8 2797.2 1225.6 2792.9 1227.8 2797.2 1229.3 2840.6 1232.1 2862.3 1233.7 2797.2 1235.0 2710.4 1235.8 2623.6 1237.1 2536.8 1238.9 2450.0 1240.2 2367.5 1246.3 2367.5 1247.1 2450.0 1248.0 2536.8 1248.4 2623.6 1249.5 2710.4 1250.6 2797.2 1252.3 2840.6 1253.8 2869.9 1297.3 2869.9 1298.3 2818.9 1299.4 2775.5 1301.6 2753.8 1302.7 2699.6 1304.4 2695.2 1306.6 2721.3 1309.2 2753.8 1310.9 2710.4 1312.4 2667.0 1314.0 2623.6 1315.7 2619.3 1317.4 2645.3 1319.0 2710.4 1320.5 2775.5 1321.8 2840.6 1322.6 2869.9 1324.4 2869.9 1325.5 2775.5 1326.5 2667.0 1327.9 2580.2 1329.2 2532.5 1330.9 2530.3 1333.1 2558.5 1335.2 2623.6 1337.8 2645.3 1339.6 2580.2 1341.3 2547.7 1343.5 2545.5 1345.0 2580.2 1346.1 2645.3 1347.2 2710.4 1348.7 2775.5 1351.5 2788.5 1353.7 2797.2 1355.8 2840.6 1356.9 2869.9 1363.4 2869.9 1364.5 2818.9 1365.6 2753.8 1367.3 2688.7 1369.5 2660.5 1371.7 2658.3 1373.2 2688.7 1374.3 2753.8 1375.4 2818.9 1376.5 2869.9 1414.4 2869.9 1415.5 2818.9 1416.6 2775.5 1418.8 2758.2 1422.0 2753.8 1424.2 2732.1 1425.9 2688.7 1427.5 2645.3 1429.6 2641.0 1431.8 2667.0 1433.3 2732.1 1435.1 2775.5 1437.2 2818.9 1438.3 2869.9 1439.4 2869.9 1440.5 2775.5 1442.0 2688.7 1443.7 2634.5 1445.9 2623.6 1448.1 2645.3 1450.2 2688.7 1452.4 2732.1 1453.5 2667.0 1454.6 2612.8 1456.8 2608.4 1458.5 2645.3 1459.4 2710.4 1460.0 2775.5 1460.7 2869.9 1466.5 2869.9 1467.6 2818.9 1469.3 2797.2 1472.4 2795.1 1474.1 2818.9 1475.2 2869.9 1491.9 2869.9 1492.0 2869.9 1493.7 2840.6 1495.3 2792.9 1497.4 2790.7 1498.9 2840.6 1500.2 2869.9 1505.0 2869.9 1506.8 2818.9 1508.3 2753.8 1509.8 2710.4 1511.1 2667.0 1512.6 2623.6 1513.7 2580.2 1515.4 2567.2 1517.6 2571.5 1518.5 2623.6 1519.8 2688.7 1521.3 2775.5 1522.4 2869.9 1524.1 2869.9 1525.0 2775.5 1526.3 2688.7 1527.8 2645.3 1530.0 2643.1 1531.1 2688.7 1532.1 2753.8 1533.2 2818.9 1534.3 2869.9 1536.5 2869.9 1538.0 2829.8 1540.8 2823.3 1543.0 2840.6 1544.1 2869.9 1609.2 2869.9 1610.3 2818.9 1611.4 2775.5 1613.1 2743.0 1615.7 2732.1 1617.9 2753.8 1620.0 2786.4 1622.2 2788.5 1623.9 2732.1 1624.8 2667.0 1626.1 2601.9 1627.6 2541.1 1629.8 2536.8 1632.0 2580.2 1634.1 2645.3 1636.3 2688.7 1637.8 2732.1 1639.6 2736.5 1641.3 2667.0 1642.8 2601.9 1644.3 2562.8 1646.5 2560.7 1648.2 2601.9 1650.4 2667.0 1652.6 2695.2 1654.8 2645.3 1656.5 2580.2 1658.0 2567.2 1659.5 2536.8 1660.8 2493.4 1662.4 2465.2 1663.9 2463.0 1665.2 2515.1 1666.0 2580.2 1666.9 2645.3 1668.2 2710.4 1669.5 2747.3 1671.7 2732.1 1674.3 2688.7 1677.5 2667.0 1680.4 2662.7 1682.5 2667.0 1684.1 2710.4 1685.6 2775.5 1686.9 2840.6 1688.4 2869.9 1712.3 2869.9 1712.9 2818.9 1713.4 2753.8 1714.4 2688.7 1716.6 2628.0 1718.8 2623.6 1720.9 2601.9 1724.2 2580.2 1728.5 2562.8 1732.9 2554.2 1738.3 2549.8 1742.7 2547.7 1743.7 2580.2 1744.8 2645.3 1746.3 2710.4 1747.6 2775.5 1748.5 2840.6 1749.8 2869.9 1771.9 2869.9 1773.0 2797.2 1774.1 2710.4 1775.9 2623.6 1777.4 2558.5 1778.9 2493.4 1780.6 2476.0 1782.8 2482.6 1783.9 2536.8 1785.0 2623.6 1786.1 2688.7 1788.2 2753.8 1791.9 2775.5 1792.0 2775.5 1793.1 2869.9 1798.5 2869.9 1799.6 2797.2 1800.7 2732.1 1802.4 2677.9 1804.6 2675.7 1805.5 2732.1 1806.3 2797.2 1807.2 2869.9 1827.8 2869.9 1828.9 2818.9 1830.0 2788.5 1833.2 2784.2 1837.6 2782.0 1839.7 2753.8 1844.1 2749.5 1846.3 2710.4 1848.0 2667.0 1849.5 2614.9 1851.7 2610.6 1853.2 2645.3 1854.9 2710.4 1857.1 2740.8 1861.4 2738.6 1864.7 2688.7 1866.2 2645.3 1868.4 2641.0 1870.1 2688.7 1871.2 2753.8 1872.7 2808.1 1874.5 2775.5 1876.6 2721.3 1881.0 2710.4 1884.2 2688.7 1886.4 2645.3 1887.9 2580.2 1889.2 2519.4 1891.4 2512.9 1892.9 2558.5 1894.0 2623.6 1895.7 2656.2 1900.5 2654.0 1904.8 2645.3 1910.3 2636.6 1915.7 2628.0 1920.0 2614.9 1924.4 2597.6 1926.5 2595.4 1928.7 2623.6 1930.9 2667.0 1933.1 2710.4 1934.8 2753.8 1937.0 2775.5 1939.6 2818.9 1940.7 2866.7 1942.2 2818.9 1943.9 2764.7 1948.2 2760.3 1952.6 2758.2 1955.8 2762.5 1957.4 2775.5 1959.1 2805.9 1961.3 2840.6 1963.4 2869.9 1975.4 2869.9 1976.5 2818.9 1977.5 2732.1 1978.6 2645.3 1980.4 2580.2 1981.9 2547.7 1984.1 2543.3 1985.6 2580.2 1988.4 2601.9 1991.7 2593.2 1996.0 2582.4 1998.2 2601.9 1999.9 2667.0 2001.4 2732.1 2003.6 2771.2 2006.8 2779.9 2011.2 2775.5 2014.4 2814.6 2015.5 2818.9 2017.7 2775.5 2022.0 2758.2 2026.4 2762.5 2030.7 2775.5 2035.1 2788.5 2039.4 2786.4 2043.7 2753.8 2045.9 2749.5 2049.2 2771.2 2054.6 2784.2 2058.9 2771.2 2063.3 2766.8 2069.8 2779.9 2074.1 2766.8 2080.6 2764.7 2087.1 2779.9 2091.9 2771.2 2092.0 2771.2 2094.8 2749.5 2097.0 2747.3 2099.2 2764.7 2102.0 2779.9 2103.5 2797.2 2104.6 2814.6 2105.7 2786.4 2108.9 2775.5 2113.3 2779.9 2116.5 2764.7 2119.8 2775.5 2123.0 2753.8 2125.2 2743.0 2128.5 2762.5 2132.8 2771.2 2137.1 2758.2 2140.4 2743.0 2143.7 2745.1 2146.9 2740.8 2150.2 2738.6 2152.3 2740.8 2154.5 2753.8 2157.8 2764.7 2162.1 2775.5 2166.4 2784.2 2170.8 2779.9 2174.0 2786.4 2175.1 2818.9 2175.8 2862.3 2176.6 2818.9 2177.3 2764.7 2180.5 2762.5 2184.9 2771.2 2189.2 2779.9 2195.7 2775.5 2201.2 2779.9 2205.5 2788.5 2206.6 2814.6 2207.7 2786.4 2209.8 2764.7 2212.0 2751.6 2215.3 2747.3 2219.6 2749.5 2221.8 2758.2 2223.5 2775.5 2224.4 2818.9 2225.7 2862.3 2227.2 2869.9 2289.1 2869.9" stroke="#00ff00" stroke-width="4.4" stroke-dasharray="12 7.5 1 7.5" transform="translate(-0.5 -3)"/>
</g>
<g shape-rendering="crispEdges" stroke="#000" stroke-width="10" fill="none">
<rect x="292" y="2227" width="2001" height="743"/>
<path d="M458.8 2970 v-15 M625.5 2970 v-30 M792.2 2970 v-15 M959.0 2970 v-30 M1125.8 2970 v-15 M1292.5 2970 v-30 M1459.2 2970 v-15 M1626.0 2970 v-30 M1792.7 2970 v-15 M1959.5 2970 v-30 M2126.2 2970 v-15 M292 2821.4 h29 M292 2672.8 h29 M292 2524.2 h29 M292 2375.6 h29 M292 2895.7 h15 M292 2747.1 h15 M292 2598.5 h15 M292 2449.9 h15 M292 2301.3 h15"/>
</g>
<g font-size="94">
<text x="292.0" y="3071" text-anchor="middle">0</text>
<text x="625.5" y="3071" text-anchor="middle">300</text>
<text x="959.0" y="3071" text-anchor="middle">600</text>
<text x="1292.5" y="3071" text-anchor="middle">900</text>
<text x="1626.0" y="3071" text-anchor="middle">1200</text>
<text x="1959.5" y="3071" text-anchor="middle">1500</text>
<text x="2293.0" y="3071" text-anchor="middle">1800</text>
<text x="262" y="2996.5" text-anchor="end">2.0</text>
<text x="262" y="2847.9" text-anchor="end">2.2</text>
<text x="262" y="2699.3" text-anchor="end">2.4</text>
<text x="262" y="2550.7" text-anchor="end">2.6</text>
<text x="262" y="2402.1" text-anchor="end">2.8</text>
<text x="262" y="2253.5" text-anchor="end">3.0</text>
<text x="1292.5" y="3157.2" text-anchor="middle">Time (s)</text>
<text transform="translate(113 2624.5) rotate(-90)" text-anchor="middle">Pressure (bar)</text>
<text x="27" y="2228.5">(c)</text>
</g>
<g fill="none" stroke-linecap="round">
<path d="M1753.2 2269.7 h170" stroke="#0000ff" stroke-width="16"/>
<path d="M1749.7 2360.5 h164" stroke="#f04040" stroke-width="7.4" stroke-dasharray="29 20.4 7.6 20.4 7.6 20.4"/>
<path d="M1748.2 2452 h68" stroke="#00ff00" stroke-width="5" stroke-dasharray="17 9 2.5 10.5"/>
<path d="M1826.2 2452 h95" stroke="#00ff00" stroke-opacity="0.4" stroke-width="4" stroke-linecap="butt" stroke-dasharray="21 5 7 6"/>
</g>
<g font-size="74">
<text x="1941.2" y="2293.3">Demand</text>
<text x="1941.2" y="2385.5">Distributed</text>
<text x="1941.2" y="2477.7">Integrated</text>
</g>
</g>
</svg></body></html>
